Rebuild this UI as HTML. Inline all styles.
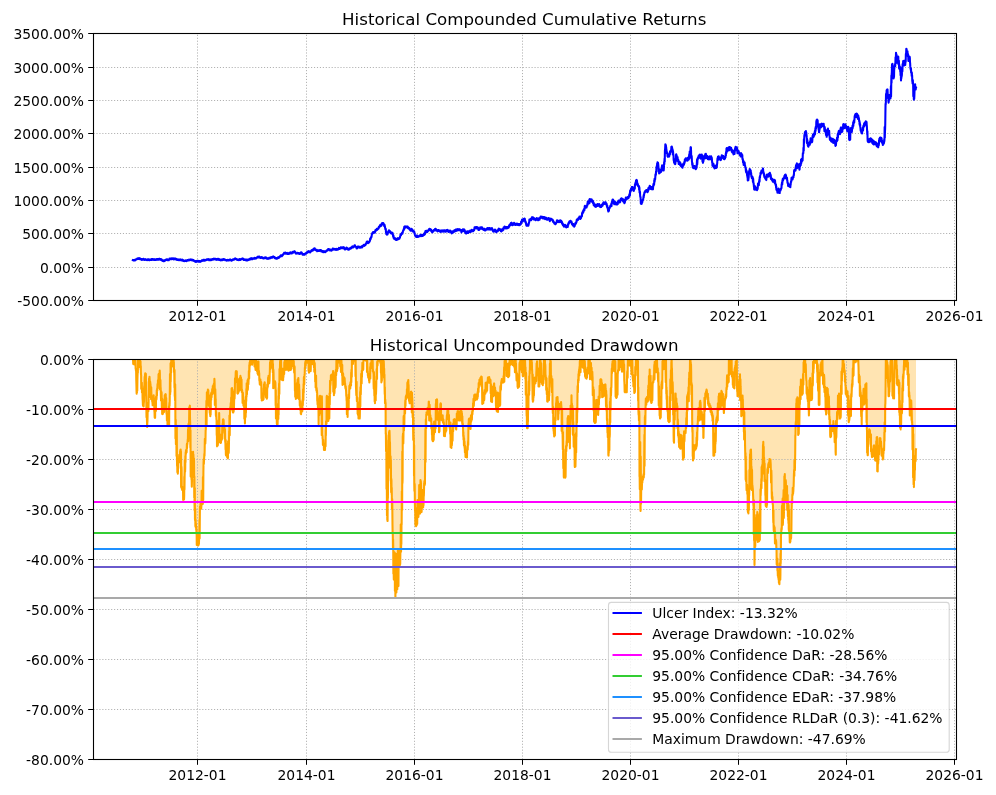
<!DOCTYPE html>
<html lang="en"><head><meta charset="utf-8"><title>Historical Drawdown</title>
<style>html,body{margin:0;padding:0;background:#fff}svg{display:block;font-variant-ligatures:none;font-feature-settings:'liga' 0,'clig' 0}</style>
</head><body>
<svg width="996" height="795" viewBox="0 0 996 795" font-family="'DejaVu Sans', 'Liberation Sans', sans-serif" font-size="13.89" fill="#000">
<rect width="996" height="795" fill="#fff"/>
<defs><clipPath id="c1"><rect x="93.5" y="33.5" width="863.0" height="267.0"/></clipPath><clipPath id="c2"><rect x="93.5" y="359.5" width="863.0" height="400.0"/></clipPath></defs>
<g stroke="#b0b0b0" stroke-width="1" stroke-dasharray="1.11 1.83" fill="none">
<path d="M197.5 300.5V33.5"/>
<path d="M306.5 300.5V33.5"/>
<path d="M414.5 300.5V33.5"/>
<path d="M522.5 300.5V33.5"/>
<path d="M630.5 300.5V33.5"/>
<path d="M738.5 300.5V33.5"/>
<path d="M846.5 300.5V33.5"/>
<path d="M954.5 300.5V33.5"/>
<path d="M93.5 300.5H956.5"/>
<path d="M93.5 267.5H956.5"/>
<path d="M93.5 233.5H956.5"/>
<path d="M93.5 200.5H956.5"/>
<path d="M93.5 167.5H956.5"/>
<path d="M93.5 133.5H956.5"/>
<path d="M93.5 100.5H956.5"/>
<path d="M93.5 67.5H956.5"/>
<path d="M93.5 33.5H956.5"/>
</g>
<path clip-path="url(#c1)" d="M132.8 260.1 L132.95 260.2 L133.09 260.09 L133.24 260.36 L133.39 259.99 L133.54 260 L133.68 260.28 L133.83 260.36 L133.98 260.06 L134.12 260.23 L134.27 260.21 L134.42 260.13 L134.57 260.2 L134.71 259.89 L134.86 259.86 L135.01 260.56 L135.16 259.92 L135.3 260.32 L135.45 259.97 L135.6 259.81 L135.74 259.59 L135.89 259.26 L136.04 259.75 L136.19 259.4 L136.33 259.21 L136.48 259.3 L136.63 259.03 L136.78 258.83 L136.92 258.76 L137.07 258.93 L137.22 259.05 L137.36 258.51 L137.51 258.4 L137.66 258.56 L137.81 258.76 L137.95 258.69 L138.1 258.5 L138.25 258.42 L138.39 258.97 L138.54 258.75 L138.69 258.3 L138.84 258.78 L138.98 258.18 L139.13 258.93 L139.28 258.47 L139.43 258.32 L139.57 258.35 L139.72 258.78 L139.87 258.91 L140.01 258.94 L140.16 259.25 L140.31 258.62 L140.46 259.15 L140.6 259.18 L140.75 258.87 L140.9 259.26 L141.05 259.49 L141.19 259.39 L141.34 259.37 L141.49 259.05 L141.63 259.16 L141.78 259.9 L141.93 259.26 L142.08 259.75 L142.22 259 L142.37 259.15 L142.52 259.81 L142.67 259.56 L142.81 259.37 L142.96 259.46 L143.11 259.43 L143.25 259.08 L143.4 258.95 L143.55 259.15 L143.7 258.85 L143.84 259.59 L143.99 259.42 L144.14 259.67 L144.29 259.67 L144.43 259.84 L144.58 259.45 L144.73 259.73 L144.87 259.6 L145.02 259.21 L145.17 259.48 L145.32 259.87 L145.46 259.74 L145.61 259.23 L145.76 259.74 L145.91 259.39 L146.05 259.8 L146.2 259.7 L146.35 259.88 L146.49 259.9 L146.64 259.69 L146.79 259.66 L146.94 259.73 L147.08 260.23 L147.23 260.16 L147.38 260.02 L147.53 259.44 L147.67 259.39 L147.82 259.75 L147.97 259.31 L148.12 259.24 L148.26 259.92 L148.41 259.38 L148.56 259.78 L148.71 259.72 L148.85 259.7 L149 260.07 L149.15 259.54 L149.29 260.25 L149.44 259.53 L149.59 260.19 L149.74 259.5 L149.88 259.78 L150.03 259.8 L150.18 259.47 L150.33 259.56 L150.47 260.03 L150.62 259.83 L150.77 259.82 L150.92 259.91 L151.06 259.72 L151.21 259.22 L151.36 259.42 L151.51 259.7 L151.65 259.79 L151.8 259.15 L151.95 259.71 L152.09 259.11 L152.24 259.32 L152.39 259.69 L152.54 259.08 L152.68 259.26 L152.83 259.71 L152.98 259.17 L153.13 259.63 L153.27 259.87 L153.42 259.61 L153.57 259.59 L153.72 259.39 L153.86 259.38 L154.01 259.62 L154.16 259.18 L154.31 259.85 L154.45 259.23 L154.6 259.21 L154.75 259.7 L154.89 259.85 L155.04 259.7 L155.19 259.95 L155.34 259.44 L155.48 259.93 L155.63 259.65 L155.78 259.6 L155.93 259.79 L156.07 259.38 L156.22 259.12 L156.37 259.55 L156.52 259.63 L156.66 259.72 L156.81 259.49 L156.96 259.85 L157.11 259.05 L157.25 259.18 L157.4 259.7 L157.55 259.11 L157.69 259.04 L157.84 259.61 L157.99 259.54 L158.14 259.47 L158.28 259.65 L158.43 259.22 L158.58 259.45 L158.73 259.31 L158.87 258.91 L159.02 258.8 L159.17 259.39 L159.32 259.56 L159.46 258.91 L159.61 259.09 L159.76 259.31 L159.91 258.94 L160.05 259.16 L160.2 259.3 L160.35 259.2 L160.49 259.76 L160.64 259.67 L160.79 259.29 L160.94 259.33 L161.08 259.21 L161.23 259.97 L161.38 259.37 L161.53 260.09 L161.67 260.26 L161.82 259.68 L161.97 259.8 L162.11 260.09 L162.26 260.61 L162.41 260.68 L162.56 260.13 L162.7 260.85 L162.85 260.76 L163 260.39 L163.15 261.1 L163.29 261.19 L163.44 260.52 L163.59 260.46 L163.73 261.04 L163.88 261.14 L164.03 260.33 L164.18 260.27 L164.32 261.03 L164.47 260.89 L164.62 260.39 L164.77 260.19 L164.91 260.07 L165.06 260.66 L165.21 259.98 L165.35 260.39 L165.5 259.85 L165.65 260.33 L165.8 259.74 L165.94 260.05 L166.09 259.59 L166.24 259.79 L166.39 259.96 L166.53 259.83 L166.68 259.34 L166.83 259.52 L166.97 259.97 L167.12 259.77 L167.27 259.62 L167.42 260.11 L167.56 259.54 L167.71 260.19 L167.86 259.71 L168.01 260.13 L168.15 260.09 L168.3 259.7 L168.45 259.61 L168.59 259.97 L168.74 260.26 L168.89 259.6 L169.03 259.45 L169.18 259.8 L169.33 259.54 L169.47 258.67 L169.62 259.25 L169.77 259.3 L169.91 259.23 L170.06 258.45 L170.21 258.55 L170.35 258.82 L170.5 258.76 L170.65 258.5 L170.79 258.91 L170.94 258.87 L171.09 258.57 L171.23 259.18 L171.38 258.62 L171.53 258.45 L171.67 258.81 L171.82 258.95 L171.97 259.21 L172.11 258.44 L172.26 258.86 L172.41 258.6 L172.55 258.46 L172.7 258.7 L172.85 258.62 L173 258.41 L173.15 258.57 L173.3 258.6 L173.45 259.12 L173.6 259.32 L173.75 258.6 L173.9 259.3 L174.05 258.5 L174.2 258.61 L174.35 258.79 L174.5 258.92 L174.65 258.47 L174.8 258.62 L174.95 258.78 L175.1 259.32 L175.25 259.21 L175.4 259.13 L175.55 258.51 L175.7 259.05 L175.85 258.63 L176 258.97 L176.15 259.57 L176.3 259.26 L176.45 259.23 L176.6 259.08 L176.75 259.69 L176.9 259.9 L177.05 259.68 L177.2 259.46 L177.35 259.27 L177.5 259.78 L177.65 259.95 L177.8 259.79 L177.95 259.45 L178.1 259.65 L178.25 259.8 L178.4 259.9 L178.55 260.05 L178.69 259.5 L178.84 259.51 L178.99 260.17 L179.13 260.23 L179.28 259.52 L179.42 259.43 L179.57 259.51 L179.72 259.59 L179.86 259.95 L180.01 259.66 L180.16 259.47 L180.3 259.95 L180.45 260.15 L180.6 260.21 L180.74 260.13 L180.89 259.9 L181.03 260.14 L181.18 259.78 L181.33 260.28 L181.47 260.24 L181.62 260.27 L181.77 260.49 L181.91 260.13 L182.06 259.77 L182.2 259.74 L182.35 259.97 L182.5 259.64 L182.64 259.9 L182.79 260 L182.94 260.55 L183.08 260.57 L183.23 260.23 L183.38 260.98 L183.52 260.46 L183.67 260.91 L183.81 261.03 L183.96 261.1 L184.11 260.68 L184.25 261.19 L184.4 260.9 L184.55 260.66 L184.69 260.68 L184.84 260.97 L184.99 260.85 L185.13 260.73 L185.28 260.58 L185.42 260.48 L185.57 260.39 L185.72 260.48 L185.86 260.77 L186.01 261.08 L186.16 261.13 L186.3 260.8 L186.45 261.08 L186.6 260.45 L186.74 260.97 L186.89 260.52 L187.03 260.83 L187.18 260.63 L187.33 260.1 L187.47 260.57 L187.62 259.94 L187.77 260.44 L187.91 260.52 L188.06 260.22 L188.2 260.44 L188.35 260.34 L188.5 260.51 L188.64 260.54 L188.79 259.77 L188.94 259.65 L189.08 259.46 L189.23 259.43 L189.38 259.71 L189.52 259.79 L189.67 260.13 L189.81 259.73 L189.96 260.19 L190.11 260.22 L190.25 260.01 L190.4 259.9 L190.55 259.79 L190.7 259.62 L190.84 260.02 L190.99 259.38 L191.14 259.53 L191.29 259.93 L191.44 259.99 L191.58 259.68 L191.73 260.23 L191.88 260.29 L192.03 259.69 L192.18 260.27 L192.32 259.75 L192.47 260.45 L192.62 259.9 L192.77 260.1 L192.92 259.86 L193.07 260.02 L193.21 260.39 L193.36 260.44 L193.51 260.06 L193.66 260.4 L193.81 260.58 L193.95 260.78 L194.1 260.57 L194.25 260.78 L194.4 260.78 L194.55 260.87 L194.69 261.27 L194.84 261.3 L194.99 261.61 L195.14 261.17 L195.29 261.55 L195.43 261.74 L195.58 261.62 L195.73 261.06 L195.88 261.61 L196.03 261.86 L196.18 261.1 L196.32 261.45 L196.47 261.06 L196.62 261.03 L196.77 261.66 L196.92 261.22 L197.06 260.91 L197.21 261.54 L197.36 261.29 L197.51 261.56 L197.66 261.58 L197.8 261.39 L197.95 260.87 L198.1 261.3 L198.25 261.62 L198.39 261.71 L198.54 260.99 L198.69 261.05 L198.84 261.72 L198.98 261.53 L199.13 261.33 L199.28 261.18 L199.43 261.71 L199.57 261.11 L199.72 261.64 L199.87 261.56 L200.02 261.79 L200.16 261.57 L200.31 261.33 L200.46 261.52 L200.61 261.65 L200.75 260.94 L200.9 261.16 L201.05 260.93 L201.19 261.34 L201.34 261.14 L201.49 261.07 L201.64 261.05 L201.78 260.4 L201.93 261.03 L202.08 260.87 L202.23 260.23 L202.37 260.72 L202.52 260.34 L202.67 260.26 L202.82 260.68 L202.96 260.29 L203.11 260.33 L203.26 259.81 L203.41 260.28 L203.55 259.75 L203.7 260.21 L203.85 260.65 L203.99 260.43 L204.14 260.26 L204.29 260.26 L204.44 260.07 L204.58 260.7 L204.73 259.89 L204.88 260.29 L205.03 260.49 L205.17 260.32 L205.32 260.22 L205.47 260.41 L205.62 260.31 L205.76 260.31 L205.91 260.1 L206.06 259.81 L206.21 259.73 L206.35 259.58 L206.5 259.7 L206.65 259.79 L206.8 259.42 L206.95 259.96 L207.1 259.61 L207.24 259.22 L207.39 259.24 L207.54 259.71 L207.69 259.64 L207.84 259.74 L207.99 259.63 L208.14 259.31 L208.29 259.12 L208.43 259.75 L208.58 259.42 L208.73 259.72 L208.88 260 L209.03 259.43 L209.18 260.19 L209.33 259.95 L209.48 260.03 L209.62 259.58 L209.77 259.55 L209.92 259.6 L210.07 259.47 L210.22 259.66 L210.37 260.13 L210.52 259.89 L210.67 259.62 L210.81 260.24 L210.96 260.05 L211.11 260.04 L211.26 259.98 L211.41 260.04 L211.56 259.94 L211.71 259.46 L211.86 259.31 L212 259.24 L212.15 259.11 L212.3 259.06 L212.45 259.31 L212.6 259.3 L212.75 259.4 L212.9 259.62 L213.04 259.53 L213.19 259.15 L213.34 258.81 L213.49 258.81 L213.64 259.23 L213.79 258.75 L213.93 258.9 L214.08 259.39 L214.23 259.21 L214.38 259.32 L214.53 259.27 L214.67 258.76 L214.82 259.09 L214.97 259.04 L215.12 259.2 L215.27 258.72 L215.41 259.19 L215.56 258.96 L215.71 259.59 L215.86 258.96 L216.01 259.15 L216.16 259.54 L216.3 259.71 L216.45 259.24 L216.6 259.15 L216.75 259.13 L216.9 259.85 L217.04 259.71 L217.19 259.78 L217.34 259.24 L217.49 259.57 L217.64 259.14 L217.79 259.31 L217.93 258.91 L218.08 259.32 L218.23 258.82 L218.38 258.89 L218.53 259.81 L218.67 259.45 L218.82 259.12 L218.97 259.86 L219.12 259.76 L219.27 260 L219.41 259.43 L219.56 260.02 L219.71 259.4 L219.86 259.57 L220.01 259.65 L220.16 260.22 L220.3 259.73 L220.45 260.29 L220.6 260.1 L220.75 260.31 L220.89 259.94 L221.04 260.34 L221.19 259.79 L221.34 259.95 L221.48 259.9 L221.63 259.77 L221.78 260.22 L221.93 259.92 L222.07 260.3 L222.22 260.26 L222.37 259.72 L222.51 259.87 L222.66 260.04 L222.81 259.25 L222.96 259.48 L223.1 259.7 L223.25 259.5 L223.4 259.14 L223.55 259.84 L223.69 259.44 L223.84 259.62 L223.99 259.27 L224.13 259.78 L224.28 259.5 L224.43 259.73 L224.58 259.8 L224.72 259.45 L224.87 260.08 L225.02 260.01 L225.17 260.2 L225.31 259.99 L225.46 259.74 L225.61 259.82 L225.75 259.84 L225.9 260.09 L226.05 260.06 L226.2 260.05 L226.34 260.36 L226.49 260.18 L226.64 260.52 L226.79 260.65 L226.93 260.45 L227.08 259.99 L227.23 260.08 L227.37 260.32 L227.52 260.05 L227.67 259.8 L227.82 259.79 L227.96 260.1 L228.11 260.54 L228.26 260.54 L228.41 260.04 L228.55 260.54 L228.7 260.3 L228.85 260.38 L229 260.36 L229.14 260.46 L229.29 259.96 L229.44 260.25 L229.59 259.65 L229.74 260.11 L229.89 260.11 L230.03 260.09 L230.18 259.85 L230.33 260.07 L230.48 259.7 L230.63 260.03 L230.77 259.65 L230.92 260.31 L231.07 260.15 L231.22 260.31 L231.37 260.75 L231.51 260.33 L231.66 260.61 L231.81 260.65 L231.96 260.35 L232.11 259.97 L232.26 260.37 L232.4 259.8 L232.55 260.1 L232.7 259.53 L232.85 259.34 L233 259.5 L233.14 259.59 L233.29 259.9 L233.44 259.68 L233.59 259.27 L233.74 259.46 L233.89 259.58 L234.03 259.48 L234.18 259.57 L234.33 258.76 L234.48 259.03 L234.63 258.79 L234.77 259.2 L234.92 259.13 L235.07 258.9 L235.22 259.07 L235.37 258.61 L235.51 258.46 L235.66 258.86 L235.81 258.85 L235.96 258.77 L236.11 258.86 L236.26 259.02 L236.4 259.46 L236.55 259.39 L236.7 259.3 L236.85 259.08 L237 259.28 L237.15 259.94 L237.3 259.76 L237.45 259.59 L237.6 260.05 L237.74 259.68 L237.89 259.68 L238.04 259.85 L238.19 259.59 L238.34 260.03 L238.49 259.78 L238.64 259.65 L238.79 260.21 L238.94 259.96 L239.09 259.73 L239.24 259.55 L239.39 259.14 L239.53 259.27 L239.68 259.46 L239.83 259.23 L239.98 259.39 L240.13 259.51 L240.28 260.06 L240.43 259.36 L240.58 259.62 L240.73 259.32 L240.88 259.1 L241.03 259.01 L241.18 259.46 L241.32 259.46 L241.47 258.88 L241.62 259.21 L241.77 258.8 L241.92 258.89 L242.07 258.73 L242.22 258.73 L242.37 258.53 L242.52 258.56 L242.67 258.74 L242.82 258.62 L242.97 258.64 L243.11 259.09 L243.26 259.24 L243.41 259.85 L243.56 259.42 L243.71 259.77 L243.86 259.39 L244.01 259.66 L244.16 259.9 L244.31 259.22 L244.46 259.5 L244.61 259.65 L244.76 259.65 L244.9 259.88 L245.05 259.85 L245.2 260.05 L245.35 259.91 L245.5 260 L245.65 259.54 L245.8 259.7 L245.95 259.46 L246.1 260.22 L246.24 260.37 L246.39 260.39 L246.54 260 L246.69 259.96 L246.83 260.27 L246.98 260.13 L247.13 260.37 L247.28 259.62 L247.42 259.98 L247.57 259.97 L247.72 260.31 L247.87 260.21 L248.01 259.89 L248.16 259.74 L248.31 259.77 L248.46 259.99 L248.6 259.9 L248.75 259.83 L248.9 259.31 L249.05 259.08 L249.19 258.98 L249.34 259.44 L249.49 259.46 L249.64 258.92 L249.78 259.1 L249.93 259.64 L250.08 258.95 L250.23 259.36 L250.37 259.26 L250.52 259.26 L250.67 258.44 L250.82 258.25 L250.96 258.51 L251.11 258.83 L251.26 258.56 L251.41 258.89 L251.55 258.36 L251.7 258.83 L251.85 258.93 L252 258.44 L252.14 259.24 L252.29 259.11 L252.44 259.21 L252.59 258.74 L252.73 258.66 L252.88 258.65 L253.03 258.31 L253.18 258.78 L253.32 258.65 L253.47 258.36 L253.62 258.26 L253.77 258.23 L253.91 258.77 L254.06 258.41 L254.21 257.92 L254.36 257.93 L254.5 258.22 L254.65 257.82 L254.8 258.1 L254.95 258.71 L255.1 258.7 L255.25 258.09 L255.4 258.22 L255.54 258.15 L255.69 258.4 L255.84 258.43 L255.99 258.49 L256.14 258.07 L256.29 258.23 L256.44 258.18 L256.59 258.19 L256.73 257.81 L256.88 257.89 L257.03 257.71 L257.18 257.25 L257.33 257.1 L257.48 256.71 L257.63 256.95 L257.78 256.8 L257.92 257.04 L258.07 256.97 L258.22 256.68 L258.37 257.41 L258.52 257.22 L258.67 257.33 L258.82 257.22 L258.97 256.7 L259.11 257.12 L259.26 256.53 L259.41 257.06 L259.56 257.41 L259.71 257.26 L259.86 257.34 L260.01 257.59 L260.16 257.17 L260.3 257.24 L260.45 257.65 L260.6 257.91 L260.75 257.5 L260.9 257.7 L261.05 257.8 L261.2 257.04 L261.34 257.11 L261.49 257.65 L261.64 257.15 L261.79 257.56 L261.94 257.77 L262.09 257.59 L262.23 257.47 L262.38 257.37 L262.53 257.95 L262.68 257.46 L262.83 257.67 L262.97 257.93 L263.12 258.28 L263.27 258.46 L263.42 258.17 L263.57 257.93 L263.71 258.13 L263.86 258.2 L264.01 258.2 L264.16 258.36 L264.31 257.99 L264.46 258.19 L264.6 258.22 L264.75 257.84 L264.9 258.02 L265.05 257.35 L265.2 257.57 L265.34 257.95 L265.49 257.68 L265.64 257.82 L265.79 257.95 L265.94 257.87 L266.09 257.39 L266.23 258.13 L266.38 258.45 L266.53 258.22 L266.68 258.17 L266.83 258.6 L266.97 258.16 L267.12 258.52 L267.27 258.52 L267.42 258.23 L267.57 258.57 L267.71 258.3 L267.86 258.51 L268.01 258.83 L268.16 258.46 L268.31 258.4 L268.46 258.76 L268.6 258.02 L268.75 258.35 L268.9 258.3 L269.05 257.95 L269.19 258.2 L269.34 257.95 L269.49 258.44 L269.64 258.44 L269.78 257.8 L269.93 257.82 L270.08 257.63 L270.22 257.7 L270.37 258.26 L270.52 258.09 L270.66 257.4 L270.81 257.26 L270.96 257.82 L271.11 257.65 L271.25 257.81 L271.4 257.32 L271.55 257.15 L271.69 257.33 L271.84 257.39 L271.99 257.77 L272.14 257.29 L272.28 257.66 L272.43 257.19 L272.58 257.14 L272.72 257.43 L272.87 256.52 L273.02 256.54 L273.16 256.82 L273.31 256.42 L273.46 256.75 L273.61 257.1 L273.75 256.84 L273.9 256.9 L274.05 256.8 L274.19 257.36 L274.34 257 L274.49 257.52 L274.63 258.1 L274.78 257.65 L274.92 257.43 L275.07 257.63 L275.22 258.08 L275.36 257.69 L275.51 258.08 L275.66 258.33 L275.8 258.04 L275.95 258.37 L276.1 258.4 L276.24 258.76 L276.39 258 L276.54 258.29 L276.68 258.72 L276.83 258.56 L276.98 258.46 L277.12 258.1 L277.27 258.02 L277.41 258.48 L277.56 258.37 L277.71 257.61 L277.85 257.58 L278 257.7 L278.15 257.28 L278.3 257.34 L278.44 257.65 L278.59 257.94 L278.74 257.87 L278.89 257.76 L279.04 257.73 L279.19 256.78 L279.33 257.26 L279.48 257 L279.63 256.57 L279.78 256.74 L279.93 256.69 L280.07 256.13 L280.22 256.47 L280.37 256.56 L280.52 255.73 L280.67 255.83 L280.81 255.33 L280.96 255.81 L281.11 256.2 L281.26 255.48 L281.41 255.46 L281.56 255.93 L281.7 255.68 L281.85 256.16 L282 255.5 L282.15 255.67 L282.3 255.42 L282.45 255.58 L282.6 255.4 L282.74 254.61 L282.89 254.66 L283.04 254.78 L283.19 254.12 L283.34 254.19 L283.49 254.34 L283.64 254.14 L283.79 253.95 L283.94 253.77 L284.09 252.91 L284.23 253.17 L284.38 252.82 L284.53 252.98 L284.68 253.02 L284.83 252.71 L284.98 253.48 L285.13 252.62 L285.28 252.52 L285.43 253.12 L285.57 253.54 L285.72 252.88 L285.87 252.79 L286.02 253.78 L286.17 253.23 L286.32 253.06 L286.47 253.38 L286.62 253.21 L286.77 253.69 L286.91 253.56 L287.06 253.25 L287.21 253.57 L287.36 253.93 L287.51 253.67 L287.66 253.34 L287.81 253.23 L287.96 252.89 L288.11 253.1 L288.26 253.52 L288.4 253.2 L288.55 253.23 L288.7 254.03 L288.85 253.53 L289 253.6 L289.15 253.61 L289.3 253.46 L289.45 253.34 L289.6 253.08 L289.74 253.14 L289.89 253.72 L290.04 252.49 L290.19 252.89 L290.34 252.24 L290.49 252.5 L290.64 253.08 L290.79 252.54 L290.93 252.5 L291.08 253.09 L291.23 252.75 L291.38 253.38 L291.53 253.33 L291.68 252.81 L291.83 253.44 L291.98 252.79 L292.12 252.34 L292.27 252.64 L292.42 252.18 L292.57 252.49 L292.72 252.62 L292.87 251.74 L293.02 252.56 L293.17 252.74 L293.31 251.94 L293.46 251.82 L293.61 252.28 L293.76 251.81 L293.91 252.35 L294.06 251.77 L294.21 251.39 L294.36 252.22 L294.5 251.8 L294.65 251.28 L294.8 251.65 L294.95 251.99 L295.1 252.2 L295.25 252.49 L295.4 252.21 L295.55 252.85 L295.7 253.44 L295.84 253.3 L295.99 253.72 L296.14 253.61 L296.29 253.56 L296.44 253.28 L296.59 253.46 L296.74 253.46 L296.89 253.46 L297.04 253.35 L297.19 253.19 L297.33 252.81 L297.48 253.03 L297.63 253.39 L297.78 253.47 L297.93 253 L298.08 253.39 L298.23 252.98 L298.38 253.47 L298.53 253.31 L298.67 253.25 L298.82 253.64 L298.97 253.8 L299.12 253.4 L299.27 253.97 L299.42 253.62 L299.57 254.05 L299.72 253.37 L299.87 253.5 L300.01 253.14 L300.16 253.62 L300.31 253.1 L300.46 253.69 L300.61 253.12 L300.76 252.76 L300.91 252.45 L301.06 252.82 L301.21 253.02 L301.36 252.48 L301.5 252.39 L301.65 252.92 L301.8 253.41 L301.95 253 L302.1 253.4 L302.25 253.34 L302.4 253.88 L302.55 254.67 L302.7 254.07 L302.84 254.44 L302.99 254.63 L303.14 254.26 L303.29 254.05 L303.44 254.08 L303.59 254.55 L303.74 254.38 L303.89 254.56 L304.04 254.15 L304.19 254.46 L304.33 254.77 L304.48 254.31 L304.63 254.67 L304.78 254.01 L304.93 254.23 L305.08 253.68 L305.23 253.48 L305.38 253.74 L305.53 253.26 L305.67 253.64 L305.82 253.13 L305.97 253.19 L306.12 253.64 L306.27 253.51 L306.42 253.46 L306.57 252.49 L306.72 252.88 L306.87 252.33 L307.01 252.73 L307.16 252.75 L307.31 251.86 L307.46 252.66 L307.61 251.75 L307.76 252.54 L307.91 251.51 L308.06 251.39 L308.21 251.44 L308.36 251.24 L308.5 251.18 L308.65 251.65 L308.8 251.39 L308.95 251.58 L309.1 251.6 L309.25 251.97 L309.39 252.02 L309.54 251.48 L309.69 252.25 L309.83 251.72 L309.98 252.01 L310.12 252.45 L310.27 251.9 L310.42 252.16 L310.56 251.38 L310.71 251.71 L310.86 251.46 L311 250.96 L311.15 251.25 L311.3 250.87 L311.44 250.4 L311.59 251.09 L311.73 250.23 L311.88 250.54 L312.03 250.03 L312.17 250.59 L312.32 250.44 L312.47 250.67 L312.61 250.56 L312.76 250.58 L312.9 249.73 L313.05 249.22 L313.2 249.93 L313.34 249.78 L313.49 248.95 L313.64 249.18 L313.78 249.05 L313.93 248.51 L314.08 248.9 L314.22 249.11 L314.37 248.44 L314.51 248.94 L314.66 248.22 L314.81 249.15 L314.95 248.79 L315.1 249.1 L315.25 250.05 L315.4 249.46 L315.54 249.95 L315.69 250.15 L315.84 249.76 L315.99 250.33 L316.14 250.26 L316.29 249.89 L316.43 249.85 L316.58 250.06 L316.73 250 L316.88 249.84 L317.03 250.3 L317.17 251.26 L317.32 250.81 L317.47 250.47 L317.62 251.11 L317.77 250.88 L317.91 250.77 L318.06 250.9 L318.21 250.64 L318.36 250.26 L318.51 250.96 L318.66 250.4 L318.8 250.41 L318.95 250.77 L319.1 250.5 L319.25 250.82 L319.39 250.97 L319.54 250.88 L319.69 250.29 L319.84 249.97 L319.98 250.46 L320.13 249.99 L320.28 250.74 L320.42 250.58 L320.57 250.23 L320.72 250.17 L320.86 250.7 L321.01 250.4 L321.16 251.2 L321.31 250.38 L321.45 250.77 L321.6 251.5 L321.75 250.85 L321.89 251.32 L322.04 251.71 L322.19 251.71 L322.34 251.56 L322.48 251.63 L322.63 250.99 L322.78 251.65 L322.92 251.67 L323.07 252.29 L323.22 251.49 L323.36 252.17 L323.51 251.6 L323.66 251.93 L323.81 251.81 L323.95 251.02 L324.1 251.3 L324.25 251.42 L324.4 251.97 L324.55 252.05 L324.7 251.92 L324.84 251.66 L324.99 252.22 L325.14 252.05 L325.29 252.01 L325.44 251.77 L325.59 251.95 L325.74 251.72 L325.89 250.95 L326.03 251.04 L326.18 251.37 L326.33 250.96 L326.48 250.46 L326.63 250.98 L326.78 250.3 L326.93 250.6 L327.08 250.74 L327.22 250.67 L327.37 250.22 L327.52 250.2 L327.67 250.43 L327.82 250.13 L327.97 249.98 L328.12 249.05 L328.27 249.17 L328.41 249.02 L328.56 249.13 L328.71 249.38 L328.86 249.07 L329.01 249.35 L329.16 249.76 L329.31 249.56 L329.46 249.56 L329.6 249.38 L329.75 249.46 L329.9 250.5 L330.05 250.53 L330.2 249.9 L330.35 250.41 L330.5 249.87 L330.65 249.71 L330.8 250.43 L330.94 250.52 L331.09 249.9 L331.24 250.04 L331.39 250.47 L331.54 250.6 L331.69 250.07 L331.84 250.29 L331.99 250.05 L332.14 249.31 L332.29 249.22 L332.43 249.55 L332.58 249.69 L332.73 248.59 L332.88 248.78 L333.03 249.02 L333.18 249.62 L333.33 248.77 L333.48 249.16 L333.63 248.73 L333.77 249.02 L333.92 249.4 L334.07 249.13 L334.22 249.28 L334.37 249.02 L334.52 249.56 L334.67 249.62 L334.82 249.37 L334.97 249.5 L335.11 248.91 L335.26 249.56 L335.41 249.13 L335.56 249.11 L335.71 249.31 L335.86 249.7 L336.01 249.8 L336.16 249.08 L336.31 249.56 L336.46 249.66 L336.6 249.41 L336.75 248.86 L336.9 249.7 L337.05 249.62 L337.2 249.1 L337.35 249.3 L337.49 249.79 L337.64 249.58 L337.79 249.76 L337.94 249.09 L338.08 248.76 L338.23 249.36 L338.38 248.94 L338.53 248.68 L338.67 248.81 L338.82 248.7 L338.97 247.92 L339.12 248.06 L339.26 248.77 L339.41 248.11 L339.56 249.03 L339.71 249.04 L339.85 248.43 L340 248.3 L340.15 248.13 L340.3 247.83 L340.45 248.38 L340.6 247.93 L340.75 247.18 L340.9 247.92 L341.05 247.22 L341.2 247.2 L341.35 248.3 L341.5 248.01 L341.65 247.85 L341.8 248.26 L341.95 247.68 L342.1 247.51 L342.25 247.83 L342.4 248.27 L342.55 247.29 L342.7 247.6 L342.85 247.91 L343 247.8 L343.15 247.8 L343.29 247.83 L343.44 247.2 L343.59 247.59 L343.74 248.15 L343.88 247.17 L344.03 247.79 L344.18 248.63 L344.33 248.13 L344.47 249.16 L344.62 248.57 L344.77 249.43 L344.92 249.34 L345.06 249.31 L345.21 249.41 L345.36 249.38 L345.51 248.72 L345.65 249.14 L345.8 248.87 L345.95 248.01 L346.09 248.44 L346.24 248.63 L346.39 248.51 L346.54 247.61 L346.68 247.63 L346.83 247.68 L346.98 247.83 L347.13 248.02 L347.27 248.38 L347.42 249.11 L347.57 248.54 L347.72 249.38 L347.86 249.09 L348.01 249.21 L348.16 249 L348.31 249.67 L348.45 249.11 L348.6 249.5 L348.75 249.04 L348.9 249.59 L349.04 249.31 L349.19 249.39 L349.34 248.39 L349.49 248.43 L349.63 248.65 L349.78 248.76 L349.93 248.47 L350.08 248.63 L350.23 248.53 L350.37 248.11 L350.52 248.17 L350.67 248.47 L350.82 248.63 L350.96 248.55 L351.11 247.99 L351.26 247.98 L351.41 248 L351.55 246.97 L351.7 247.62 L351.85 247.33 L352 247.06 L352.15 247.05 L352.29 246.48 L352.44 246.35 L352.59 247.19 L352.74 247.09 L352.88 247.29 L353.03 246.72 L353.18 247.1 L353.33 246.83 L353.48 247.35 L353.62 247.09 L353.77 246.19 L353.92 246.56 L354.07 246.76 L354.21 246.4 L354.36 246.25 L354.51 245.42 L354.66 245.89 L354.8 246.09 L354.95 245.27 L355.1 245.8 L355.25 245.99 L355.39 246.71 L355.54 246.81 L355.69 246.83 L355.84 246.85 L355.98 246.77 L356.13 246.76 L356.28 246.93 L356.42 247.4 L356.57 248.25 L356.72 247.84 L356.86 247.61 L357.01 248.48 L357.16 248.07 L357.31 247.84 L357.45 247.94 L357.6 246.84 L357.75 247.46 L357.89 246.48 L358.04 247.26 L358.19 246.49 L358.34 246.71 L358.48 246.98 L358.63 246.76 L358.78 246.95 L358.92 247.42 L359.07 247.24 L359.22 246.8 L359.36 246.9 L359.51 247.67 L359.66 246.78 L359.81 247.49 L359.95 247.39 L360.1 247.3 L360.25 247.69 L360.4 247.46 L360.54 247.2 L360.69 247.17 L360.84 246.84 L360.99 247.42 L361.14 247.43 L361.29 246.65 L361.43 247.38 L361.58 247.33 L361.73 246.63 L361.88 247.43 L362.03 247.41 L362.17 245.92 L362.32 245.99 L362.47 246.18 L362.62 246.79 L362.77 245.94 L362.91 245.96 L363.06 245.69 L363.21 245.31 L363.36 245.44 L363.51 245.18 L363.66 244.93 L363.8 245.58 L363.95 244.97 L364.1 245.3 L364.24 245.42 L364.39 245.81 L364.53 245.72 L364.68 244.87 L364.82 245.41 L364.97 245.17 L365.11 244.67 L365.26 244.4 L365.4 244.11 L365.54 244.96 L365.69 244.55 L365.83 244.18 L365.98 243.64 L366.12 243.29 L366.27 243.65 L366.41 242.57 L366.56 243.03 L366.7 241.8 L366.85 241.8 L367 242.36 L367.15 242.35 L367.3 241.42 L367.45 242.39 L367.6 242.3 L367.75 242.94 L367.9 242.59 L368.05 243.16 L368.2 242.03 L368.35 243.02 L368.5 242.26 L368.65 242.62 L368.8 242.66 L368.95 241.82 L369.1 241.48 L369.25 242.04 L369.4 241.85 L369.55 241.08 L369.7 241 L369.84 241.1 L369.99 240.55 L370.13 238.78 L370.27 238.62 L370.41 238.21 L370.56 239.46 L370.7 238.51 L370.84 237.88 L370.99 238.03 L371.13 237.35 L371.27 236.58 L371.41 237.33 L371.56 236.19 L371.7 236.2 L371.85 234.39 L372 234.31 L372.15 233.29 L372.3 233.2 L372.45 232.91 L372.6 232.93 L372.75 233.54 L372.9 233.31 L373.05 232.06 L373.2 232.77 L373.35 232.14 L373.5 232.01 L373.65 232.31 L373.8 232.42 L373.95 232.34 L374.1 232.14 L374.25 232.09 L374.4 232.21 L374.55 232.75 L374.7 232.2 L374.85 232.67 L375 231.49 L375.15 231.98 L375.3 230.35 L375.45 230.94 L375.6 230.87 L375.75 229.7 L375.9 229.86 L376.05 229.94 L376.2 230.44 L376.35 229.63 L376.5 229.72 L376.65 229.32 L376.8 228.7 L376.95 229.41 L377.1 229.56 L377.25 229.87 L377.4 229.15 L377.55 229.32 L377.7 229.2 L377.85 228.93 L377.99 228.55 L378.14 228.52 L378.29 228.14 L378.44 228.76 L378.58 228.28 L378.73 228.22 L378.88 226.72 L379.02 227.58 L379.17 226.77 L379.32 226.31 L379.46 227.07 L379.61 226.6 L379.76 226.34 L379.91 226.13 L380.05 225.16 L380.2 224.9 L380.35 225.86 L380.5 225.71 L380.65 224.8 L380.8 225.83 L380.95 225.14 L381.1 225.92 L381.25 225.7 L381.4 225.59 L381.55 225.56 L381.7 224.62 L381.85 223.76 L382 223.74 L382.15 222.94 L382.3 223.9 L382.45 224.12 L382.59 224.08 L382.74 224.07 L382.89 223.29 L383.04 224.02 L383.18 222.93 L383.33 223.99 L383.48 224.1 L383.62 223.59 L383.77 224.9 L383.92 224.21 L384.06 225.21 L384.21 226.12 L384.36 224.97 L384.51 225.41 L384.65 225.06 L384.8 226.2 L384.94 226.46 L385.09 227.75 L385.23 228.32 L385.37 229.28 L385.51 229.39 L385.66 228.72 L385.8 229.11 L385.94 232.02 L386.09 232.81 L386.23 231.71 L386.37 234.26 L386.51 234.23 L386.66 234.51 L386.8 234.7 L386.94 234.24 L387.09 233.75 L387.23 234.18 L387.37 234.54 L387.51 232.87 L387.66 233.96 L387.8 233.1 L387.94 232.54 L388.09 231.95 L388.23 232.5 L388.37 231.2 L388.51 231.2 L388.66 232.21 L388.8 230.7 L388.94 230.28 L389.09 230.89 L389.23 231.61 L389.37 230.69 L389.51 231.41 L389.66 232.2 L389.8 232.37 L389.94 231.1 L390.09 231.23 L390.23 231.91 L390.37 231.81 L390.51 232.57 L390.66 232.85 L390.8 233.2 L390.95 233.27 L391.1 233.29 L391.25 233.52 L391.4 233.55 L391.55 232.6 L391.7 233.2 L391.85 233.67 L392 233 L392.15 233.7 L392.3 232.7 L392.44 232.75 L392.59 233.3 L392.73 234.19 L392.87 234.17 L393.01 235.7 L393.16 236.45 L393.3 235.75 L393.44 235.5 L393.59 237.91 L393.73 237.6 L393.87 237.29 L394.01 238.68 L394.16 238.06 L394.3 238.7 L394.44 238.84 L394.59 238.19 L394.73 238.27 L394.87 238.81 L395.01 239.15 L395.16 239.2 L395.3 238.69 L395.44 238.45 L395.59 239.58 L395.73 238.87 L395.87 238.81 L396.01 239.97 L396.16 239.29 L396.3 239.7 L396.45 239.12 L396.6 238.95 L396.74 239.99 L396.89 238.98 L397.04 239.02 L397.19 239.33 L397.33 238.75 L397.48 239.54 L397.63 239.56 L397.78 238.5 L397.92 238.12 L398.07 238.79 L398.22 238.96 L398.37 238.22 L398.51 238.57 L398.66 238.78 L398.81 238.68 L398.96 238.16 L399.1 238.18 L399.25 238.83 L399.4 238.7 L399.54 238 L399.69 237.85 L399.83 237.22 L399.97 237.55 L400.11 236.34 L400.26 235.64 L400.4 234.82 L400.54 235.87 L400.69 234.93 L400.83 235.06 L400.97 233.96 L401.11 235.13 L401.26 233.82 L401.4 234.2 L401.54 233.62 L401.69 233.83 L401.83 233.22 L401.97 232.92 L402.11 232.74 L402.26 232.88 L402.4 233.75 L402.54 232.26 L402.69 232.78 L402.83 231.76 L402.97 230.95 L403.11 231.05 L403.26 230.2 L403.4 230.2 L403.55 230.15 L403.7 229.04 L403.85 229.04 L404 229.78 L404.15 227.56 L404.3 226.7 L404.45 228.8 L404.6 226.62 L404.75 227.67 L404.9 227.27 L405.05 226.75 L405.2 226.84 L405.35 226.41 L405.5 226.57 L405.65 227.43 L405.8 227.03 L405.95 227.32 L406.1 227.25 L406.25 227.03 L406.4 227.19 L406.55 226.49 L406.7 227.25 L406.85 226.88 L407 227.27 L407.15 226.54 L407.3 227.16 L407.45 227.84 L407.6 226.77 L407.75 226.7 L407.9 227.7 L408.05 227.67 L408.2 227.43 L408.34 227.79 L408.49 228.56 L408.64 228.61 L408.79 228.75 L408.94 228.21 L409.09 228.6 L409.23 227.91 L409.38 228.94 L409.53 228.22 L409.68 229.46 L409.83 229.85 L409.97 229.93 L410.12 229.52 L410.27 229.42 L410.42 229.41 L410.57 230.76 L410.71 229.53 L410.86 230.36 L411.01 229.57 L411.16 229.24 L411.31 230.29 L411.46 229.94 L411.6 228.85 L411.75 229.45 L411.9 229.2 L412.04 229.51 L412.19 230.18 L412.33 230.05 L412.47 230.19 L412.61 231.24 L412.76 230.35 L412.9 230.38 L413.04 231.56 L413.19 231.44 L413.33 231.26 L413.47 231.34 L413.61 231.22 L413.76 231.09 L413.9 231.2 L414.04 231.68 L414.19 231.46 L414.33 232.75 L414.47 233.4 L414.61 233.73 L414.76 233.37 L414.9 234.7 L415.04 235.22 L415.19 235.82 L415.33 235.96 L415.48 235.69 L415.62 236.06 L415.77 236.35 L415.91 235.75 L416.06 235.58 L416.2 236.2 L416.34 237.02 L416.49 236.56 L416.63 236.12 L416.78 236.19 L416.92 235.85 L417.07 236.64 L417.21 235.89 L417.36 236.87 L417.5 236.2 L417.65 235.88 L417.79 235.98 L417.94 235.85 L418.09 236.91 L418.24 236.39 L418.38 236.46 L418.53 236.25 L418.68 236.56 L418.82 236.22 L418.97 236.48 L419.12 236.22 L419.26 236.01 L419.41 236.39 L419.56 236.02 L419.71 236.27 L419.85 235.81 L420 236.25 L420.15 235.08 L420.29 235.3 L420.44 235.26 L420.59 235.96 L420.74 235.31 L420.88 236.01 L421.03 234.89 L421.18 235.67 L421.32 235.53 L421.47 235.02 L421.62 234.79 L421.76 235.61 L421.91 236.1 L422.06 235.63 L422.21 235.53 L422.35 235.55 L422.5 235.7 L422.64 235.18 L422.79 235.48 L422.93 235.84 L423.07 234.78 L423.21 235.08 L423.36 234.94 L423.5 234.44 L423.64 234.82 L423.79 234.82 L423.93 233.8 L424.07 234.78 L424.21 234.73 L424.36 234.84 L424.5 234.7 L424.65 232.78 L424.8 232.75 L424.95 234.03 L425.1 232.69 L425.25 231.82 L425.4 231.17 L425.55 232.26 L425.7 231.6 L425.85 231.63 L426 231.2 L426.15 230.69 L426.3 231.17 L426.45 230.75 L426.6 231.83 L426.75 230.88 L426.9 231.17 L427.05 231.61 L427.2 232.06 L427.35 230.94 L427.5 231.33 L427.65 230.81 L427.8 230.78 L427.95 231.22 L428.1 231.12 L428.25 230.47 L428.4 230.08 L428.55 229.94 L428.7 230.59 L428.85 229.25 L429 230 L429.15 229.83 L429.3 229.5 L429.45 228.75 L429.6 229.71 L429.75 229.28 L429.9 229.89 L430.05 229.94 L430.2 229.24 L430.35 229.49 L430.5 229.78 L430.65 229.26 L430.8 230.54 L430.95 230.24 L431.1 229.75 L431.25 230.87 L431.4 231 L431.55 231.6 L431.7 230.62 L431.85 231.75 L432 232.19 L432.15 232.06 L432.3 231.53 L432.45 232.33 L432.6 231.7 L432.75 231.2 L432.9 231.06 L433.04 230.86 L433.19 231.58 L433.34 230.64 L433.49 231 L433.64 230.56 L433.79 229.99 L433.93 230.02 L434.08 230.66 L434.23 230.3 L434.38 230.35 L434.53 229.88 L434.67 229.97 L434.82 229.99 L434.97 228.98 L435.12 229.36 L435.27 229.18 L435.41 228.79 L435.56 228.74 L435.71 228.91 L435.86 230.35 L436.01 229.64 L436.16 230.2 L436.3 230.57 L436.45 229.89 L436.6 230.2 L436.75 230.04 L436.9 230.78 L437.05 229.91 L437.2 230.95 L437.35 231.08 L437.5 230.22 L437.65 231.38 L437.8 230.48 L437.95 230.31 L438.1 230.18 L438.25 230.41 L438.4 230.22 L438.55 229.97 L438.7 229.94 L438.85 231.01 L439 230.25 L439.15 231.07 L439.3 230.65 L439.45 231.06 L439.6 231.2 L439.75 231.45 L439.89 231.58 L440.04 231.29 L440.19 231.7 L440.34 231.79 L440.48 230.5 L440.63 231.8 L440.78 231.09 L440.93 231.78 L441.07 231.64 L441.22 231.76 L441.37 230.86 L441.51 230.9 L441.66 231.25 L441.81 231.12 L441.96 230.38 L442.1 231.2 L442.25 231.21 L442.4 230.9 L442.54 231.53 L442.69 231.56 L442.84 231.03 L442.99 231.31 L443.13 231.62 L443.28 230.75 L443.43 230.44 L443.57 231.59 L443.72 230.79 L443.87 230.98 L444.02 231.56 L444.16 231.48 L444.31 230.21 L444.46 230.26 L444.61 231.51 L444.75 231.27 L444.9 230.8 L445.05 231.11 L445.19 231.52 L445.34 230.92 L445.49 231.73 L445.63 230.56 L445.78 231.05 L445.92 231.66 L446.07 230.29 L446.22 230.56 L446.36 230.37 L446.51 230.7 L446.66 231.14 L446.8 231.11 L446.95 230.15 L447.1 231.24 L447.24 230.1 L447.39 229.88 L447.53 230.22 L447.68 230.58 L447.83 230.46 L447.97 231.39 L448.12 231.52 L448.27 230.76 L448.41 230.52 L448.56 231.76 L448.7 231.58 L448.85 230.86 L449 232.06 L449.14 231.22 L449.29 231.84 L449.44 231.36 L449.58 230.77 L449.73 230.91 L449.88 230.91 L450.02 230.46 L450.17 230.73 L450.31 230.56 L450.46 231.8 L450.61 230.8 L450.75 231.21 L450.9 231.8 L451.05 232.41 L451.2 232.1 L451.35 231.85 L451.49 232.94 L451.64 233.31 L451.79 232.65 L451.94 233.24 L452.09 232.48 L452.24 232.55 L452.39 232.33 L452.53 232.66 L452.68 231.41 L452.83 231.77 L452.98 231.87 L453.13 231.63 L453.28 232.12 L453.42 232.4 L453.57 231.08 L453.72 231.39 L453.87 231.99 L454.02 231.16 L454.17 231.15 L454.32 230.29 L454.46 231.19 L454.61 231.2 L454.76 230.33 L454.91 231 L455.06 231.22 L455.21 230.6 L455.36 230.41 L455.5 230.88 L455.65 231.17 L455.8 230.49 L455.95 230.78 L456.1 229.31 L456.25 229.91 L456.4 229.75 L456.54 229.54 L456.69 229.72 L456.84 230.17 L456.99 230.6 L457.14 230.03 L457.29 230.23 L457.44 229.19 L457.58 230.35 L457.73 229.34 L457.88 229.74 L458.03 230.03 L458.18 229.53 L458.33 230.19 L458.48 229.39 L458.62 230.28 L458.77 230.14 L458.92 230.09 L459.07 230.11 L459.22 229.25 L459.37 230.29 L459.51 229.93 L459.66 229.56 L459.81 229.31 L459.96 229.47 L460.11 230.38 L460.26 230.52 L460.41 230.56 L460.55 230.59 L460.7 230.48 L460.85 229.96 L461 230.4 L461.15 230.03 L461.29 230.9 L461.44 232.39 L461.59 231.34 L461.74 231.29 L461.88 231.14 L462.03 231.05 L462.18 231.33 L462.32 230.32 L462.47 231.32 L462.62 231.32 L462.76 231.17 L462.91 229.4 L463.06 229.5 L463.21 230.62 L463.35 230.14 L463.5 230.29 L463.65 230.56 L463.79 230.62 L463.94 229.23 L464.09 230.37 L464.24 230.45 L464.38 231.21 L464.53 230.03 L464.68 230.14 L464.82 230.5 L464.97 231.9 L465.12 232.15 L465.26 231.88 L465.41 232.01 L465.56 233.21 L465.71 232.16 L465.85 232.8 L466 233.4 L466.15 233.57 L466.29 232.56 L466.44 232.12 L466.59 232.63 L466.74 231.55 L466.88 232.01 L467.03 231.62 L467.18 231.3 L467.32 232.52 L467.47 232.04 L467.62 232.66 L467.76 232.74 L467.91 233.02 L468.06 233 L468.21 232.63 L468.35 232.82 L468.5 232.14 L468.65 231.2 L468.79 231.81 L468.94 231.56 L469.09 231.52 L469.24 231.87 L469.38 231.93 L469.53 231.26 L469.68 231.87 L469.82 231.42 L469.97 231.78 L470.12 230.53 L470.26 231.37 L470.41 232.01 L470.56 232.05 L470.71 231.65 L470.85 231.74 L471 230.8 L471.15 230.52 L471.3 230.54 L471.45 230.49 L471.59 230.6 L471.74 229.78 L471.89 230.61 L472.04 231.22 L472.19 230.68 L472.34 230.74 L472.49 230.78 L472.63 230.45 L472.78 230.49 L472.93 230.79 L473.08 230.42 L473.23 231.29 L473.38 230.08 L473.52 230.6 L473.67 230.03 L473.82 229.93 L473.97 229.61 L474.12 230.18 L474.27 229.51 L474.42 228.43 L474.56 227.32 L474.71 228.34 L474.86 228.48 L475.01 227.88 L475.16 227.62 L475.31 227.13 L475.46 228.26 L475.6 227.53 L475.75 227.65 L475.9 227.56 L476.05 227.67 L476.2 227.23 L476.35 227.07 L476.5 227.02 L476.64 228.37 L476.79 227.08 L476.94 227.03 L477.09 227.92 L477.24 228.02 L477.39 228.13 L477.54 228.12 L477.68 228.35 L477.83 228.55 L477.98 227.61 L478.13 227.94 L478.28 228.54 L478.43 229.84 L478.58 229.31 L478.72 229.16 L478.87 229.58 L479.02 230 L479.17 229.53 L479.32 229.69 L479.47 229.27 L479.61 228.98 L479.76 228.76 L479.91 228.07 L480.06 228.84 L480.21 227.28 L480.36 227.37 L480.51 227.63 L480.65 227.6 L480.8 228.03 L480.95 227.71 L481.1 228.8 L481.25 227.91 L481.4 228.37 L481.54 227.96 L481.69 227.26 L481.84 227.42 L481.99 227.33 L482.14 228.93 L482.29 228.83 L482.43 229.31 L482.58 229.28 L482.73 229.34 L482.88 229.02 L483.03 228.54 L483.17 228.47 L483.32 229.24 L483.47 229.48 L483.62 228.77 L483.77 229.87 L483.91 229.14 L484.06 228.85 L484.21 228.77 L484.36 229.76 L484.51 228.91 L484.66 229.88 L484.8 230.31 L484.95 230.09 L485.1 229.8 L485.25 229.95 L485.39 229.97 L485.54 229.93 L485.69 230.32 L485.83 229.55 L485.98 229.9 L486.12 229.04 L486.27 229.35 L486.42 228.96 L486.56 228.87 L486.71 229.46 L486.86 229.01 L487 228.77 L487.15 228.89 L487.3 228.12 L487.44 229.28 L487.59 228.36 L487.73 229.44 L487.88 228.89 L488.03 228.33 L488.17 228.21 L488.32 228.09 L488.47 229.47 L488.61 228.55 L488.76 229.39 L488.9 228.7 L489.05 229 L489.2 228.15 L489.34 228.17 L489.49 228.54 L489.64 228.16 L489.78 228.32 L489.93 229.41 L490.08 228.78 L490.22 229.6 L490.37 228.48 L490.51 229.14 L490.66 229.48 L490.81 228.2 L490.95 228.34 L491.1 228.8 L491.25 229.53 L491.4 229.3 L491.55 228.97 L491.7 228.79 L491.84 228.38 L491.99 228.13 L492.14 229.17 L492.29 229.5 L492.44 229.02 L492.59 230.38 L492.74 229.96 L492.89 230.99 L493.04 231.39 L493.19 231.05 L493.33 231.26 L493.48 231.36 L493.63 231.74 L493.78 231.19 L493.93 230.86 L494.08 231.42 L494.23 230.88 L494.38 230.81 L494.53 229.99 L494.67 230.84 L494.82 230.23 L494.97 229.46 L495.12 229.66 L495.27 230.29 L495.42 231.12 L495.57 231.21 L495.72 231.47 L495.87 230.69 L496.01 230.77 L496.16 232 L496.31 232.15 L496.46 231.44 L496.61 230.84 L496.76 230.78 L496.91 230.9 L497.06 230.54 L497.21 230.48 L497.36 230.62 L497.5 231.38 L497.65 231.33 L497.8 231.3 L497.95 230.05 L498.1 230.3 L498.25 230.3 L498.4 229.2 L498.54 229.83 L498.69 228.66 L498.84 229.55 L498.99 229.72 L499.14 229.53 L499.28 229.41 L499.43 229.46 L499.58 229.16 L499.73 228.88 L499.88 229.94 L500.02 229.49 L500.17 229.26 L500.32 229.75 L500.47 230.23 L500.61 230.36 L500.76 231.11 L500.91 231.19 L501.06 231.36 L501.21 231.24 L501.35 231.42 L501.5 230.53 L501.65 230.84 L501.8 230.5 L501.95 229.29 L502.09 229.92 L502.24 230.01 L502.39 229.15 L502.54 229.91 L502.69 230.58 L502.83 230.32 L502.98 229.43 L503.13 228.45 L503.28 230 L503.43 229.3 L503.57 229.26 L503.72 227.32 L503.87 227.19 L504.02 227.13 L504.16 227.04 L504.31 227.48 L504.46 227.17 L504.61 226.51 L504.76 227.18 L504.9 227.63 L505.05 227.39 L505.2 227.6 L505.35 227.13 L505.5 228.37 L505.65 228.3 L505.8 227.21 L505.95 227.01 L506.1 228.09 L506.25 227 L506.4 228.27 L506.55 227.07 L506.7 228.35 L506.85 226.97 L507 227.96 L507.15 227.45 L507.3 227.13 L507.45 227.71 L507.6 227.78 L507.75 228.12 L507.9 227.23 L508.05 227 L508.2 227.6 L508.35 227.17 L508.49 227.69 L508.64 227.54 L508.79 226.18 L508.93 225.88 L509.08 225.48 L509.22 226.77 L509.37 226.02 L509.52 224.89 L509.66 225.15 L509.81 225.28 L509.96 224.82 L510.1 225.39 L510.25 224.05 L510.4 223.92 L510.54 225.04 L510.69 224.64 L510.83 223.08 L510.98 223.79 L511.13 223 L511.27 222.83 L511.42 224.11 L511.57 222.77 L511.71 223.38 L511.86 223.19 L512 223.62 L512.15 223.5 L512.3 225.18 L512.44 225.27 L512.59 224.62 L512.74 224.32 L512.88 224.94 L513.03 224.7 L513.18 223.55 L513.32 224.77 L513.47 223.83 L513.61 224.16 L513.76 223.5 L513.91 223.84 L514.05 222.79 L514.2 224 L514.35 223.98 L514.49 224.81 L514.64 223.75 L514.79 223.53 L514.93 223.58 L515.08 223.72 L515.22 224.01 L515.37 224.72 L515.52 224.76 L515.66 225 L515.81 224.67 L515.96 224.63 L516.1 224.24 L516.25 224.18 L516.4 224.61 L516.54 224.13 L516.69 223.76 L516.83 223.52 L516.98 223.5 L517.13 223.82 L517.27 224.68 L517.42 224.81 L517.57 223.84 L517.71 224.94 L517.86 224.33 L518 224.48 L518.15 224.3 L518.3 224.71 L518.44 224.89 L518.59 224.15 L518.74 224.34 L518.88 224.78 L519.03 224.76 L519.18 224.05 L519.32 225.33 L519.47 224.33 L519.61 224.89 L519.76 224.05 L519.91 224.87 L520.05 224.47 L520.2 224.6 L520.35 223.99 L520.5 224.47 L520.65 224.05 L520.8 223.81 L520.95 223.98 L521.1 221.51 L521.25 221.86 L521.4 222.65 L521.55 221.99 L521.7 222.49 L521.85 222.3 L522 219.69 L522.15 219.54 L522.3 219.57 L522.45 220.62 L522.6 220.67 L522.75 220.99 L522.9 221.27 L523.05 220.65 L523.2 220.08 L523.35 219.56 L523.5 219.14 L523.65 220.03 L523.8 219.94 L523.95 219.6 L524.1 220.03 L524.25 219.06 L524.4 218.55 L524.55 219.85 L524.7 219.2 L524.84 218.97 L524.99 220.34 L525.13 221.57 L525.28 220.8 L525.42 221.79 L525.57 222.53 L525.71 222.76 L525.86 221.99 L526 223.74 L526.14 224.22 L526.29 225.15 L526.43 225.38 L526.58 225.64 L526.72 224.99 L526.87 224.58 L527.01 225.08 L527.16 225.63 L527.3 224.6 L527.45 224.68 L527.6 224.86 L527.75 225.38 L527.89 225.05 L528.04 225.34 L528.19 224.93 L528.34 225.8 L528.49 225.3 L528.64 223.21 L528.78 224.11 L528.93 222.76 L529.08 222.62 L529.23 221.72 L529.38 219.51 L529.53 220.79 L529.67 219.9 L529.82 220.6 L529.97 219.95 L530.12 219.44 L530.27 220.33 L530.42 219.8 L530.56 219.96 L530.71 218.91 L530.86 219.04 L531.01 219.24 L531.16 220.25 L531.31 219.02 L531.45 219.17 L531.6 218.9 L531.75 219.04 L531.9 217.4 L532.05 218.31 L532.2 218.1 L532.34 217.23 L532.49 217.62 L532.64 218.52 L532.79 218.35 L532.93 218.47 L533.08 218 L533.23 217.39 L533.38 217.89 L533.53 219.3 L533.67 219.4 L533.82 218.04 L533.97 218.46 L534.12 218.15 L534.27 219.39 L534.41 219.01 L534.56 218.99 L534.71 219.01 L534.86 219.49 L535 219.34 L535.15 218.72 L535.3 219.4 L535.45 220.12 L535.6 220.25 L535.75 220.17 L535.9 219.62 L536.05 219.71 L536.2 219.04 L536.35 218.85 L536.5 219.38 L536.65 218.95 L536.8 217.93 L536.95 219.49 L537.1 218.72 L537.25 219.54 L537.4 219.42 L537.55 218.72 L537.7 219.83 L537.85 219.22 L538 219.13 L538.15 220.28 L538.3 220.1 L538.45 218.63 L538.6 219.01 L538.75 218.41 L538.9 219.55 L539.05 218.55 L539.2 218.87 L539.35 219.36 L539.5 219.7 L539.65 219.11 L539.8 218.37 L539.95 218.01 L540.1 217.51 L540.25 218.43 L540.4 217.4 L540.55 217.91 L540.7 216.42 L540.84 217.9 L540.99 217.8 L541.14 217.49 L541.29 216.82 L541.44 217.62 L541.59 216.89 L541.73 217.44 L541.88 217.12 L542.03 216.66 L542.18 217.86 L542.33 217.26 L542.47 217.14 L542.62 217.92 L542.77 217.32 L542.92 218.24 L543.07 216.99 L543.21 218.54 L543.36 217.27 L543.51 217.48 L543.66 217.16 L543.81 217.13 L543.96 218.57 L544.1 217.42 L544.25 217.16 L544.4 218 L544.55 217.75 L544.69 218.63 L544.84 217.42 L544.99 219.05 L545.14 219.16 L545.28 217.82 L545.43 218.82 L545.58 217.59 L545.72 218.83 L545.87 218.05 L546.02 218.41 L546.16 217.73 L546.31 218.45 L546.46 218.85 L546.61 219.38 L546.75 218.53 L546.9 219.59 L547.05 218.6 L547.19 218.89 L547.34 219.82 L547.49 219.74 L547.64 219.2 L547.78 218.4 L547.93 219.5 L548.08 218.61 L548.22 219.05 L548.37 217.93 L548.52 218.94 L548.66 219.46 L548.81 219.19 L548.96 219.21 L549.11 218.85 L549.25 219.02 L549.4 218.6 L549.55 219.05 L549.69 220.76 L549.84 221.16 L549.99 220.43 L550.14 220.67 L550.28 220.18 L550.43 220.02 L550.58 218.94 L550.72 218.68 L550.87 218.57 L551.02 219.56 L551.16 218.77 L551.31 219.07 L551.46 219.42 L551.61 219.53 L551.75 219.26 L551.9 219.27 L552.05 219.3 L552.19 219.29 L552.34 219.57 L552.49 219.87 L552.64 219.75 L552.78 220.75 L552.93 221.49 L553.08 221.27 L553.22 220.83 L553.37 222.01 L553.52 222.07 L553.66 221.76 L553.81 222.16 L553.96 222.63 L554.11 222.56 L554.25 223.44 L554.4 223 L554.55 223.27 L554.7 223.35 L554.84 223.1 L554.99 222.81 L555.14 224.22 L555.29 224.22 L555.43 224.24 L555.58 223.97 L555.73 223.02 L555.88 223.68 L556.02 223.05 L556.17 223.25 L556.32 222.42 L556.47 222.06 L556.61 222.29 L556.76 221.62 L556.91 220.47 L557.06 220.3 L557.2 220.43 L557.35 220.71 L557.5 221.2 L557.65 221.75 L557.8 220.85 L557.94 222.04 L558.09 220.89 L558.24 220.91 L558.39 221.78 L558.54 221.69 L558.69 221.52 L558.83 221.06 L558.98 222.23 L559.13 220.82 L559.28 221.05 L559.43 221.91 L559.57 220.63 L559.72 221.93 L559.87 221.93 L560.02 221.08 L560.17 221.63 L560.31 220.45 L560.46 220.49 L560.61 220.38 L560.76 221.67 L560.91 221.51 L561.06 221.91 L561.2 220.87 L561.35 221.79 L561.5 221.6 L561.64 222.32 L561.79 221.55 L561.93 223.31 L562.08 222.2 L562.22 222.73 L562.37 223.26 L562.51 224.23 L562.66 223.72 L562.8 223.61 L562.94 225.19 L563.09 225.11 L563.23 224.57 L563.38 224.41 L563.52 225.92 L563.67 225.62 L563.81 226.54 L563.96 226.47 L564.1 226.6 L564.25 225.53 L564.39 226.17 L564.54 226.39 L564.69 226.14 L564.83 226.02 L564.98 225.17 L565.13 224.88 L565.27 226.08 L565.42 224.95 L565.57 226.44 L565.71 226.64 L565.86 226.89 L566.01 226.69 L566.15 226.83 L566.3 227.39 L566.45 227.28 L566.59 226.17 L566.74 226.61 L566.89 226.98 L567.03 225.79 L567.18 226.23 L567.33 226.76 L567.47 225.97 L567.62 225.82 L567.77 226.86 L567.91 224.59 L568.06 225.26 L568.21 223.77 L568.35 224.76 L568.5 223.6 L568.65 223.13 L568.8 222.51 L568.95 223.29 L569.1 222.36 L569.25 221.81 L569.4 221.77 L569.55 221.19 L569.7 221.41 L569.85 221.73 L570 221.83 L570.15 221.74 L570.3 221.28 L570.45 220.75 L570.6 220.96 L570.75 222.24 L570.9 221.36 L571.05 221.9 L571.2 221.87 L571.35 222.12 L571.5 221.6 L571.65 222.39 L571.8 223.29 L571.94 224.09 L572.09 223.98 L572.24 224.51 L572.39 223.83 L572.53 224.66 L572.68 225.4 L572.83 224.86 L572.98 223.92 L573.12 224.42 L573.27 223.97 L573.42 224.07 L573.57 224.6 L573.71 225.54 L573.86 225.06 L574.01 225.23 L574.16 226.75 L574.3 226.08 L574.45 225.23 L574.6 226 L574.75 225.94 L574.9 224.19 L575.05 224.9 L575.2 223.72 L575.35 223.78 L575.5 222.84 L575.65 223.95 L575.8 222.47 L575.95 223.47 L576.1 222.64 L576.25 222.66 L576.4 222.45 L576.55 221.08 L576.7 219.87 L576.85 220.69 L577 220.62 L577.15 219.18 L577.3 219.29 L577.45 220.38 L577.6 219.6 L577.75 219.77 L577.9 219.47 L578.05 219.97 L578.2 218.72 L578.35 218.62 L578.5 218.33 L578.65 217.93 L578.8 218.37 L578.95 218.71 L579.1 218.26 L579.25 217.2 L579.4 216.66 L579.55 218 L579.7 217.91 L579.85 217.78 L580 216.75 L580.15 217.86 L580.3 218.95 L580.45 218.65 L580.6 218 L580.75 218.23 L580.9 218.31 L581.04 217.23 L581.19 216.99 L581.34 216.88 L581.49 216.67 L581.64 215.5 L581.79 216.38 L581.93 216.27 L582.08 212.92 L582.23 213.9 L582.38 213.83 L582.53 213.53 L582.67 211.81 L582.82 212.17 L582.97 212.19 L583.12 210.79 L583.27 212.4 L583.41 210.22 L583.56 211.19 L583.71 210.39 L583.86 209.38 L584.01 209.1 L584.16 210.1 L584.3 210.33 L584.45 209.83 L584.6 208.5 L584.75 206.23 L584.9 205.83 L585.05 206.61 L585.2 207.32 L585.35 207.74 L585.5 205.96 L585.65 206.89 L585.8 207.74 L585.95 206.67 L586.1 206.7 L586.25 206.78 L586.4 207.57 L586.55 207.53 L586.7 206.27 L586.85 205.77 L587 206.08 L587.15 204.98 L587.3 205.73 L587.45 203.3 L587.6 203.5 L587.75 201.62 L587.9 201.96 L588.05 202.29 L588.2 202.11 L588.35 202.47 L588.5 201.31 L588.65 203.75 L588.8 202.28 L588.95 203.02 L589.1 203.21 L589.25 200.13 L589.4 199.45 L589.55 202.85 L589.7 199.1 L589.85 200.69 L590 200.5 L590.15 199.84 L590.3 201.14 L590.45 201.16 L590.6 200.12 L590.75 201.17 L590.9 199.18 L591.05 199.53 L591.2 200.17 L591.35 199.93 L591.5 199.91 L591.65 199.57 L591.8 201.76 L591.95 200.48 L592.1 201.57 L592.25 201.24 L592.4 200.85 L592.55 201.29 L592.7 201.5 L592.84 200.78 L592.99 203.06 L593.13 203.21 L593.27 202.07 L593.41 203.39 L593.56 203.93 L593.7 205.1 L593.84 203.12 L593.99 205.41 L594.13 204.51 L594.27 204.45 L594.41 205.66 L594.56 205.79 L594.7 206.1 L594.85 206.5 L595 205.4 L595.14 204.73 L595.29 204.66 L595.44 206.18 L595.59 205.97 L595.74 206.01 L595.89 206.86 L596.03 205.35 L596.18 205 L596.33 205.1 L596.48 205.97 L596.63 206.12 L596.77 205.08 L596.92 205.57 L597.07 204.6 L597.22 205.35 L597.37 204.06 L597.51 205.23 L597.66 205.92 L597.81 205.68 L597.96 204.33 L598.11 204.52 L598.26 205.67 L598.4 204.18 L598.55 205.38 L598.7 204.5 L598.84 204.99 L598.99 205.18 L599.13 204 L599.27 205.92 L599.41 205.96 L599.56 206.46 L599.7 206.08 L599.84 205.35 L599.99 205.99 L600.13 205.6 L600.27 206.33 L600.41 207.08 L600.56 206.75 L600.7 206.5 L600.85 205.69 L601 206.41 L601.15 206.69 L601.3 207.02 L601.45 205.48 L601.6 204.82 L601.75 204.8 L601.9 205.46 L602.05 205.24 L602.2 205.87 L602.35 205.78 L602.5 205.15 L602.65 205.65 L602.8 203.46 L602.95 203.39 L603.1 203.1 L603.25 203.66 L603.4 203.73 L603.55 202.26 L603.7 203.79 L603.85 204.01 L604 203.2 L604.15 203.48 L604.3 202.68 L604.45 203.96 L604.6 203.87 L604.75 202.59 L604.9 203.33 L605.05 203.44 L605.2 202.33 L605.35 202.93 L605.5 202.55 L605.65 202.24 L605.8 202.48 L605.95 204.26 L606.1 204.18 L606.25 203.88 L606.4 203.5 L606.55 205.08 L606.7 203.92 L606.85 205.31 L607 206.78 L607.15 206.01 L607.3 205.66 L607.45 207.82 L607.6 207.48 L607.75 207.93 L607.9 209.13 L608.05 210.93 L608.2 210.77 L608.35 211.49 L608.5 211.37 L608.65 210.82 L608.8 210.9 L608.95 210.53 L609.1 208.13 L609.24 208.6 L609.39 208.6 L609.54 207.93 L609.69 207.3 L609.84 207.99 L609.99 206.83 L610.13 206.94 L610.28 205.8 L610.43 206.27 L610.58 206.3 L610.73 205.32 L610.87 205.19 L611.02 205.62 L611.17 205.07 L611.32 203.73 L611.47 206.15 L611.61 204.67 L611.76 202.92 L611.91 201.96 L612.06 201.55 L612.21 201.34 L612.36 202.22 L612.5 199.83 L612.65 199.45 L612.8 199.5 L612.95 200.55 L613.1 199.87 L613.25 201.62 L613.4 200.29 L613.55 202.72 L613.7 203.38 L613.85 201.63 L614 201.78 L614.15 203.93 L614.3 204.29 L614.45 202.45 L614.6 202.7 L614.75 202.16 L614.9 201.6 L615.05 203.07 L615.2 203.43 L615.35 203.17 L615.5 202.28 L615.65 203.94 L615.8 202.9 L615.95 204.4 L616.09 203.56 L616.24 204.29 L616.39 204.03 L616.54 204.46 L616.68 204.28 L616.83 202.69 L616.98 203.23 L617.12 203.83 L617.27 204.56 L617.42 203.78 L617.56 204.19 L617.71 204.24 L617.86 202.62 L618.01 202.2 L618.15 201.5 L618.3 202.14 L618.45 202.53 L618.59 200.66 L618.74 201.57 L618.89 200.68 L619.04 202.36 L619.18 200.85 L619.33 200.78 L619.48 202.2 L619.62 202.41 L619.77 201.97 L619.92 202.28 L620.06 201.17 L620.21 201.99 L620.36 199.85 L620.51 199.8 L620.65 199.32 L620.8 198.9 L620.95 199.63 L621.09 198.47 L621.24 199.31 L621.39 198.81 L621.53 198.25 L621.68 199.8 L621.82 198.62 L621.97 199.22 L622.12 199.46 L622.26 200.29 L622.41 199.92 L622.56 199.85 L622.7 200.27 L622.85 199.11 L623 201.27 L623.14 199.56 L623.29 201.17 L623.44 199.62 L623.58 201.95 L623.73 200.73 L623.88 201.05 L624.02 202.06 L624.17 202.55 L624.31 202.91 L624.46 203.17 L624.61 201.69 L624.75 202.93 L624.9 202.1 L625.05 200.83 L625.2 200.79 L625.34 199.25 L625.49 199.54 L625.64 200.08 L625.79 197.65 L625.94 198.55 L626.09 199.29 L626.23 198.48 L626.38 198.05 L626.53 199.12 L626.68 199.19 L626.83 197.57 L626.97 198.54 L627.12 197.83 L627.27 198.07 L627.42 198.51 L627.57 198.16 L627.71 197.07 L627.86 197.25 L628.01 198.32 L628.16 198.1 L628.31 197.22 L628.46 198.1 L628.6 196.63 L628.75 196.68 L628.9 196.5 L629.05 197.02 L629.2 195.01 L629.35 194.92 L629.5 194.63 L629.65 194.21 L629.8 193.05 L629.95 195.38 L630.1 190.9 L630.25 192.34 L630.4 191.14 L630.55 191.79 L630.7 189.45 L630.85 190.54 L631 188.76 L631.15 190.37 L631.3 190.24 L631.45 189.67 L631.6 189.1 L631.75 186.98 L631.9 187.4 L632.04 187.93 L632.19 187.57 L632.33 188.55 L632.47 187.1 L632.61 187.1 L632.76 187.88 L632.9 187.33 L633.04 188.08 L633.19 188.29 L633.33 188.8 L633.47 190.62 L633.61 189.28 L633.76 190.97 L633.9 190.4 L634.05 188.92 L634.2 189.13 L634.35 187.86 L634.5 188.69 L634.65 188.93 L634.8 188.47 L634.95 184.21 L635.1 184.7 L635.25 185.27 L635.4 183.67 L635.55 182.6 L635.7 183 L635.85 182.53 L636 180.63 L636.15 180.23 L636.3 181.66 L636.45 180.99 L636.6 179.91 L636.75 181.38 L636.9 180.4 L637.05 181.66 L637.2 184.45 L637.35 184.82 L637.5 185.02 L637.65 183.57 L637.8 185.14 L637.95 184.49 L638.1 186.26 L638.25 186.35 L638.4 185.69 L638.55 185.91 L638.7 185.85 L638.85 186.18 L639 186.4 L639.14 189.85 L639.29 187.08 L639.43 188.07 L639.57 192.48 L639.71 192.7 L639.86 191.35 L640 192.19 L640.14 195.5 L640.29 196.86 L640.43 197.06 L640.57 197.02 L640.71 200.54 L640.86 203.65 L641 203.1 L641.15 203.79 L641.3 202.08 L641.45 202.64 L641.6 203.89 L641.75 202.57 L641.9 202.02 L642.05 200.81 L642.2 202.7 L642.35 201.46 L642.5 200 L642.65 200.04 L642.8 200.45 L642.95 199.62 L643.1 198.95 L643.25 199.13 L643.4 197.5 L643.54 195.81 L643.69 197.43 L643.83 194.55 L643.98 195.66 L644.12 194.08 L644.27 193.74 L644.41 192.39 L644.56 193.18 L644.7 192.32 L644.84 192.51 L644.99 192.46 L645.13 191 L645.28 191.07 L645.42 190.89 L645.57 191.16 L645.71 190.8 L645.86 191.44 L646 190.4 L646.14 190.49 L646.29 189.94 L646.43 189.98 L646.57 191.33 L646.71 190.73 L646.86 191.47 L647 190.31 L647.14 191.35 L647.29 191.21 L647.43 192.15 L647.57 190.54 L647.71 190.79 L647.86 191.26 L648 191.4 L648.14 190.82 L648.29 188.34 L648.43 190.25 L648.57 187.83 L648.71 188.54 L648.86 187.34 L649 187.24 L649.14 187.09 L649.29 188.67 L649.43 188.03 L649.57 188.04 L649.71 185.77 L649.86 186.89 L650 186 L650.15 186.98 L650.3 187.06 L650.45 188.3 L650.6 188.39 L650.75 188.97 L650.9 187.62 L651.05 188.01 L651.2 187.8 L651.35 187 L651.5 189.11 L651.65 188.71 L651.8 188.62 L651.95 188.09 L652.1 187.97 L652.25 187.91 L652.4 188.9 L652.54 189.32 L652.69 189.35 L652.83 189.05 L652.98 189.19 L653.12 185.69 L653.27 186.75 L653.41 184.24 L653.56 183.8 L653.7 183.66 L653.84 185.2 L653.99 184.11 L654.13 184.52 L654.28 180.4 L654.42 182.23 L654.57 178.9 L654.71 181.07 L654.86 179.18 L655 179.5 L655.14 179.48 L655.29 177.3 L655.43 174.62 L655.58 175.79 L655.72 173.74 L655.87 175.03 L656.01 171.57 L656.16 172.28 L656.3 171.18 L656.44 167.01 L656.59 167.91 L656.73 166.74 L656.88 165.59 L657.02 165.73 L657.17 163.38 L657.31 162.96 L657.46 162.27 L657.6 162.8 L657.75 162.76 L657.9 165.15 L658.05 162.77 L658.2 164.06 L658.35 165.67 L658.5 167.36 L658.65 171.48 L658.8 171.51 L658.95 169.53 L659.1 173.4 L659.25 169.94 L659.4 173.28 L659.55 169.73 L659.7 171.31 L659.85 169.65 L660 172.6 L660.15 172.57 L660.3 172.38 L660.45 171.49 L660.6 172.33 L660.75 171.74 L660.9 172.08 L661.05 170.94 L661.2 170.12 L661.35 169.99 L661.5 170.99 L661.65 167.96 L661.8 167.26 L661.95 166.06 L662.1 165.4 L662.25 166.95 L662.39 166.25 L662.54 168.14 L662.68 166.39 L662.83 165.58 L662.97 165.54 L663.12 167.02 L663.26 167.83 L663.41 170.39 L663.55 169.08 L663.7 170.4 L663.85 168.87 L664 165.49 L664.15 162.1 L664.3 164.3 L664.45 161.15 L664.6 158.21 L664.75 161.69 L664.9 150.94 L665.05 149.74 L665.2 147.62 L665.35 144.42 L665.5 144.3 L665.64 144.78 L665.79 147.16 L665.93 145.5 L666.07 147.16 L666.21 147.55 L666.36 150.15 L666.5 149.79 L666.64 152.18 L666.79 151.56 L666.93 153.48 L667.07 152.87 L667.21 153.8 L667.36 153.26 L667.5 156.3 L667.64 153.93 L667.79 156.54 L667.93 156.84 L668.07 154.96 L668.21 156.76 L668.36 155.28 L668.5 156.4 L668.64 154.69 L668.79 154.5 L668.93 155.65 L669.07 156.41 L669.21 156.47 L669.36 154.26 L669.5 155.3 L669.64 155.08 L669.79 152.62 L669.93 154.55 L670.07 151.24 L670.21 151.31 L670.36 152.16 L670.5 152.45 L670.64 151.13 L670.79 150.53 L670.93 151.01 L671.07 150.34 L671.21 150.26 L671.36 146.74 L671.5 147.3 L671.64 148.3 L671.79 146.43 L671.93 147.29 L672.08 148.79 L672.22 148.03 L672.37 149.53 L672.51 149.74 L672.66 149.78 L672.8 154.79 L672.94 150.91 L673.09 152.14 L673.23 154.86 L673.38 154.64 L673.52 155.83 L673.67 159.94 L673.81 160.88 L673.96 160.35 L674.1 162.8 L674.25 161.9 L674.4 162.49 L674.55 161.51 L674.7 163.56 L674.85 162.96 L675 161.22 L675.15 164.16 L675.3 163.92 L675.45 162.32 L675.6 160.96 L675.75 158.24 L675.9 160.32 L676.05 154.79 L676.2 154.3 L676.35 156.54 L676.5 156.83 L676.65 155.29 L676.8 160.64 L676.95 159.23 L677.1 157.97 L677.25 157.04 L677.4 159.29 L677.55 157.05 L677.7 158.54 L677.85 159.9 L678 160.37 L678.15 161.67 L678.3 159.89 L678.45 161.44 L678.6 162.88 L678.75 164.05 L678.9 163.44 L679.05 162.58 L679.2 163.4 L679.35 163.01 L679.5 161.91 L679.65 161.86 L679.8 164.22 L679.95 162.56 L680.1 165.16 L680.25 163.69 L680.4 162.94 L680.55 165.26 L680.7 163.88 L680.85 165.64 L681 166.05 L681.15 165.54 L681.3 166.28 L681.45 164.9 L681.6 166.69 L681.75 166.34 L681.9 166.92 L682.05 166.85 L682.2 167.41 L682.35 166.23 L682.5 167.64 L682.65 164.55 L682.8 166.4 L682.95 164.37 L683.1 166.06 L683.24 165.14 L683.39 163.54 L683.54 164.07 L683.69 164.75 L683.83 164.87 L683.98 164.62 L684.13 163.5 L684.28 162.2 L684.43 161.66 L684.57 162.98 L684.72 161.62 L684.87 159.2 L685.02 160.74 L685.17 160.63 L685.31 159.91 L685.46 160.8 L685.61 160.29 L685.76 158.35 L685.9 158.55 L686.05 160.12 L686.2 160.4 L686.34 159.12 L686.49 158.86 L686.63 159.75 L686.77 158.94 L686.91 158.43 L687.06 159.49 L687.2 159.32 L687.34 158.34 L687.49 160.65 L687.63 158.55 L687.77 158.71 L687.91 157.72 L688.06 157.86 L688.2 158.4 L688.35 157.79 L688.5 157.94 L688.65 159.72 L688.8 158.62 L688.95 155.93 L689.1 159.05 L689.25 154.28 L689.4 154.35 L689.55 155.93 L689.7 151.54 L689.85 153.27 L690 152.47 L690.15 152.39 L690.3 153.26 L690.45 150.39 L690.6 147.3 L690.75 151.36 L690.9 147.31 L691.05 150.67 L691.2 157.23 L691.35 158.23 L691.5 157.89 L691.65 155.92 L691.8 158.43 L691.95 161.6 L692.1 162.2 L692.25 164.96 L692.4 162.91 L692.55 163.52 L692.7 166.4 L692.85 167.38 L692.99 165.48 L693.14 167.28 L693.28 167.97 L693.43 167.92 L693.57 165.84 L693.72 168.26 L693.86 168.15 L694.01 166.58 L694.15 166.13 L694.3 168.23 L694.45 167.65 L694.59 166.31 L694.74 166.53 L694.88 166.29 L695.03 167.02 L695.17 168.36 L695.32 166.48 L695.46 166.73 L695.61 167.66 L695.75 169.17 L695.9 167.4 L696.05 166.76 L696.19 168.6 L696.34 167.35 L696.49 165.41 L696.63 167.78 L696.78 164.67 L696.93 161.13 L697.07 159.5 L697.22 164.32 L697.37 162.22 L697.51 158.42 L697.66 159.95 L697.81 158.91 L697.95 157.65 L698.1 158.08 L698.25 158.18 L698.39 157.99 L698.54 155.96 L698.69 157.39 L698.83 157.26 L698.98 155.9 L699.13 157.62 L699.27 155.1 L699.42 157.26 L699.57 155.09 L699.71 155.05 L699.86 154.6 L700.01 154.98 L700.15 154.86 L700.3 156.3 L700.44 155.57 L700.59 158.22 L700.73 158.6 L700.88 157.67 L701.02 156.28 L701.17 155.92 L701.31 155.67 L701.46 155.31 L701.6 155.38 L701.74 154.62 L701.89 155.92 L702.03 155.17 L702.18 157.99 L702.32 158.09 L702.47 161.39 L702.61 158.43 L702.76 161.93 L702.9 162.8 L703.05 162.46 L703.19 158.6 L703.34 160.83 L703.49 161.15 L703.64 157.97 L703.78 158.17 L703.93 157.92 L704.08 157.37 L704.23 155.84 L704.37 156.54 L704.52 157.29 L704.67 157.22 L704.82 158.5 L704.96 158.37 L705.11 155.96 L705.26 154.09 L705.41 155.55 L705.55 156.09 L705.7 154.7 L705.85 153.87 L705.99 155.85 L706.14 155.26 L706.29 156.96 L706.43 157.94 L706.58 155.44 L706.73 156.92 L706.88 156.47 L707.02 155.68 L707.17 156.38 L707.32 157.53 L707.46 158.42 L707.61 156.17 L707.76 159.08 L707.9 157.96 L708.05 159.1 L708.2 158.44 L708.34 156.8 L708.49 157.8 L708.64 159.05 L708.78 158.48 L708.93 159.39 L709.08 159.04 L709.23 157.26 L709.37 159.24 L709.52 158.4 L709.67 158.13 L709.81 156.35 L709.96 158.86 L710.11 158.35 L710.25 159.08 L710.4 158.4 L710.55 158.42 L710.7 156.9 L710.84 158.82 L710.99 157.88 L711.14 156.17 L711.29 158.02 L711.44 158.91 L711.59 159.76 L711.73 157.6 L711.88 158.86 L712.03 161 L712.18 162.67 L712.33 162.21 L712.47 165.73 L712.62 163.23 L712.77 165.95 L712.92 164.88 L713.07 166 L713.21 164.4 L713.36 163.71 L713.51 164.09 L713.66 167.24 L713.81 165.12 L713.96 167.45 L714.1 166.84 L714.25 166.76 L714.4 167 L714.55 168.51 L714.7 166.23 L714.84 167.11 L714.99 167.66 L715.14 166.72 L715.29 166.53 L715.44 167.88 L715.59 167.67 L715.73 165.51 L715.88 165.48 L716.03 165.39 L716.18 166.2 L716.33 167.96 L716.47 167.48 L716.62 165.51 L716.77 167.51 L716.92 165.23 L717.07 164.18 L717.21 163.25 L717.36 160.46 L717.51 158.3 L717.66 160.49 L717.81 158.46 L717.96 156.79 L718.1 156.5 L718.25 157.43 L718.4 157.3 L718.54 157.99 L718.69 156.31 L718.83 159.12 L718.97 158.76 L719.11 159.35 L719.26 159.45 L719.4 158.2 L719.54 157.69 L719.69 158.55 L719.83 158.98 L719.97 158.66 L720.11 158.08 L720.26 158.57 L720.4 159.4 L720.55 158.26 L720.7 157.42 L720.85 160.09 L721 159.44 L721.15 158.02 L721.3 157.14 L721.45 158.06 L721.6 158.15 L721.75 155.36 L721.9 156.94 L722.05 156.32 L722.2 157.51 L722.35 155.95 L722.5 157.58 L722.65 156.39 L722.8 155.9 L722.95 157.75 L723.09 156.93 L723.24 156.05 L723.38 157.25 L723.53 158.24 L723.67 158.73 L723.82 158.86 L723.96 157.68 L724.11 158.49 L724.25 157.56 L724.4 158.4 L724.55 159.2 L724.7 157.71 L724.85 156.94 L725 158.6 L725.14 157.83 L725.29 156.34 L725.44 156.84 L725.59 157.27 L725.74 153.89 L725.89 155.71 L726.04 152.07 L726.19 153.08 L726.33 153.22 L726.48 148.5 L726.63 149.67 L726.78 148.08 L726.93 151.85 L727.08 151.05 L727.23 150.07 L727.38 151.35 L727.52 150.8 L727.67 148.51 L727.82 149.08 L727.97 149.57 L728.12 149.5 L728.27 149.92 L728.42 147.47 L728.57 148.41 L728.71 148.39 L728.86 147.91 L729.01 150.33 L729.16 147.01 L729.31 149.22 L729.46 147.02 L729.61 148.74 L729.76 147.03 L729.9 149.78 L730.05 148.36 L730.2 147.5 L730.35 149.48 L730.5 148.3 L730.65 149.43 L730.8 149.23 L730.95 147.96 L731.1 147.78 L731.25 148.45 L731.4 149.88 L731.55 149.3 L731.7 151.34 L731.85 151.84 L732 151.3 L732.15 152.29 L732.3 150.06 L732.45 151.11 L732.6 150.35 L732.75 150.8 L732.9 152.88 L733.05 150.42 L733.2 153.66 L733.35 151.81 L733.5 154.37 L733.65 153.56 L733.8 152.95 L733.95 151.2 L734.1 152.7 L734.25 151.49 L734.39 152.65 L734.54 153.91 L734.69 152.04 L734.84 150.32 L734.98 150.22 L735.13 148.07 L735.28 150.29 L735.43 149.07 L735.57 146.89 L735.72 147.56 L735.87 147.1 L736.02 149.32 L736.16 147.17 L736.31 150.14 L736.46 147.28 L736.61 147.45 L736.75 147.24 L736.9 148.3 L737.04 149.46 L737.19 148.54 L737.33 151.45 L737.48 153.31 L737.62 152.7 L737.77 152.6 L737.91 150.71 L738.06 151.34 L738.2 150.71 L738.34 152.2 L738.49 151.8 L738.63 151.11 L738.78 153.11 L738.92 151.96 L739.07 153.39 L739.21 153.78 L739.36 153.55 L739.5 153.3 L739.65 154.01 L739.8 153.89 L739.94 155.16 L740.09 154.19 L740.24 155.73 L740.39 155.48 L740.53 156.36 L740.68 153.6 L740.83 155.3 L740.98 153.1 L741.12 155.77 L741.27 153.71 L741.42 153.92 L741.57 155.44 L741.71 154.09 L741.86 156.37 L742.01 155.97 L742.16 157.02 L742.3 154.96 L742.45 159.04 L742.6 159.4 L742.75 158.83 L742.9 159.68 L743.05 162.33 L743.2 161.52 L743.35 160.65 L743.5 161.5 L743.65 164.99 L743.8 163.11 L743.95 164.39 L744.1 165.08 L744.25 162.81 L744.4 162.24 L744.55 164.04 L744.7 162.69 L744.85 165.62 L745 165.26 L745.15 165.75 L745.3 167.34 L745.45 167.36 L745.6 167.4 L745.74 168.62 L745.89 171.1 L746.03 169.13 L746.18 172.45 L746.32 172.37 L746.47 172.15 L746.61 172.58 L746.76 171 L746.9 172.25 L747.04 175.14 L747.19 173.36 L747.33 176.36 L747.48 177.43 L747.62 177.21 L747.77 180.36 L747.91 179.37 L748.06 179.81 L748.2 179.5 L748.35 180.17 L748.5 177.85 L748.65 177.93 L748.8 174.93 L748.95 173.98 L749.1 171.04 L749.25 173.19 L749.4 170.65 L749.55 170.61 L749.7 168.96 L749.85 171.06 L750 169.4 L750.14 169.79 L750.29 169.83 L750.43 170.45 L750.58 170.58 L750.72 170.68 L750.87 173.14 L751.01 174.45 L751.16 173.04 L751.3 176.15 L751.44 176.86 L751.59 176.42 L751.73 176.27 L751.88 178.29 L752.02 178.2 L752.17 177.54 L752.31 176.52 L752.46 177.27 L752.6 177.5 L752.74 177.48 L752.89 181.36 L753.03 182.06 L753.17 178.82 L753.31 181.57 L753.46 182.49 L753.6 184.24 L753.74 183.8 L753.89 186.56 L754.03 186.69 L754.17 189.31 L754.31 189.55 L754.46 189.42 L754.6 188.5 L754.75 189.12 L754.89 187.68 L755.04 186.26 L755.19 186.43 L755.33 188.19 L755.48 188.8 L755.62 188.17 L755.77 189.64 L755.92 189.24 L756.06 189.01 L756.21 188.07 L756.36 189.19 L756.5 189.79 L756.65 188.97 L756.8 188.64 L756.94 189.7 L757.09 190.27 L757.24 188.73 L757.38 187.8 L757.53 189.38 L757.68 188.54 L757.82 186.93 L757.97 183.44 L758.11 185.88 L758.26 183.37 L758.41 185.3 L758.55 185.19 L758.7 184.5 L758.84 185.26 L758.99 182.8 L759.13 181.09 L759.27 182.16 L759.41 179.41 L759.56 181.51 L759.7 177.12 L759.84 177.83 L759.99 177.64 L760.13 175.65 L760.27 175.32 L760.41 174.39 L760.56 172.84 L760.7 174.4 L760.85 172.59 L761 172.13 L761.15 173.2 L761.3 171.76 L761.45 170.64 L761.6 171.68 L761.75 172.25 L761.9 172.51 L762.05 171.68 L762.2 170.29 L762.35 170.68 L762.5 170 L762.65 169.9 L762.8 169.63 L762.95 168.42 L763.1 169.4 L763.25 172.52 L763.4 173.16 L763.55 172.14 L763.7 173.16 L763.85 174.8 L764 173.63 L764.15 174.94 L764.3 176.96 L764.45 177.02 L764.6 177.14 L764.75 176.5 L764.9 176.96 L765.05 178.22 L765.2 176.75 L765.35 177.09 L765.5 178.92 L765.65 177.97 L765.8 178.62 L765.95 178.1 L766.1 179.5 L766.25 180.07 L766.4 179.01 L766.55 177.11 L766.7 174.76 L766.85 175.2 L767 174.89 L767.15 175.33 L767.3 174.76 L767.45 175.33 L767.6 176.22 L767.75 174.97 L767.9 175.6 L768.05 174.36 L768.2 176.68 L768.35 176.11 L768.5 174.17 L768.65 173.9 L768.8 176.4 L768.95 174.89 L769.1 174.05 L769.25 175.2 L769.4 175.81 L769.55 175.07 L769.7 173.4 L769.85 172.82 L770 174.17 L770.15 173.51 L770.3 175.53 L770.45 174.86 L770.6 175.99 L770.75 175.11 L770.9 179.06 L771.05 177 L771.2 178.5 L771.35 178.95 L771.5 178.6 L771.65 178.68 L771.8 179.77 L771.95 179.25 L772.1 178.65 L772.25 179.62 L772.4 180.69 L772.55 179.07 L772.7 181.5 L772.85 179.76 L773 181.83 L773.14 180.02 L773.29 180.41 L773.44 180.3 L773.59 180.34 L773.73 180.06 L773.88 181.93 L774.03 181.39 L774.18 180 L774.32 181.46 L774.47 179.81 L774.62 179.89 L774.77 183.1 L774.91 181.51 L775.06 180.76 L775.21 182.84 L775.36 184.07 L775.5 183.9 L775.65 184.36 L775.8 185.5 L775.95 184.55 L776.1 187.6 L776.25 186.2 L776.4 189.81 L776.55 189.2 L776.7 190.42 L776.85 189.33 L777 190.45 L777.15 191.01 L777.3 189.86 L777.45 192.69 L777.6 191.65 L777.75 191.9 L777.9 190.69 L778.05 191.79 L778.2 189.15 L778.35 189.83 L778.5 188.57 L778.65 189.44 L778.8 189.13 L778.95 190.36 L779.1 192.97 L779.25 192.91 L779.4 193 L779.55 191.71 L779.7 193.07 L779.85 190.7 L780 190.38 L780.15 190.86 L780.3 189.81 L780.45 189.28 L780.6 190.42 L780.75 188.78 L780.9 189.59 L781.05 188.46 L781.2 188.46 L781.35 188.26 L781.5 187.46 L781.65 184.23 L781.8 185.06 L781.95 182.53 L782.1 184.44 L782.25 184.44 L782.4 180.5 L782.55 181.96 L782.7 179.14 L782.85 180.29 L783 178.5 L783.15 180.24 L783.3 178.42 L783.45 179.12 L783.6 178.77 L783.75 178.18 L783.9 178.47 L784.05 177.56 L784.2 178.33 L784.35 176.03 L784.5 178.07 L784.65 175.8 L784.8 176.5 L784.95 174.91 L785.1 174.86 L785.25 174.91 L785.4 176.23 L785.55 174.59 L785.7 176.89 L785.85 177.61 L786 175.39 L786.15 178.39 L786.3 177.97 L786.45 178.76 L786.6 178.54 L786.75 179.07 L786.9 177.5 L787.05 178.39 L787.2 180.6 L787.35 180.53 L787.5 182.82 L787.65 183.09 L787.8 183.5 L787.95 183.02 L788.1 185.88 L788.25 184.99 L788.4 184.08 L788.55 184.63 L788.7 184.9 L788.85 185.66 L789 186.04 L789.15 184.7 L789.3 185.34 L789.45 186.66 L789.6 185.85 L789.75 186.48 L789.9 185.15 L790.05 186.93 L790.2 186.9 L790.35 187.09 L790.5 183.89 L790.65 184.99 L790.8 182.6 L790.95 181.66 L791.1 182.06 L791.25 181.67 L791.4 179.55 L791.55 177.81 L791.7 177.7 L791.85 179.47 L792 177.61 L792.15 177.51 L792.3 179.43 L792.45 179.29 L792.6 179.45 L792.75 177.98 L792.9 177.5 L793.05 177.57 L793.2 176.52 L793.34 177.36 L793.49 177.23 L793.64 175.07 L793.79 175.49 L793.94 174.45 L794.09 170.82 L794.23 170.08 L794.38 171.09 L794.53 171.24 L794.68 170.26 L794.83 169.58 L794.97 169.62 L795.12 169.64 L795.27 169.54 L795.42 169.32 L795.57 170.43 L795.71 167.2 L795.86 166.81 L796.01 165.32 L796.16 167.63 L796.31 164.87 L796.46 166.54 L796.6 166.56 L796.75 163.72 L796.9 163.4 L797.05 166.71 L797.2 168.13 L797.35 167.47 L797.5 166.26 L797.65 165.95 L797.8 167.29 L797.95 166.79 L798.1 167.07 L798.25 166.42 L798.4 164.74 L798.55 164.39 L798.7 166.45 L798.85 164.69 L799 164.9 L799.15 168.17 L799.3 168.4 L799.44 169.68 L799.59 169.2 L799.73 165.92 L799.87 164.12 L800.01 166.72 L800.16 163.63 L800.3 164.83 L800.44 164.18 L800.59 164.57 L800.73 165.34 L800.87 164.03 L801.01 159.73 L801.16 163.72 L801.3 159.4 L801.44 162.41 L801.59 159.35 L801.73 160.06 L801.87 160.47 L802.01 160.69 L802.16 160.86 L802.3 158.46 L802.44 159.25 L802.59 160.53 L802.73 156.15 L802.87 153.16 L803.01 153.1 L803.16 153.03 L803.3 153.3 L803.45 147.76 L803.59 147.94 L803.74 150.71 L803.88 139.27 L804.03 143.26 L804.17 141.78 L804.32 136.28 L804.46 134.79 L804.61 135.82 L804.75 134.55 L804.9 132.2 L805.04 133.34 L805.19 131.79 L805.33 132.37 L805.47 131.48 L805.61 132.51 L805.76 132.5 L805.9 131.12 L806.04 134.96 L806.19 132.2 L806.33 133.8 L806.47 134.7 L806.61 135.86 L806.76 137.45 L806.9 138.2 L807.05 143.11 L807.21 142.77 L807.36 140.09 L807.52 143.68 L807.67 144.14 L807.83 145.57 L807.98 144.96 L808.14 146.42 L808.29 144.42 L808.45 146.69 L808.6 145.3 L808.74 145.02 L808.89 145.21 L809.03 145.16 L809.17 143.55 L809.31 142.75 L809.46 144.48 L809.6 144.45 L809.74 142.08 L809.89 144.74 L810.03 141.81 L810.17 143.82 L810.31 140.88 L810.46 141.35 L810.6 138.2 L810.76 138.35 L810.91 141.2 L811.07 141.04 L811.22 141.57 L811.38 141.42 L811.53 141.15 L811.69 142.14 L811.84 139.72 L812 142.3 L812.15 141.78 L812.3 140.75 L812.45 138.38 L812.6 136.04 L812.75 135.52 L812.9 137.04 L813.05 134.34 L813.2 137.13 L813.35 136.39 L813.5 137.08 L813.65 136.48 L813.8 133.87 L813.95 133.79 L814.1 133.47 L814.25 135.69 L814.4 134.72 L814.55 134.81 L814.7 132.67 L814.85 131.03 L815 134.2 L815.15 130.32 L815.29 131.54 L815.44 128.1 L815.58 131.06 L815.73 127.17 L815.87 126.53 L816.02 128.28 L816.16 127.14 L816.31 121.56 L816.45 121.2 L816.6 120.1 L816.75 120.14 L816.9 120.64 L817.05 119.56 L817.2 120.27 L817.35 121.96 L817.5 123.71 L817.65 120.37 L817.8 124.16 L817.95 123.8 L818.1 124.15 L818.25 126.82 L818.4 127.57 L818.55 128.64 L818.7 129.96 L818.85 128.16 L819 132.2 L819.14 132.2 L819.29 131.25 L819.43 129.67 L819.57 130.05 L819.71 126.37 L819.86 124.34 L820 126.65 L820.14 126.19 L820.29 124.78 L820.43 124.23 L820.57 125.85 L820.71 126.93 L820.86 127.41 L821 125.2 L821.15 127.31 L821.3 124.16 L821.45 126.45 L821.6 124.68 L821.75 124.07 L821.9 123.63 L822.05 124.11 L822.2 125.4 L822.35 126.24 L822.5 126.27 L822.65 125.48 L822.8 124.79 L822.95 126.31 L823.1 125.61 L823.25 124.33 L823.4 125.2 L823.55 126.47 L823.7 123.85 L823.85 126.99 L824 125.9 L824.15 127.33 L824.3 129.18 L824.45 131.29 L824.6 129.79 L824.75 127.12 L824.9 129.62 L825.05 130.89 L825.2 129.42 L825.35 129.33 L825.5 129.88 L825.65 131.35 L825.8 133.29 L825.95 133.98 L826.1 135.2 L826.24 134.96 L826.39 135.35 L826.53 134.2 L826.67 136.82 L826.81 135.24 L826.96 133.4 L827.1 132.01 L827.24 135.27 L827.39 130.88 L827.53 132.4 L827.67 129.47 L827.81 131.14 L827.96 128.49 L828.1 130.2 L828.25 132.05 L828.4 131.83 L828.55 132.7 L828.7 130.68 L828.85 131.42 L829 130.99 L829.15 130.78 L829.3 133.49 L829.45 135.98 L829.6 136.42 L829.75 138.21 L829.9 139.57 L830.05 138.73 L830.2 137.69 L830.35 140.27 L830.5 139.52 L830.65 137.89 L830.8 138.05 L830.95 140.59 L831.1 141.2 L831.24 139.83 L831.39 139.5 L831.53 141.81 L831.67 141.65 L831.81 141.22 L831.96 139.66 L832.1 139.26 L832.24 140.35 L832.39 138.87 L832.53 138.72 L832.67 138.82 L832.81 140.27 L832.96 138.98 L833.1 139.2 L833.25 142.84 L833.4 141.08 L833.55 141.69 L833.7 140.72 L833.85 140.46 L834 140.84 L834.15 139.73 L834.3 140.54 L834.45 141.92 L834.6 142.14 L834.75 140.38 L834.9 140.55 L835.05 142.76 L835.2 143.92 L835.35 145.35 L835.5 145.9 L835.65 145.07 L835.8 144.4 L835.95 145.16 L836.1 142.82 L836.25 141.6 L836.4 140.64 L836.55 141.14 L836.7 139.91 L836.85 141.18 L837 137.8 L837.15 140.43 L837.3 140.46 L837.45 140.2 L837.6 136.99 L837.75 134.09 L837.9 137.77 L838.05 133.36 L838.2 133.66 L838.35 133.76 L838.5 133.89 L838.65 131.24 L838.8 131.41 L838.95 130.78 L839.1 132.2 L839.25 131.22 L839.39 132.44 L839.54 133.6 L839.69 131.11 L839.83 134.19 L839.98 134.2 L840.12 132.25 L840.27 130.35 L840.42 130.6 L840.56 128.52 L840.71 129.68 L840.86 127.57 L841 129.05 L841.15 127.64 L841.3 129.5 L841.44 132.23 L841.59 129.47 L841.74 131.28 L841.88 131.68 L842.03 129.65 L842.18 131.74 L842.32 131.7 L842.47 129.5 L842.61 129.7 L842.76 128.04 L842.91 128.09 L843.05 127.2 L843.2 124.5 L843.35 128.42 L843.5 123.99 L843.65 124.63 L843.8 127.02 L843.95 124.17 L844.1 124.88 L844.25 125.24 L844.4 128.18 L844.55 127.83 L844.7 127.37 L844.85 124.62 L845 126.23 L845.15 125.49 L845.3 127.43 L845.45 124.36 L845.6 127.7 L845.75 126.55 L845.9 127.07 L846.05 125.79 L846.2 128.2 L846.35 128.24 L846.5 127.06 L846.64 126.81 L846.79 128.49 L846.94 130.02 L847.09 128.73 L847.23 131.12 L847.38 128.39 L847.53 131.21 L847.68 128.52 L847.82 129.99 L847.97 129.83 L848.12 126.72 L848.27 130.3 L848.41 131.6 L848.56 129.9 L848.71 127.44 L848.86 131.19 L849 133.3 L849.15 139.44 L849.3 138.8 L849.45 140.09 L849.6 139.93 L849.75 139.88 L849.9 136.69 L850.05 137.78 L850.2 139.76 L850.35 133.19 L850.5 131.86 L850.65 130.52 L850.8 129.62 L850.95 128.05 L851.1 129.52 L851.25 131.22 L851.4 132.17 L851.55 131.92 L851.7 130.18 L851.85 131.93 L852 129.65 L852.15 128.34 L852.3 128.8 L852.45 125.86 L852.59 128.4 L852.74 125.25 L852.89 127 L853.04 126.11 L853.18 122.18 L853.33 125.88 L853.48 122.37 L853.62 122.54 L853.77 120.81 L853.92 122.45 L854.06 120.31 L854.21 122.57 L854.36 120.34 L854.51 119.05 L854.65 116.59 L854.8 115.7 L854.94 115.88 L855.09 115.05 L855.23 114.6 L855.38 115.35 L855.52 114.12 L855.67 115.34 L855.81 114.12 L855.96 116.62 L856.1 114.3 L856.24 116.87 L856.39 116.08 L856.53 113.56 L856.68 116.06 L856.82 116.6 L856.97 113.85 L857.11 116.62 L857.26 114.3 L857.4 115.1 L857.54 117.61 L857.69 118.22 L857.83 116.95 L857.97 118.85 L858.11 116.69 L858.26 115.6 L858.4 116.5 L858.54 119.2 L858.69 118.23 L858.83 117.91 L858.97 118.83 L859.11 121.13 L859.26 120.41 L859.4 121.7 L859.54 124.1 L859.69 121.98 L859.83 125.46 L859.97 125.73 L860.11 124.07 L860.26 126.64 L860.4 127.52 L860.54 128.9 L860.69 130.55 L860.83 129.94 L860.97 130.1 L861.11 131.3 L861.26 131.6 L861.4 132.8 L861.54 132.66 L861.69 133.07 L861.83 131.95 L861.97 133.19 L862.11 133.54 L862.26 130.38 L862.4 131.18 L862.54 131.19 L862.69 129.5 L862.83 127.47 L862.97 128.95 L863.11 130.23 L863.26 127.01 L863.4 125.8 L863.55 126.97 L863.7 125.59 L863.85 124.87 L864 125.18 L864.15 123.28 L864.3 126.49 L864.45 124.78 L864.6 125.59 L864.75 124.02 L864.9 122.93 L865.05 122.31 L865.2 122.87 L865.35 123.45 L865.5 124.33 L865.65 124.42 L865.8 121.19 L865.95 123.73 L866.1 123.86 L866.25 122.65 L866.4 121.7 L866.55 121.98 L866.69 124.58 L866.84 125.78 L866.98 128.26 L867.13 131.13 L867.27 134.37 L867.42 131.24 L867.56 138.6 L867.71 141.24 L867.85 139.73 L868 141.9 L868.15 140.64 L868.29 141.44 L868.44 141.54 L868.58 141.72 L868.73 142.26 L868.88 141.94 L869.02 142.16 L869.17 141.99 L869.31 139.09 L869.46 141.97 L869.6 139.06 L869.75 141.35 L869.9 139.68 L870.04 139.93 L870.19 140.63 L870.33 141.18 L870.48 138.33 L870.62 141.34 L870.77 140 L870.92 140.46 L871.06 138.45 L871.21 139.43 L871.35 138.98 L871.5 139.8 L871.65 140.93 L871.8 139.46 L871.95 141.46 L872.1 139.42 L872.25 142.61 L872.4 143.14 L872.55 143.33 L872.7 143.48 L872.85 143.43 L873 143.81 L873.15 141.08 L873.3 140.7 L873.45 141.29 L873.6 141.81 L873.75 144.41 L873.9 143.15 L874.05 144.24 L874.2 143.66 L874.35 141.84 L874.5 142.9 L874.65 141.84 L874.8 143.77 L874.95 142.84 L875.1 144.09 L875.25 142.48 L875.4 144.25 L875.55 144.49 L875.7 143.57 L875.85 142.31 L876 142.63 L876.15 144.46 L876.3 145 L876.45 143.9 L876.6 143.5 L876.75 146.15 L876.9 145.96 L877.05 146.08 L877.2 145.73 L877.35 146.5 L877.5 145.9 L877.64 144.23 L877.79 144.44 L877.93 144.79 L878.07 145.26 L878.21 147.31 L878.36 145.38 L878.5 143.05 L878.64 145.01 L878.79 145.46 L878.93 143.68 L879.07 140.25 L879.21 140.86 L879.36 138.67 L879.5 138.8 L879.65 141.24 L879.8 138.04 L879.95 137.83 L880.1 137.49 L880.25 139.65 L880.4 139.61 L880.55 140.87 L880.7 138.22 L880.85 141.11 L881 139.16 L881.15 137.79 L881.3 140.58 L881.45 139.73 L881.6 138.35 L881.75 141.33 L881.9 142.55 L882.05 140.56 L882.2 142.86 L882.35 142.49 L882.5 143.3 L882.64 142.44 L882.79 144.99 L882.93 144.14 L883.07 143.8 L883.21 142.4 L883.36 141.77 L883.5 143.83 L883.64 143.12 L883.79 143.63 L883.93 142.79 L884.07 142.57 L884.21 139.4 L884.36 141.25 L884.5 138.8 L884.65 127.1 L884.8 137.89 L884.95 132.04 L885.1 129.27 L885.25 124.28 L885.4 113.25 L885.55 103.88 L885.7 104.6 L885.86 102.07 L886.01 94.81 L886.17 93.62 L886.32 97.7 L886.48 94.89 L886.63 90.32 L886.79 92.9 L886.94 90.41 L887.1 89.5 L887.25 92.47 L887.4 91.41 L887.55 89.6 L887.7 93.51 L887.85 94.91 L888 98.26 L888.15 95.92 L888.3 97.17 L888.45 101.65 L888.6 102.6 L888.74 101.6 L888.89 99.87 L889.03 99.95 L889.17 97.51 L889.31 96.03 L889.46 98.2 L889.6 97.84 L889.74 94.79 L889.89 97.12 L890.03 96.76 L890.17 94.96 L890.31 94.74 L890.46 98.44 L890.6 96.6 L890.76 91.31 L890.91 85.97 L891.07 96.53 L891.22 86.26 L891.38 75.55 L891.53 82.93 L891.69 73.98 L891.84 72.16 L892 64.4 L892.15 65.42 L892.29 64.13 L892.44 63.91 L892.58 68.85 L892.73 68.27 L892.87 67.82 L893.02 74.2 L893.16 74.5 L893.31 71.38 L893.45 72.63 L893.6 78.5 L893.74 74.44 L893.89 77.43 L894.03 76.17 L894.17 69.6 L894.31 68.95 L894.46 66.41 L894.6 66.4 L894.76 65.17 L894.91 65.46 L895.07 63.94 L895.22 66.18 L895.38 63.48 L895.53 57.34 L895.69 63.53 L895.84 60.68 L896 52.7 L896.14 54.21 L896.29 57.07 L896.43 54.36 L896.58 55.21 L896.72 58.3 L896.87 60.99 L897.01 57.33 L897.16 58.01 L897.3 60.38 L897.44 62.83 L897.59 61.18 L897.73 60.83 L897.88 58.95 L898.02 60.65 L898.17 56.53 L898.31 56.85 L898.46 64.17 L898.6 60.4 L898.75 61.95 L898.9 60.74 L899.05 68.12 L899.2 66.87 L899.35 64.96 L899.5 69.14 L899.65 66.65 L899.8 68.62 L899.95 66.89 L900.1 67.04 L900.25 71.75 L900.4 67.31 L900.55 75.12 L900.7 73.55 L900.85 75.26 L901 80.5 L901.14 73.38 L901.29 78.59 L901.43 73.53 L901.58 77.02 L901.72 75.6 L901.87 75.15 L902.01 70.36 L902.16 68.97 L902.3 71.64 L902.44 70.04 L902.59 64.23 L902.73 63.74 L902.88 64.59 L903.02 64.27 L903.17 61.13 L903.31 63.43 L903.46 64.51 L903.6 62.4 L903.75 62.53 L903.9 60.74 L904.05 62.55 L904.2 65.47 L904.35 61.75 L904.5 64.4 L904.65 62.25 L904.8 61.34 L904.95 60.62 L905.1 62.05 L905.25 64.97 L905.4 61.45 L905.55 61 L905.7 61.93 L905.85 54.44 L906 53.36 L906.15 53.49 L906.3 48.9 L906.45 51.91 L906.6 48.94 L906.75 51.7 L906.9 51.32 L907.05 54.5 L907.2 51.85 L907.35 54.83 L907.5 51.23 L907.65 54.45 L907.8 53.87 L907.95 56.8 L908.1 54.2 L908.25 57.41 L908.4 60.95 L908.55 56.51 L908.7 58.4 L908.84 56.45 L908.99 57.59 L909.13 59.84 L909.27 56.73 L909.41 56.52 L909.56 59.72 L909.7 56.89 L909.84 58.16 L909.99 62.03 L910.13 63.03 L910.27 66.13 L910.41 67.24 L910.56 69.03 L910.7 68.4 L910.84 70.23 L910.99 68.52 L911.13 72.63 L911.27 71.19 L911.41 72.6 L911.56 72.92 L911.7 76.06 L911.84 72.67 L911.99 76.12 L912.13 75.53 L912.27 81.15 L912.41 79.86 L912.56 83.42 L912.7 80.5 L912.85 80.25 L913 84.16 L913.15 83.84 L913.3 96.17 L913.45 95.54 L913.6 92.73 L913.75 97.95 L913.9 99.6 L914.06 94.44 L914.21 99.03 L914.37 95.59 L914.53 90.79 L914.69 86.32 L914.84 86.45 L915 86.5 L915.14 84.4 L915.29 88.89 L915.43 88.61 L915.57 89.24 L915.71 89.51 L915.86 87.56 L916 87.5" fill="none" stroke="#0000ff" stroke-width="2.08" stroke-linejoin="round" stroke-linecap="square"/>
<g stroke="#000" stroke-width="1" fill="none">
<path d="M197.5 300.5v5.3"/>
<path d="M306.5 300.5v5.3"/>
<path d="M414.5 300.5v5.3"/>
<path d="M522.5 300.5v5.3"/>
<path d="M630.5 300.5v5.3"/>
<path d="M738.5 300.5v5.3"/>
<path d="M846.5 300.5v5.3"/>
<path d="M954.5 300.5v5.3"/>
<path d="M93.5 300.5h-5.3"/>
<path d="M93.5 267.5h-5.3"/>
<path d="M93.5 233.5h-5.3"/>
<path d="M93.5 200.5h-5.3"/>
<path d="M93.5 167.5h-5.3"/>
<path d="M93.5 133.5h-5.3"/>
<path d="M93.5 100.5h-5.3"/>
<path d="M93.5 67.5h-5.3"/>
<path d="M93.5 33.5h-5.3"/>
</g>
<g text-anchor="middle">
<text x="197.5" y="320.7">2012-01</text>
<text x="306.5" y="320.7">2014-01</text>
<text x="414.5" y="320.7">2016-01</text>
<text x="522.5" y="320.7">2018-01</text>
<text x="630.5" y="320.7">2020-01</text>
<text x="738.5" y="320.7">2022-01</text>
<text x="846.5" y="320.7">2024-01</text>
<text x="954.5" y="320.7">2026-01</text>
</g>
<g text-anchor="end">
<text x="84" y="305.65">-500.00%</text>
<text x="84" y="272.65">0.00%</text>
<text x="84" y="238.65">500.00%</text>
<text x="84" y="205.65">1000.00%</text>
<text x="84" y="172.65">1500.00%</text>
<text x="84" y="138.65">2000.00%</text>
<text x="84" y="105.65">2500.00%</text>
<text x="84" y="72.65">3000.00%</text>
<text x="84" y="38.65">3500.00%</text>
</g>
<rect x="93.5" y="33.5" width="863" height="267" fill="none" stroke="#000" stroke-width="1.1"/>
<text x="524.2" y="25.3" font-size="16.67" text-anchor="middle">Historical Compounded Cumulative Returns</text>
<path clip-path="url(#c2)" d="M132.95 359.5 L133.09 360.86 L133.23 364.05 L133.37 363.35 L133.51 363.96 L133.65 364.05 L133.79 363.68 L133.93 361.06 L134.07 360.37 L134.22 359.55 L134.36 359.83 L134.5 361.4 L134.64 362.35 L134.78 363.73 L134.92 359.69 L135.06 365.06 L135.21 359.56 L135.36 360.67 L135.51 363.95 L135.66 368.86 L135.81 368.22 L135.97 370.85 L136.12 370.34 L136.27 380.15 L136.4 384.52 L136.54 391.49 L136.67 393.73 L136.82 385.55 L136.97 392.54 L137.12 378.17 L137.27 390.65 L137.42 379.88 L137.58 374.11 L137.72 370.2 L137.86 372.62 L138.01 359.88 L138.15 362.09 L138.29 359.72 L138.44 360.14 L138.58 361.04 L138.73 359.89 L138.88 364.91 L139.03 362.36 L139.19 364.27 L139.34 362.59 L139.49 361.81 L139.64 365.86 L139.79 367.14 L139.94 359.52 L140.09 365.06 L140.23 364.91 L140.38 364.08 L140.52 361.17 L140.67 369.7 L140.81 366.08 L140.95 374.05 L141.1 375.12 L141.24 388.66 L141.38 388.7 L141.53 383.66 L141.67 382.85 L141.82 382.7 L141.96 392.48 L142.1 388.2 L142.26 390.16 L142.42 391.05 L142.59 399.16 L142.75 401.03 L142.91 405.3 L143.06 402.34 L143.21 406.33 L143.36 391.42 L143.51 388.64 L143.66 406.37 L143.81 402.47 L143.96 402.21 L144.11 388.2 L144.26 385.93 L144.4 387.4 L144.55 380.62 L144.69 376.72 L144.83 387.14 L144.98 376.81 L145.12 374.11 L145.27 373.24 L145.42 373.9 L145.57 390.01 L145.72 384.67 L145.88 373.91 L146.03 393.88 L146.18 396.67 L146.33 403.29 L146.49 417.15 L146.65 412.14 L146.81 417.58 L146.97 420.98 L147.13 426.93 L147.28 423.11 L147.43 421.57 L147.59 415.92 L147.74 406.01 L147.89 410.4 L148.04 404.12 L148.19 402.77 L148.34 411.34 L148.49 406.15 L148.63 401.99 L148.78 381.81 L148.92 397.74 L149.07 378.5 L149.21 397.16 L149.36 380.49 L149.5 376.79 L149.65 379.65 L149.79 383.8 L149.94 381.26 L150.08 386.14 L150.22 381.7 L150.37 384.11 L150.51 384.21 L150.65 388.2 L150.8 386.73 L150.94 389.37 L151.09 399.33 L151.23 387.32 L151.37 393.64 L151.52 395.81 L151.66 398.26 L151.8 397.15 L151.95 399.43 L152.09 398.33 L152.23 401.67 L152.38 401.06 L152.52 403.31 L152.67 405.3 L152.81 405.17 L152.95 396.52 L153.1 401.56 L153.24 399.43 L153.38 402.98 L153.53 400.42 L153.67 395.24 L153.82 405.31 L153.96 402.49 L154.1 403.44 L154.25 400.78 L154.39 411.12 L154.53 412.02 L154.68 417.37 L154.83 410.92 L154.98 418.03 L155.13 417.28 L155.28 401.83 L155.43 398.36 L155.58 399.39 L155.73 411.36 L155.89 410.66 L156.04 396.8 L156.19 398.26 L156.33 396.26 L156.47 399.55 L156.62 396.89 L156.76 390.17 L156.91 395.92 L157.05 391.32 L157.19 388.2 L157.34 390.62 L157.49 384.72 L157.65 383.69 L157.8 388.48 L157.95 380.23 L158.1 380.25 L158.25 380.05 L158.4 381.06 L158.55 374.34 L158.7 383.17 L158.85 373.71 L158.99 382.79 L159.13 380.44 L159.28 374.29 L159.42 378.05 L159.56 372.93 L159.71 370.59 L159.85 373.21 L160 389.39 L160.14 386.59 L160.28 385.62 L160.43 380.01 L160.57 387.05 L160.71 388.2 L160.86 395.92 L161 400.58 L161.15 391.27 L161.29 398.71 L161.43 392 L161.58 392.76 L161.72 400.27 L161.87 410.05 L162.02 398.47 L162.17 414.05 L162.32 399.07 L162.47 399.55 L162.63 413.76 L162.78 414.04 L162.93 412.21 L163.08 408.69 L163.23 412.85 L163.38 411.48 L163.53 408.05 L163.68 410.52 L163.83 406.93 L163.98 404.29 L164.13 412.04 L164.29 408.56 L164.44 404.13 L164.59 403.95 L164.74 395.24 L164.88 397.77 L165.03 399.96 L165.17 394.95 L165.31 394.37 L165.46 397.68 L165.6 405.78 L165.74 394.24 L165.89 406.39 L166.03 401.94 L166.18 397.99 L166.32 407.26 L166.46 412.8 L166.61 414.24 L166.75 411.34 L166.9 420.41 L167.05 417.36 L167.2 415.77 L167.35 414.01 L167.51 424.67 L167.66 423.52 L167.81 424.52 L167.96 425.75 L168.11 424.92 L168.26 425.42 L168.4 418.02 L168.55 418.54 L168.69 419.24 L168.83 420.01 L168.98 406.29 L169.12 426.04 L169.27 405.3 L169.41 402.75 L169.55 405.88 L169.7 401.44 L169.84 389.49 L169.98 374.13 L170.13 394.51 L170.27 385.18 L170.42 392.06 L170.56 363.37 L170.7 381.62 L170.85 372.8 L170.99 362.62 L171.13 372.86 L171.28 359.83 L171.42 361.12 L171.57 362.98 L171.71 359.52 L171.85 360.19 L172 359.67 L172.14 359.51 L172.28 359.5 L172.43 359.94 L172.57 359.57 L172.71 360.73 L172.86 359.66 L173 366.09 L173.15 361.73 L173.29 359.83 L173.43 366.97 L173.58 359.67 L173.72 362.28 L173.86 362.28 L174.01 371.99 L174.15 370.24 L174.3 375.12 L174.44 387.58 L174.58 370.05 L174.73 396.21 L174.87 395.22 L175.01 400.32 L175.16 384.27 L175.3 395.24 L175.45 438.51 L175.6 431.32 L175.74 419.89 L175.89 444.13 L176.04 429.58 L176.19 443.22 L176.31 425.42 L176.51 456.1 L176.65 445.58 L176.8 427.07 L176.94 458.53 L177.08 465.9 L177.22 459.14 L177.37 472.3 L177.51 469.07 L177.65 458.69 L177.8 473.8 L177.95 471.41 L178.09 463.35 L178.24 468.33 L178.39 460.34 L178.54 459.41 L178.69 461.76 L178.84 461.32 L178.99 462.39 L179.13 456.28 L179.28 454.9 L179.43 456.68 L179.58 456.75 L179.73 456.1 L179.87 455.44 L180 456.52 L180.14 451.24 L180.28 451.01 L180.42 449.85 L180.56 456.83 L180.69 449.66 L180.83 462.35 L180.97 451.51 L181.11 486.48 L181.25 487.39 L181.38 466.9 L181.52 469.11 L181.66 488.29 L181.81 486.87 L181.96 489.79 L182.11 486.88 L182.26 489.74 L182.41 489.16 L182.56 487.07 L182.71 487.87 L182.86 490.57 L183.01 487.62 L183.15 500.01 L183.3 497.03 L183.45 499.47 L183.6 491.93 L183.75 499.56 L183.9 495.46 L184.05 499.48 L184.19 495.81 L184.34 476.68 L184.48 489.47 L184.63 476.02 L184.78 471.46 L184.92 459.95 L185.07 471.99 L185.22 468.17 L185.36 456.1 L185.52 462.27 L185.68 452.29 L185.85 454.24 L186.01 450.09 L186.17 451.27 L186.31 452.29 L186.45 451.98 L186.6 452.42 L186.74 448.83 L186.88 443.96 L187.03 448.12 L187.17 444.9 L187.31 444.47 L187.45 443.22 L187.6 441.52 L187.74 439.39 L187.88 439.81 L188.02 429.43 L188.16 441.3 L188.3 428.36 L188.44 425.75 L188.58 423.9 L188.72 424.42 L188.86 423.01 L189 424.84 L189.14 418.98 L189.29 407.28 L189.43 422.43 L189.57 417.56 L189.71 406.36 L189.87 405.68 L190.03 419.36 L190.19 423.38 L190.35 447.46 L190.51 430.34 L190.67 476.59 L190.84 456.67 L191 477.02 L191.16 451.76 L191.32 466.42 L191.48 479.6 L191.64 477.5 L191.8 486.68 L191.96 480.95 L192.12 467.1 L192.28 460.33 L192.44 455.82 L192.61 456.1 L192.77 455.6 L192.93 455.5 L193.09 451.73 L193.25 465.42 L193.41 454.49 L193.55 459.84 L193.69 466.82 L193.83 477.59 L193.97 458.54 L194.11 473.84 L194.26 497.79 L194.4 476.62 L194.54 504.39 L194.68 510.79 L194.81 488.1 L194.95 518.87 L195.09 520.48 L195.23 508.6 L195.37 526.15 L195.5 523.7 L195.64 519.75 L195.78 527.78 L195.93 523.72 L196.07 527.74 L196.21 529.89 L196.35 526.67 L196.49 533.88 L196.63 530.14 L196.77 544.92 L196.91 540.42 L197.05 533.03 L197.19 541.74 L197.33 534.47 L197.47 540.72 L197.62 542.18 L197.76 544.63 L197.9 540.26 L198.05 545.54 L198.2 544.35 L198.34 539.84 L198.49 542.31 L198.63 544.97 L198.78 543.43 L198.93 543.9 L199.07 539.07 L199.22 534.92 L199.37 534.97 L199.5 520.09 L199.64 538.46 L199.78 523.3 L199.92 506.7 L200.06 507.72 L200.19 508.3 L200.33 507.61 L200.48 503.83 L200.62 508.09 L200.77 508.18 L200.92 504.18 L201.06 504.44 L201.21 508.64 L201.36 505.67 L201.5 504.41 L201.65 490.68 L201.8 503.01 L201.94 504.39 L202.08 493.02 L202.22 498.52 L202.36 503.88 L202.51 489.95 L202.65 494.2 L202.79 503.99 L202.93 477.14 L203.07 480.24 L203.23 500.06 L203.39 472.22 L203.55 462.44 L203.71 459.36 L203.87 464.14 L204.03 459.74 L204.2 457.5 L204.36 453.67 L204.52 456.07 L204.68 449.66 L204.84 438.83 L205 442.55 L205.16 443.82 L205.32 443.53 L205.48 440 L205.64 430.02 L205.8 430.03 L205.97 409.48 L206.13 413.78 L206.29 408.12 L206.43 400.8 L206.58 426.03 L206.73 408.11 L206.87 392.21 L207.02 394.39 L207.17 400.55 L207.31 398.2 L207.46 403.58 L207.6 401.91 L207.75 391.79 L207.9 389.61 L208.04 392.42 L208.18 398.99 L208.32 390.36 L208.46 395.88 L208.6 398.37 L208.74 399.54 L208.88 406.07 L209.02 403.29 L209.17 399.71 L209.31 399.75 L209.45 406.82 L209.6 407.8 L209.74 413.08 L209.88 408.95 L210.03 414.34 L210.17 411.65 L210.31 416.17 L210.46 395.38 L210.6 414.93 L210.75 409.23 L210.9 394.04 L211.04 397.48 L211.19 399.98 L211.34 392.59 L211.48 397.43 L211.63 397.19 L211.78 393.47 L211.92 393.63 L212.07 392.36 L212.21 389.12 L212.36 390.88 L212.51 393.92 L212.65 391.62 L212.8 386.07 L212.95 390.97 L213.09 391.27 L213.24 392.65 L213.38 387.29 L213.53 385.58 L213.68 384.25 L213.82 384.86 L213.97 384.4 L214.12 383.26 L214.26 386.47 L214.41 378.69 L214.56 381.78 L214.7 386.95 L214.85 404.87 L214.99 401.13 L215.14 398.46 L215.28 389.39 L215.43 394.6 L215.57 400.33 L215.71 398.95 L215.86 414.81 L216 416.02 L216.14 412.02 L216.29 416.17 L216.43 419.39 L216.57 419.72 L216.71 435.21 L216.85 424.22 L216.99 446.34 L217.13 430.81 L217.27 441.65 L217.41 444.53 L217.56 445.14 L217.7 445.52 L217.85 445 L217.99 442.48 L218.14 437.98 L218.29 431.03 L218.43 421.03 L218.58 430.65 L218.73 435.91 L218.87 426.32 L219.02 433.47 L219.16 412.95 L219.33 422.21 L219.49 438.61 L219.65 433.42 L219.81 442.26 L219.97 441.92 L220.12 440.43 L220.26 438.6 L220.41 441.32 L220.56 441.75 L220.7 443.06 L220.85 438.25 L220.99 442.66 L221.14 439.74 L221.29 436.4 L221.43 434.73 L221.58 438.7 L221.73 436.79 L221.87 439.76 L222.02 437.67 L222.16 432.04 L222.31 427.34 L222.46 428.23 L222.6 423.51 L222.75 426.23 L222.9 419.58 L223.04 422.91 L223.19 419.39 L223.34 424.37 L223.48 420.16 L223.63 419.99 L223.77 426.6 L223.92 426.05 L224.07 426.52 L224.21 427.63 L224.36 433.1 L224.51 427.49 L224.65 438.65 L224.8 432.26 L224.95 429.26 L225.1 439.24 L225.25 442.21 L225.4 442.23 L225.55 449.48 L225.7 440.15 L225.86 454.37 L226.01 455.44 L226.16 450.18 L226.31 445.68 L226.46 445.69 L226.61 444.11 L226.76 454.34 L226.91 451.98 L227.06 454.57 L227.21 457.21 L227.36 457.51 L227.51 452.73 L227.66 448.72 L227.81 455.17 L227.96 458.38 L228.11 441.33 L228.26 446.69 L228.41 441.17 L228.56 443.76 L228.71 452.91 L228.86 448.72 L229.01 440.63 L229.16 430.9 L229.31 435.48 L229.45 415.49 L229.59 434.1 L229.73 435.27 L229.87 424.53 L230.01 411.6 L230.15 408.93 L230.29 407.03 L230.43 408.12 L230.58 407.19 L230.73 403.14 L230.87 408.14 L231.02 409.3 L231.16 397.62 L231.31 398.84 L231.46 402.42 L231.6 388.52 L231.75 409.05 L231.9 391.65 L232.04 388 L232.19 400.24 L232.33 399.5 L232.48 389.85 L232.63 410.92 L232.77 409.22 L232.92 412.4 L233.07 409.34 L233.21 410.52 L233.36 412.41 L233.51 405.77 L233.65 411.34 L233.8 407.72 L233.95 409.06 L234.1 400.98 L234.25 398.95 L234.4 391.62 L234.55 398.68 L234.7 394.44 L234.85 392.43 L235 378.53 L235.15 378.2 L235.3 380.73 L235.45 379.32 L235.59 377.03 L235.74 371.9 L235.89 372.54 L236.04 371.05 L236.19 376.02 L236.34 371.39 L236.49 377.33 L236.64 382.34 L236.78 371.2 L236.93 376.52 L237.08 381.28 L237.23 378.21 L237.38 393.28 L237.53 378.67 L237.68 393.63 L237.83 392.67 L237.98 390.88 L238.13 393.17 L238.28 390.56 L238.43 392.51 L238.58 389.83 L238.73 388.89 L238.88 389.87 L239.03 390.86 L239.19 388.22 L239.34 381.53 L239.49 378.97 L239.64 388.89 L239.79 384.23 L239.94 377.71 L240.09 378.34 L240.24 381.94 L240.38 375.9 L240.53 377.75 L240.68 378.42 L240.82 379.02 L240.97 377.54 L241.11 390.26 L241.26 389.42 L241.41 388.81 L241.55 379.59 L241.7 392.02 L241.85 391.12 L241.99 389.61 L242.14 391.1 L242.29 391.75 L242.43 393.11 L242.58 402.86 L242.72 395.02 L242.87 392.89 L243.02 396.45 L243.16 401.44 L243.31 401.68 L243.46 405.77 L243.6 405.54 L243.75 401.34 L243.9 403.51 L244.04 400.61 L244.19 405.04 L244.33 418.75 L244.48 409.88 L244.63 414.66 L244.77 415.38 L244.92 423.41 L245.07 418.19 L245.21 415.1 L245.36 405 L245.5 408.4 L245.65 417.05 L245.8 396.89 L245.94 412.69 L246.09 396.15 L246.24 401.14 L246.38 388.73 L246.53 396.85 L246.68 383.2 L246.82 389.47 L246.97 394.35 L247.11 384.71 L247.26 386.46 L247.41 388.25 L247.55 380.35 L247.7 389.98 L247.85 389.32 L247.99 386.26 L248.14 379.14 L248.29 378.75 L248.43 384.16 L248.58 380.15 L248.72 379.44 L248.87 371.11 L249.02 372.96 L249.16 378.45 L249.31 364.93 L249.46 371.97 L249.6 362.87 L249.75 362.24 L249.9 366.07 L250.05 360.97 L250.2 361.77 L250.35 360.2 L250.5 359.58 L250.65 360.42 L250.8 362.56 L250.96 361.45 L251.11 362.21 L251.26 360.64 L251.41 364.29 L251.56 362.82 L251.71 360.62 L251.86 363.71 L252.01 362.96 L252.16 364.66 L252.31 360.58 L252.46 363 L252.6 361.05 L252.75 361.31 L252.89 361.72 L253.04 362.21 L253.19 360.26 L253.33 360.81 L253.48 361.37 L253.63 361.12 L253.77 360.31 L253.92 360.89 L254.07 362.18 L254.23 361.04 L254.38 359.92 L254.53 366.38 L254.68 360.15 L254.83 363.93 L254.98 365.45 L255.13 359.53 L255.28 366.95 L255.43 368.17 L255.58 369.88 L255.73 362.89 L255.89 359.59 L256.04 364.85 L256.19 369.49 L256.34 362.73 L256.49 366.92 L256.64 367.03 L256.79 363.42 L256.94 361.45 L257.09 371.49 L257.24 369.43 L257.39 370.33 L257.55 373.48 L257.7 369.33 L257.85 367.08 L258 374.66 L258.15 365.17 L258.3 361.43 L258.45 361.52 L258.6 374.32 L258.75 374.67 L258.9 370.75 L259.05 373.51 L259.21 373.24 L259.36 380.55 L259.51 378.05 L259.66 382.21 L259.81 384.43 L259.96 380.25 L260.11 383.31 L260.26 380.75 L260.41 379.43 L260.56 385.05 L260.71 382.27 L260.87 385 L261.02 383.97 L261.17 382 L261.32 385.99 L261.46 398.36 L261.61 387.94 L261.76 400.48 L261.91 397.29 L262.06 399.22 L262.21 394.6 L262.36 396.16 L262.51 395.54 L262.66 400.1 L262.81 396.7 L262.96 393.98 L263.11 400.07 L263.26 393.61 L263.41 394.56 L263.55 399.24 L263.7 393.99 L263.85 391.81 L264 384.33 L264.15 389.2 L264.3 386.51 L264.45 386 L264.59 382.27 L264.74 382.43 L264.89 388.29 L265.04 387.19 L265.19 389.63 L265.33 394.12 L265.48 389.04 L265.63 388.3 L265.77 393.41 L265.92 396.91 L266.06 397.33 L266.21 392.52 L266.36 393.3 L266.5 389.29 L266.65 397.66 L266.8 398.73 L266.94 397.47 L267.09 397.65 L267.24 384.66 L267.38 385.21 L267.53 387.95 L267.67 385.52 L267.82 386.87 L267.97 383.79 L268.11 377.65 L268.26 382.36 L268.41 381.91 L268.55 375.67 L268.7 376.01 L268.84 375.93 L268.99 375.64 L269.14 377.12 L269.28 383.28 L269.43 381.84 L269.58 380.56 L269.72 373.4 L269.87 371.1 L270.02 362.29 L270.16 369.87 L270.31 362.59 L270.45 363.32 L270.6 359.6 L270.75 359.51 L270.89 359.5 L271.04 360.15 L271.19 359.79 L271.33 364.07 L271.48 360.31 L271.63 367.61 L271.77 365.84 L271.92 362.09 L272.06 359.79 L272.21 366.29 L272.36 360.24 L272.5 362.1 L272.65 359.66 L272.8 372.51 L272.94 363.72 L273.09 371.1 L273.24 388.29 L273.39 369.89 L273.54 372.81 L273.69 381.37 L273.84 383.13 L273.99 387.77 L274.14 386.48 L274.3 382.43 L274.45 387.6 L274.6 384.71 L274.75 382.47 L274.9 384.46 L275.05 381.36 L275.2 385.83 L275.35 382.41 L275.5 387.19 L275.65 405.47 L275.8 390.03 L275.95 418.45 L276.1 409.87 L276.25 408.9 L276.4 416.88 L276.55 411.61 L276.7 417.79 L276.85 424.1 L277 423.11 L277.15 425.38 L277.3 421.6 L277.45 423.7 L277.6 424.22 L277.74 417.46 L277.89 418.03 L278.03 403.89 L278.18 416.03 L278.33 418.98 L278.47 395.95 L278.62 415.02 L278.77 387.97 L278.91 398.9 L279.06 383.66 L279.21 387.19 L279.35 393.97 L279.49 369.05 L279.63 369.19 L279.77 371.69 L279.91 369.86 L280.05 361.78 L280.19 366.21 L280.33 360.31 L280.47 359.52 L280.62 364.47 L280.76 372.92 L280.9 367.08 L281.04 359.99 L281.18 365.67 L281.33 375.52 L281.47 379.66 L281.61 379.14 L281.76 368.37 L281.91 379.29 L282.06 376.76 L282.21 378.63 L282.36 379.92 L282.52 377.79 L282.67 375.51 L282.82 374.92 L282.97 379.18 L283.12 380.31 L283.27 372.06 L283.42 377.22 L283.57 373.85 L283.72 368.56 L283.87 372.77 L284.02 371.1 L284.17 374.13 L284.32 362.04 L284.46 367.01 L284.61 368.35 L284.76 370.29 L284.9 359.54 L285.05 363.54 L285.19 359.5 L285.34 360.05 L285.49 360.25 L285.63 365.7 L285.78 369.68 L285.93 363.76 L286.07 365.18 L286.22 361.95 L286.37 362.1 L286.51 361.14 L286.66 369.5 L286.8 369.59 L286.95 363.15 L287.1 360.38 L287.24 367.07 L287.39 363.2 L287.55 367.82 L287.7 367.19 L287.85 366.29 L288 362.87 L288.15 367.71 L288.3 366.38 L288.45 362.94 L288.6 370.68 L288.75 367.67 L288.9 369.05 L289.05 366.31 L289.21 359.83 L289.36 364.54 L289.51 369.93 L289.66 369.49 L289.8 359.69 L289.95 360.02 L290.1 359.51 L290.24 363.45 L290.39 366.38 L290.54 361.34 L290.68 361.04 L290.83 369.87 L290.97 363.36 L291.12 369.17 L291.27 366.27 L291.41 368.42 L291.56 361.55 L291.71 363.93 L291.85 364.86 L292 362.79 L292.15 359.5 L292.29 361.95 L292.44 365.99 L292.58 365.32 L292.73 364.28 L292.88 364.66 L293.02 359.56 L293.17 360.11 L293.32 363.16 L293.46 363.32 L293.61 365.13 L293.76 360.95 L293.9 369.42 L294.05 369.81 L294.19 372.69 L294.34 366.03 L294.49 372.71 L294.63 366.87 L294.78 378.34 L294.93 390.72 L295.07 385.68 L295.22 396.68 L295.36 388.46 L295.51 397.22 L295.66 387.2 L295.8 399.06 L295.95 391.13 L296.1 398.46 L296.25 394.74 L296.4 392.92 L296.55 396.59 L296.7 384 L296.85 398.09 L297 383.13 L297.15 395.28 L297.3 389.49 L297.45 382.11 L297.61 379.56 L297.76 382.04 L297.91 382.43 L298.06 379.72 L298.21 379.74 L298.36 378.04 L298.51 383.97 L298.66 388.11 L298.8 399.07 L298.95 395.55 L299.1 384.55 L299.24 389.56 L299.39 390.52 L299.54 398.04 L299.68 400.43 L299.83 405.69 L299.97 404.18 L300.12 403.29 L300.28 401.33 L300.44 410.6 L300.6 404.23 L300.76 413.73 L300.93 412.95 L301.07 414.1 L301.22 411.21 L301.36 412.11 L301.51 410.28 L301.66 412.07 L301.8 409.15 L301.95 408.61 L302.1 405.11 L302.24 403.17 L302.39 410.89 L302.54 401.68 L302.68 399.8 L302.83 405.15 L302.97 398.94 L303.12 389.23 L303.27 394.49 L303.41 400.1 L303.56 384.03 L303.71 392.72 L303.85 378.2 L304 376.79 L304.14 379.14 L304.29 384.44 L304.44 377.91 L304.58 374.22 L304.73 374.24 L304.88 367.55 L305.02 369.34 L305.17 362.86 L305.32 363.35 L305.46 361.66 L305.61 366.17 L305.75 363.05 L305.9 359.58 L306.05 359.67 L306.19 360.07 L306.34 360.15 L306.49 359.95 L306.63 362.29 L306.78 361.33 L306.93 362.66 L307.07 361.08 L307.22 361.2 L307.36 360.31 L307.51 360.24 L307.66 360.26 L307.8 359.76 L307.95 360.01 L308.1 362.61 L308.24 361.8 L308.39 360.18 L308.53 370.99 L308.68 363.98 L308.83 367.9 L308.97 372.71 L309.12 361.65 L309.28 359.94 L309.43 369.02 L309.58 370.66 L309.73 369.46 L309.88 359.66 L310.03 364.58 L310.18 368 L310.33 371.15 L310.48 362.71 L310.63 371.07 L310.78 369.26 L310.94 359.5 L311.09 359.87 L311.24 359.69 L311.39 363.05 L311.54 363.89 L311.69 363.66 L311.84 363.51 L311.99 363.99 L312.14 359.97 L312.29 363.1 L312.44 360.23 L312.6 359.86 L312.75 364.17 L312.9 363.71 L313.05 362.61 L313.2 359.65 L313.35 360.66 L313.5 360.12 L313.65 360.4 L313.8 360.31 L313.96 367.41 L314.12 361.1 L314.29 371.65 L314.45 366.56 L314.61 367.88 L314.75 363.11 L314.9 368.62 L315.05 369.66 L315.19 381.76 L315.34 375.15 L315.49 375.26 L315.63 387.61 L315.78 383.37 L315.92 387.62 L316.07 375.61 L316.22 387.19 L316.36 390.36 L316.51 388.06 L316.66 388.09 L316.8 392.25 L316.95 390.16 L317.1 392.69 L317.24 400.88 L317.39 399.05 L317.53 404.21 L317.68 404.82 L317.83 403.29 L317.99 409.33 L318.15 405.73 L318.31 409.77 L318.47 406.58 L318.63 424.22 L318.78 409.4 L318.92 413.6 L319.07 406.69 L319.22 415.34 L319.36 397.81 L319.51 397.35 L319.66 395.98 L319.8 399.63 L319.95 405.62 L320.1 395.87 L320.24 396.85 L320.39 397.8 L320.54 397.28 L320.69 397.2 L320.84 397.15 L320.98 396.96 L321.13 405.17 L321.28 413.72 L321.43 397.35 L321.58 421.93 L321.73 435.22 L321.88 396.26 L322.02 409.94 L322.17 435.48 L322.32 435.34 L322.47 436.11 L322.62 439.02 L322.77 439.05 L322.92 445.04 L323.07 442.02 L323.22 439.88 L323.37 442.56 L323.52 442.98 L323.67 443.83 L323.82 444.64 L323.97 450.07 L324.12 447.78 L324.27 449.16 L324.41 448.2 L324.56 444.49 L324.7 448.02 L324.85 448.69 L325 450 L325.14 444.96 L325.29 444.37 L325.44 444.16 L325.58 446.22 L325.73 429.7 L325.88 435.48 L326.04 421.41 L326.2 423.88 L326.36 422.24 L326.52 423.8 L326.68 396.85 L326.83 395.9 L326.97 400.04 L327.12 396.99 L327.27 410.76 L327.41 408.83 L327.56 406.03 L327.7 396.79 L327.85 405.92 L328 415.57 L328.14 420.12 L328.29 421 L328.44 419.93 L328.58 415.34 L328.73 406.61 L328.88 407.8 L329.02 411.87 L329.17 411.36 L329.31 418.47 L329.46 405.42 L329.61 393.19 L329.75 404.8 L329.9 395.24 L330.04 380.88 L330.19 393.69 L330.33 385.5 L330.47 385.31 L330.61 383.72 L330.76 380.64 L330.9 375.32 L331.04 380.77 L331.19 379.14 L331.34 378.6 L331.48 374.77 L331.63 375.84 L331.78 374.43 L331.93 375.25 L332.08 379.12 L332.23 376.53 L332.38 374.82 L332.52 374.49 L332.67 374.42 L332.82 377.19 L332.97 375.48 L333.12 371.1 L333.28 391.83 L333.44 377.16 L333.6 372.33 L333.76 377.64 L333.92 395.24 L334.07 386.84 L334.22 387.31 L334.36 393.45 L334.51 391.99 L334.66 386.4 L334.8 386.85 L334.95 388.49 L335.09 386.54 L335.24 379.39 L335.39 385.5 L335.53 387.19 L335.68 384.6 L335.83 369.92 L335.97 370.41 L336.12 375.54 L336.26 373.02 L336.41 360.63 L336.56 363.26 L336.7 370.47 L336.85 362.41 L337 367.95 L337.14 371.1 L337.29 362.4 L337.44 362.37 L337.58 368.81 L337.73 359.59 L337.87 359.93 L338.02 362.63 L338.17 361.34 L338.31 362.64 L338.46 361.22 L338.61 360.74 L338.75 360.31 L338.9 362.17 L339.05 359.53 L339.19 359.94 L339.34 360.21 L339.48 359.68 L339.63 359.5 L339.78 360.59 L339.92 360.69 L340.07 361.58 L340.22 366.51 L340.36 360.31 L340.51 365.47 L340.65 363.23 L340.8 364.48 L340.95 372.08 L341.09 363.15 L341.24 359.77 L341.39 359.83 L341.53 362.97 L341.68 365.74 L341.83 367.22 L341.97 371.1 L342.12 375.5 L342.26 364.91 L342.41 380.31 L342.56 384.85 L342.7 384.64 L342.85 372.93 L343 380.7 L343.14 373.79 L343.29 384.08 L343.44 376.83 L343.58 383.97 L343.73 383.51 L343.88 378.59 L344.03 382.69 L344.19 377.17 L344.34 381.91 L344.49 381.77 L344.64 378.22 L344.79 381.3 L344.94 383.46 L345.09 383.38 L345.24 386.82 L345.39 387.55 L345.54 388.52 L345.69 386.19 L345.85 388.15 L346 389.61 L346.14 391.88 L346.29 396.19 L346.43 394.22 L346.58 400.6 L346.73 400.57 L346.87 414.3 L347.02 403.15 L347.17 406.3 L347.31 404.15 L347.46 404.49 L347.61 416.97 L347.75 401.53 L347.9 401.21 L348.05 403.25 L348.2 409.24 L348.35 407.89 L348.5 397.49 L348.65 409.48 L348.79 395.87 L348.94 394.35 L349.09 398.29 L349.24 391.19 L349.39 385.91 L349.54 387.19 L349.69 388.21 L349.84 385.99 L349.99 384.57 L350.14 387.25 L350.28 388.35 L350.43 382.59 L350.58 385.11 L350.73 381.82 L350.88 383.61 L351.03 385.5 L351.18 372.47 L351.33 382.15 L351.48 369.79 L351.63 371.1 L351.78 376.97 L351.92 359.66 L352.07 362.23 L352.22 360.2 L352.36 363.66 L352.51 361.65 L352.65 360.39 L352.8 362.32 L352.95 364.02 L353.09 361.24 L353.24 360.31 L353.39 359.5 L353.54 360.64 L353.69 360.43 L353.84 360.15 L353.99 360.14 L354.14 359.76 L354.3 360.52 L354.45 360.15 L354.6 360.2 L354.75 360.86 L354.9 359.5 L355.05 361.08 L355.2 359.6 L355.35 363.2 L355.5 376.27 L355.65 360.31 L355.81 374.88 L355.98 386.87 L356.14 390.64 L356.3 395.26 L356.46 387.19 L356.61 381.83 L356.75 397.1 L356.9 401.3 L357.04 399.16 L357.19 397.29 L357.34 398.27 L357.48 397.95 L357.63 413.84 L357.78 403.74 L357.92 402 L358.07 414.56 L358.21 415.36 L358.36 405.72 L358.51 418.56 L358.65 412.92 L358.8 415.26 L358.95 413.99 L359.09 412.67 L359.24 416.64 L359.39 418.32 L359.53 414.66 L359.68 418.58 L359.84 416.47 L360 405.89 L360.16 391.89 L360.32 406.45 L360.48 387.19 L360.63 390.23 L360.78 394.44 L360.92 387.08 L361.07 382.38 L361.21 373.72 L361.36 383.81 L361.51 375.93 L361.65 383.37 L361.8 370.67 L361.95 376.88 L362.09 371.1 L362.24 370.32 L362.39 362.68 L362.53 367.9 L362.68 369.91 L362.82 365.26 L362.97 370.15 L363.12 365.19 L363.26 369.36 L363.41 361.11 L363.56 360.16 L363.7 360.31 L363.85 360.19 L364 359.78 L364.15 359.92 L364.31 359.8 L364.46 359.83 L364.61 359.83 L364.76 359.52 L364.91 360.24 L365.06 359.87 L365.21 360.1 L365.36 360.43 L365.51 359.79 L365.66 359.95 L365.81 359.82 L365.97 359.9 L366.12 360.31 L366.26 360.71 L366.41 360.96 L366.56 359.5 L366.7 361.5 L366.85 360.11 L366.99 372.04 L367.14 359.85 L367.29 363.93 L367.43 367.89 L367.58 370.79 L367.73 371.1 L367.87 375.55 L368.02 373.25 L368.17 377.23 L368.31 377.68 L368.46 377.6 L368.6 375.66 L368.75 378.41 L368.9 373.98 L369.04 380.98 L369.19 375.11 L369.34 382.36 L369.48 379.97 L369.63 373.85 L369.78 373.82 L369.92 374.47 L370.07 378.69 L370.21 366.89 L370.36 378.54 L370.51 363.36 L370.65 365.28 L370.8 364.15 L370.95 367.88 L371.09 366.75 L371.24 362.23 L371.38 363.73 L371.53 359.58 L371.68 367.62 L371.82 366.23 L371.97 359.96 L372.12 362.98 L372.26 368.04 L372.41 360.02 L372.56 360.31 L372.71 361.64 L372.86 371.39 L373.01 369.73 L373.16 371.64 L373.31 373.03 L373.46 373.56 L373.61 384.53 L373.76 388.64 L373.91 372.11 L374.06 383.54 L374.22 388.63 L374.37 395.63 L374.52 381.52 L374.67 401.54 L374.82 394.51 L374.97 403.29 L375.12 392.7 L375.26 399.05 L375.41 391.82 L375.56 400.09 L375.7 400.41 L375.85 382.61 L375.99 394.31 L376.14 390.25 L376.29 384.62 L376.43 376.29 L376.58 379.14 L376.73 369.01 L376.87 375.38 L377.02 378.97 L377.16 361.79 L377.31 362.9 L377.46 365.69 L377.6 365.15 L377.75 359.62 L377.9 359.78 L378.04 360.17 L378.19 360.31 L378.34 361.07 L378.49 359.62 L378.64 359.58 L378.79 359.51 L378.94 359.55 L379.09 359.71 L379.25 359.53 L379.4 359.5 L379.55 359.77 L379.7 360.09 L379.85 359.68 L380 360.24 L380.15 359.94 L380.3 362.88 L380.45 360.73 L380.6 360.31 L380.76 360.51 L380.93 372.66 L381.09 372.72 L381.25 375.13 L381.41 382.36 L381.55 363.11 L381.7 367.44 L381.85 381.02 L381.99 365.08 L382.14 363.08 L382.29 359.53 L382.43 359.54 L382.58 359.8 L382.73 361.06 L382.87 362.08 L383.02 360.31 L383.16 360.54 L383.3 363.66 L383.45 365.63 L383.59 360.8 L383.73 361 L383.88 364.36 L384.02 377.86 L384.16 368.49 L384.31 379.14 L384.45 374.45 L384.59 387.74 L384.73 394.32 L384.87 387.25 L385.01 403.17 L385.15 401.61 L385.29 399.7 L385.43 403.29 L385.59 402.73 L385.74 434.07 L385.89 433.13 L386.05 451.16 L386.2 440 L386.35 450.34 L386.5 489.03 L386.65 477.05 L386.8 480 L386.97 515.56 L387.13 500.27 L387.3 520.1 L387.45 519.75 L387.6 521.07 L387.75 480.83 L387.9 498.3 L388.05 483.7 L388.2 480 L388.34 480.43 L388.49 441.47 L388.63 435.33 L388.78 465.1 L388.92 439.03 L389.07 431.96 L389.21 436.13 L389.36 431.3 L389.5 430.7 L389.66 435.41 L389.82 445.06 L389.98 441.98 L390.14 456.01 L390.3 458 L390.44 468.06 L390.58 456.34 L390.72 460.58 L390.86 460.13 L391 475 L391.15 492.16 L391.3 478.82 L391.45 480.41 L391.6 494.35 L391.75 487.74 L391.9 508.83 L392.05 507.88 L392.2 499.1 L392.35 510.54 L392.5 525.06 L392.65 533.91 L392.8 534.21 L392.95 547.77 L393.1 539.4 L393.23 546.95 L393.37 573.79 L393.5 565.1 L393.65 569.52 L393.8 579.6 L393.95 563.22 L394.1 569.85 L394.25 572.7 L394.4 552.3 L394.57 569.97 L394.73 552.9 L394.9 590.9 L395.07 569.54 L395.23 582.43 L395.4 597.7 L395.57 581.92 L395.73 589.27 L395.9 553.9 L396.07 574.25 L396.23 559.55 L396.4 592.5 L396.53 583.76 L396.67 577.49 L396.8 555.5 L396.97 564.28 L397.13 587.19 L397.3 589.3 L397.47 572.03 L397.63 576.27 L397.8 550.7 L397.97 585.91 L398.13 574.61 L398.3 586.1 L398.47 586.01 L398.63 559.92 L398.8 549.8 L398.97 566.08 L399.13 557.95 L399.3 566.8 L399.43 565.27 L399.57 551.13 L399.7 549 L399.87 565.37 L400.03 549.69 L400.2 564.3 L400.34 554.65 L400.48 549.83 L400.62 548.41 L400.76 524.45 L400.9 547.4 L401.05 551.72 L401.2 541.13 L401.35 544.66 L401.5 523.3 L401.67 524.46 L401.83 491.5 L402 491.1 L402.15 510.02 L402.3 451.6 L402.45 483.28 L402.59 479.65 L402.74 436.73 L402.88 435.57 L403.03 433.42 L403.17 434.42 L403.32 443.44 L403.46 435.81 L403.61 416.95 L403.75 415.92 L403.9 430.7 L404.04 425.24 L404.19 427.42 L404.33 423.41 L404.48 413.94 L404.62 409.72 L404.77 409.74 L404.91 412.5 L405.06 413.6 L405.2 403.3 L405.34 400.31 L405.49 406.02 L405.63 399.93 L405.77 397.17 L405.91 396.28 L406.06 399.12 L406.2 395.38 L406.34 396.89 L406.49 396.52 L406.63 398.31 L406.77 397.12 L406.91 389.2 L407.06 392.93 L407.2 396.9 L407.36 382.78 L407.51 391.19 L407.67 387.67 L407.83 381.43 L407.99 385.36 L408.14 385.59 L408.3 380 L408.44 388.64 L408.59 384.71 L408.73 394.58 L408.88 394.08 L409.02 401.01 L409.17 393.99 L409.31 399.37 L409.46 401.34 L409.6 403.3 L409.75 394.98 L409.89 401.23 L410.04 399.09 L410.18 395.06 L410.33 394.93 L410.47 403.12 L410.62 398.25 L410.76 398.65 L410.91 391.78 L411.05 391.63 L411.2 393.6 L411.35 392.32 L411.49 392.85 L411.64 393.64 L411.78 412.49 L411.93 392.47 L412.07 397.16 L412.22 397.67 L412.36 402.47 L412.51 406.3 L412.65 417.35 L412.8 411.3 L412.96 413.73 L413.12 431.66 L413.28 439.86 L413.44 417.65 L413.6 435.5 L413.73 436.61 L413.87 440.45 L414 475.7 L414.13 445.15 L414.27 484.78 L414.4 491.1 L414.56 483.59 L414.72 484.97 L414.88 502.76 L415.04 510.98 L415.2 507.2 L415.35 524.93 L415.49 516.03 L415.64 509.11 L415.78 515.5 L415.93 525.88 L416.07 526.09 L416.22 525.6 L416.36 522.81 L416.51 512.06 L416.65 514.8 L416.8 524.9 L416.94 515.86 L417.08 517.67 L417.22 523.99 L417.36 507.2 L417.5 500 L417.65 512.78 L417.8 508.16 L417.95 510.45 L418.1 500.26 L418.25 506.57 L418.4 516.9 L418.56 514.1 L418.72 511.11 L418.88 512.51 L419.04 499.85 L419.2 485 L419.36 501.84 L419.52 506.19 L419.68 509.78 L419.84 503.48 L420 513.6 L420.16 513.39 L420.32 493.57 L420.48 480.05 L420.64 495.09 L420.8 481 L420.96 483.44 L421.12 489.65 L421.28 511.22 L421.44 500.15 L421.6 512 L421.76 506.39 L421.92 500.56 L422.08 499.63 L422.24 502.7 L422.4 490 L422.56 504.04 L422.72 507.72 L422.88 501.84 L423.04 493.59 L423.2 507.2 L423.36 497.06 L423.52 505.33 L423.68 495.21 L423.84 495.88 L424 491.1 L424.16 483.26 L424.32 483.25 L424.48 481.06 L424.64 482.31 L424.8 483 L424.95 484.67 L425.1 462.99 L425.25 453.37 L425.4 428.96 L425.55 461.88 L425.7 435.5 L425.85 419.29 L425.99 426.24 L426.14 428.55 L426.28 414.45 L426.43 413.68 L426.57 412.18 L426.72 412.84 L426.86 414.43 L427.01 414.37 L427.15 412.2 L427.3 414.6 L427.45 413.64 L427.59 407.89 L427.74 407.85 L427.88 414.45 L428.03 408.86 L428.17 409.61 L428.32 412.73 L428.46 412.2 L428.61 405.78 L428.75 401.78 L428.9 401.7 L429.05 409.75 L429.19 420.46 L429.34 418.29 L429.48 405.56 L429.63 404.81 L429.77 408.79 L429.92 416.41 L430.07 414.97 L430.21 419.79 L430.36 415.25 L430.5 419.39 L430.65 420.88 L430.8 417.89 L430.94 419.41 L431.09 420.78 L431.23 418.61 L431.38 428.36 L431.53 428.39 L431.67 423.58 L431.82 425.57 L431.97 434.74 L432.11 427.43 L432.25 439.89 L432.39 433.56 L432.54 434.76 L432.68 441.1 L432.82 440.85 L432.96 436.15 L433.1 441.2 L433.24 440.31 L433.39 430.63 L433.53 431.51 L433.68 439.94 L433.82 427.36 L433.97 434.41 L434.12 421.42 L434.26 429.49 L434.41 427.74 L434.56 429.63 L434.7 430.55 L434.85 422.61 L435 432.26 L435.14 424.62 L435.29 425.53 L435.43 421.65 L435.57 428.43 L435.72 415.87 L435.86 403.81 L436 406.77 L436.14 399.67 L436.29 400.07 L436.46 400.07 L436.62 406.34 L436.78 405.57 L436.94 399.28 L437.1 400.32 L437.26 412.07 L437.41 419.39 L437.56 411.48 L437.7 415.28 L437.84 415.01 L437.98 419.33 L438.12 414.87 L438.27 420.66 L438.41 419.39 L438.55 419.39 L438.71 425.21 L438.87 422.69 L439.02 432.26 L439.17 432 L439.32 425.24 L439.46 431.61 L439.61 419.55 L439.76 408.92 L439.9 417.7 L440.05 416.85 L440.19 415.43 L440.34 404.07 L440.49 408.34 L440.63 403.29 L440.78 411.6 L440.93 403.81 L441.07 419.71 L441.22 416.7 L441.37 417.96 L441.51 416.35 L441.66 418.8 L441.8 415.23 L441.95 419.02 L442.1 420.38 L442.24 419.39 L442.39 415.72 L442.54 419.8 L442.68 415.33 L442.83 419.29 L442.98 422.6 L443.12 418.96 L443.27 419.58 L443.41 419.69 L443.56 422.71 L443.71 421.97 L443.85 422.61 L443.99 435.99 L444.13 425.95 L444.28 433.16 L444.42 436.05 L444.56 435.5 L444.7 426.9 L444.84 426.44 L444.98 436.29 L445.13 428.49 L445.27 429.45 L445.42 432.75 L445.57 428.63 L445.71 429.9 L445.86 425.86 L446 428.34 L446.15 431.07 L446.3 430.23 L446.44 426.61 L446.59 419.39 L446.74 418.44 L446.89 415.42 L447.04 414.73 L447.19 414.53 L447.34 411.7 L447.49 410.27 L447.64 412.33 L447.79 410.45 L447.93 415.61 L448.08 411.89 L448.23 410.49 L448.38 419.04 L448.53 414.37 L448.68 414.56 L448.83 419.91 L448.97 415 L449.12 425.13 L449.27 422.22 L449.41 427.06 L449.56 424.57 L449.71 424.45 L449.85 429.02 L450 426.68 L450.15 433.99 L450.29 430.65 L450.45 422.63 L450.61 447.19 L450.77 431.7 L450.94 433.36 L451.1 447.56 L451.24 443.25 L451.39 447.86 L451.54 441.06 L451.68 443.36 L451.83 445.39 L451.97 443.52 L452.12 434.47 L452.27 438.94 L452.41 430.53 L452.56 440.74 L452.71 432.26 L452.85 424.16 L453 431.44 L453.15 431.19 L453.29 425.77 L453.44 424.27 L453.58 426.95 L453.73 419.47 L453.88 422.62 L454.02 419.84 L454.17 423.92 L454.32 419.39 L454.46 425.11 L454.61 420.14 L454.75 419.31 L454.9 420.66 L455.05 424.58 L455.19 423.03 L455.34 423.61 L455.49 420.37 L455.63 425.28 L455.78 424.38 L455.93 429.04 L456.07 428.95 L456.22 429.53 L456.36 420.18 L456.51 425.63 L456.66 425.56 L456.8 413.5 L456.95 419.97 L457.1 418.1 L457.24 419.46 L457.39 417.91 L457.54 411.34 L457.68 420.22 L457.83 411.21 L457.97 413.09 L458.12 416.57 L458.27 417.56 L458.41 416.25 L458.56 411.24 L458.71 418.55 L458.85 417.36 L459 420.42 L459.14 419.39 L459.29 415.05 L459.44 414.81 L459.58 418.12 L459.73 417.95 L459.88 419.44 L460.02 420.06 L460.17 417.62 L460.32 420.58 L460.46 420.1 L460.61 412.04 L460.75 409.73 L460.9 410.47 L461.05 415.58 L461.19 412.66 L461.34 416.77 L461.49 415.35 L461.63 411.39 L461.78 415 L461.93 413.22 L462.07 421.22 L462.22 423.34 L462.36 416.17 L462.51 425.07 L462.65 425.09 L462.79 423.55 L462.94 425.74 L463.08 428.89 L463.22 436.2 L463.37 432.03 L463.51 439.67 L463.65 435.48 L463.79 438.3 L463.93 445.24 L464.07 438.34 L464.22 444.7 L464.36 446.67 L464.5 441.57 L464.64 448.14 L464.78 448.36 L464.93 452.37 L465.07 445.82 L465.22 452.67 L465.36 451.93 L465.51 456.96 L465.66 452.91 L465.8 455.14 L465.95 451.93 L466.1 454.64 L466.24 453.59 L466.39 456.41 L466.53 452.39 L466.68 452.29 L466.83 457.47 L466.97 457.52 L467.12 450.21 L467.27 450.03 L467.41 447.45 L467.56 446.51 L467.71 449.81 L467.85 445.54 L468 443.53 L468.14 440.93 L468.28 445.01 L468.42 427.7 L468.56 423.05 L468.7 424.43 L468.84 418.97 L468.98 421.84 L469.12 419.39 L469.27 418.53 L469.41 420.63 L469.55 418.4 L469.7 418.24 L469.84 425.99 L469.98 426.7 L470.13 427.73 L470.27 423.83 L470.41 429.04 L470.56 428.91 L470.71 417.22 L470.85 422.55 L471 415.39 L471.14 418.01 L471.29 421.05 L471.44 419.99 L471.58 415.03 L471.73 415.52 L471.88 419.81 L472.02 414.56 L472.17 411.85 L472.31 411.8 L472.46 414.34 L472.61 408.65 L472.75 410.78 L472.9 410.98 L473.05 403.3 L473.19 405.71 L473.34 402.99 L473.49 398.74 L473.63 400.07 L473.78 405.99 L473.93 403.33 L474.08 399.2 L474.24 395.05 L474.39 400.59 L474.54 394.98 L474.69 394.66 L474.84 396.76 L474.99 395.21 L475.14 400.24 L475.29 400.21 L475.44 394.64 L475.59 399.64 L475.74 394.88 L475.9 396.08 L476.05 398.46 L476.19 398.53 L476.34 396.04 L476.49 398.6 L476.63 394.2 L476.78 397.02 L476.92 399.44 L477.07 399.12 L477.22 395.96 L477.36 394.62 L477.51 398.33 L477.66 392.02 L477.8 396.99 L477.95 391.79 L478.09 388.58 L478.24 389.53 L478.39 392.34 L478.53 391.79 L478.68 382.98 L478.83 388.04 L478.97 383.03 L479.12 383.97 L479.27 383.97 L479.42 379.78 L479.57 379.73 L479.72 382.11 L479.87 383.47 L480.02 384.37 L480.17 380.92 L480.32 378.41 L480.47 377.82 L480.62 378.04 L480.77 380.34 L480.93 377.89 L481.08 378.3 L481.23 376.45 L481.38 378.24 L481.53 386.49 L481.68 376.73 L481.83 379.35 L481.97 382.54 L482.12 390.74 L482.27 404.01 L482.41 400.26 L482.56 401.97 L482.7 397.87 L482.85 398 L483 401.2 L483.14 401.13 L483.29 403.29 L483.44 398.24 L483.58 398.41 L483.73 400.74 L483.88 395.66 L484.02 392.65 L484.17 400.07 L484.31 399 L484.46 394.4 L484.61 390.13 L484.75 392.68 L484.9 393.63 L485.05 392.02 L485.2 393.58 L485.35 393.63 L485.5 389.39 L485.65 382.89 L485.8 392.06 L485.96 389.06 L486.11 382.86 L486.26 386.47 L486.41 389.65 L486.56 391.71 L486.71 385.95 L486.86 383.45 L487.01 382.43 L487.16 390.53 L487.31 382.36 L487.46 383.65 L487.61 380.68 L487.75 381.78 L487.9 377.65 L488.05 379.62 L488.19 379.12 L488.34 377.44 L488.48 380.15 L488.63 382.55 L488.78 382.43 L488.92 380.29 L489.07 379.3 L489.22 376.99 L489.36 379.12 L489.51 380.91 L489.66 382.81 L489.8 379 L489.95 382.72 L490.09 383.11 L490.24 380.15 L490.39 380.11 L490.53 379.95 L490.67 393.33 L490.81 383.69 L490.96 384.75 L491.1 401.56 L491.24 390.11 L491.38 396.99 L491.52 396.98 L491.66 401.68 L491.81 394.02 L491.95 388.44 L492.1 402.09 L492.25 391.88 L492.39 394.63 L492.54 392.84 L492.68 392.51 L492.83 389.34 L492.98 386.43 L493.12 390.51 L493.27 387.19 L493.42 396.13 L493.57 391.09 L493.72 385.12 L493.87 387.86 L494.02 383.9 L494.17 383.44 L494.32 388.29 L494.47 386.65 L494.61 389.22 L494.76 388.77 L494.91 390.24 L495.06 387.79 L495.21 395.02 L495.36 392.02 L495.51 393.55 L495.65 390.88 L495.8 393.08 L495.95 405.77 L496.09 407.49 L496.24 408.73 L496.39 399.27 L496.53 406.97 L496.68 411.01 L496.83 409 L496.97 411.34 L497.12 407.49 L497.26 406.99 L497.41 397.4 L497.56 394.87 L497.7 392.46 L497.85 398.43 L498 412.03 L498.14 403.06 L498.29 393.11 L498.44 399.13 L498.58 393.63 L498.73 406.08 L498.87 396.96 L499.02 396.99 L499.17 405.71 L499.31 403 L499.46 405 L499.61 402.14 L499.75 405.87 L499.9 404.16 L500.04 404.27 L500.19 404.9 L500.34 387.42 L500.48 385.98 L500.63 390.87 L500.78 387.87 L500.92 389.79 L501.07 385.59 L501.22 382.15 L501.36 383.02 L501.51 380.44 L501.65 381 L501.8 379.14 L501.95 380.95 L502.09 379.35 L502.24 382.72 L502.39 381.54 L502.53 381.67 L502.68 379.44 L502.83 380.77 L502.97 379.89 L503.12 380.47 L503.26 380.83 L503.41 382.36 L503.56 376.33 L503.7 375.86 L503.85 378.01 L504 371.96 L504.14 367.19 L504.29 381.7 L504.43 371.95 L504.58 361.12 L504.73 370.69 L504.87 361.48 L505.02 362.24 L505.17 363.25 L505.31 360.2 L505.46 364.61 L505.61 365.42 L505.75 359.95 L505.9 361.36 L506.04 364.58 L506.19 365.08 L506.34 363.43 L506.48 364.25 L506.63 375.93 L506.78 369.14 L506.93 366.9 L507.08 373.95 L507.23 368.65 L507.38 372.5 L507.54 368.1 L507.69 372.94 L507.84 370.52 L507.99 368.64 L508.14 377.12 L508.29 363.46 L508.44 376.11 L508.59 376.81 L508.74 374.19 L508.89 375.54 L509.04 364.66 L509.2 375.89 L509.35 368.62 L509.5 364.68 L509.65 360.58 L509.8 365.61 L509.95 362.15 L510.1 363.93 L510.25 363.99 L510.4 363.69 L510.55 364.51 L510.7 359.74 L510.86 360.03 L511.01 363.05 L511.16 362.48 L511.31 360.29 L511.46 360.31 L511.61 359.62 L511.76 360.57 L511.91 361 L512.06 359.7 L512.21 364.5 L512.36 364.68 L512.52 362.5 L512.67 362.52 L512.82 365.19 L512.97 361.29 L513.12 363.73 L513.27 364.57 L513.42 363.87 L513.57 361.38 L513.72 362.71 L513.87 364.66 L514.02 366.26 L514.18 361.3 L514.33 365.08 L514.48 367.77 L514.63 362.34 L514.78 360.33 L514.93 372.2 L515.08 366.17 L515.23 370.04 L515.38 361 L515.53 364.22 L515.68 359.51 L515.84 369.88 L515.99 363.56 L516.14 373.25 L516.29 371.1 L516.43 376.66 L516.58 380.57 L516.73 377.18 L516.87 373.75 L517.02 373.38 L517.17 373.97 L517.31 376.07 L517.46 379.8 L517.6 386.96 L517.75 383.19 L517.9 388 L518.04 384.54 L518.19 387.09 L518.34 384.51 L518.48 379.78 L518.63 386.67 L518.78 375.26 L518.92 386.84 L519.07 386.33 L519.21 380.92 L519.36 377.41 L519.51 364.66 L519.65 362.73 L519.8 365.88 L519.95 363.21 L520.09 361.51 L520.24 361.57 L520.39 360.02 L520.53 359.96 L520.68 360.81 L520.82 360.9 L520.97 359.54 L521.12 360.31 L521.26 359.63 L521.41 364.76 L521.56 370.25 L521.7 361.11 L521.85 372.15 L521.99 362.86 L522.14 366.18 L522.29 359.5 L522.43 366.74 L522.58 369.51 L522.73 375.93 L522.87 373.01 L523.02 367.16 L523.17 376.12 L523.31 366.74 L523.46 362.74 L523.6 370.44 L523.75 359.94 L523.9 368.67 L524.04 359.61 L524.19 369.3 L524.34 360.31 L524.48 364.65 L524.63 367.72 L524.78 367.56 L524.92 363.44 L525.07 360.84 L525.21 365.33 L525.36 379.06 L525.51 367.31 L525.65 380.14 L525.8 394.76 L525.95 379.14 L526.09 372.9 L526.23 381.74 L526.37 381.57 L526.51 409.86 L526.65 415.95 L526.79 402.53 L526.93 425.87 L527.07 428.24 L527.22 415.14 L527.37 416.47 L527.51 419.14 L527.66 428.18 L527.8 420.77 L527.95 421.67 L528.1 402.06 L528.24 395.46 L528.39 409.78 L528.54 394.15 L528.68 395.24 L528.83 392.76 L528.97 381.06 L529.11 394.84 L529.25 376.22 L529.4 390.71 L529.54 379.38 L529.68 370.81 L529.83 373.84 L529.97 360.31 L530.12 369.66 L530.26 360.68 L530.41 360.26 L530.56 360.49 L530.7 360.67 L530.85 359.76 L530.99 359.92 L531.14 359.83 L531.29 360.58 L531.43 362.35 L531.58 360.31 L531.73 362.35 L531.87 362.39 L532.02 369.42 L532.16 371.38 L532.31 381.11 L532.46 388.6 L532.6 400.03 L532.75 374.57 L532.9 401.74 L533.04 396.59 L533.19 400.88 L533.34 396.88 L533.48 397.46 L533.63 392.39 L533.77 395.9 L533.92 395.19 L534.07 388.25 L534.21 386.97 L534.36 381.16 L534.51 377.88 L534.65 383.82 L534.8 382.36 L534.95 379.69 L535.1 382.31 L535.25 383.05 L535.4 383.4 L535.55 377.21 L535.7 380.65 L535.86 378.22 L536.01 381.27 L536.16 381.2 L536.31 373.39 L536.46 369.94 L536.61 363.38 L536.76 363.02 L536.91 364.92 L537.06 361.3 L537.21 367.07 L537.36 369.07 L537.51 375.2 L537.65 373.18 L537.8 375.16 L537.94 371.32 L538.09 369.24 L538.24 372.45 L538.38 368.67 L538.53 386.53 L538.68 371.58 L538.82 385.58 L538.97 383.91 L539.12 380.74 L539.26 386.52 L539.41 381.35 L539.55 384.59 L539.7 379.75 L539.85 360.13 L539.99 368.01 L540.14 366.13 L540.29 367.49 L540.43 360.31 L540.58 361.65 L540.73 364.6 L540.87 366.09 L541.02 364.17 L541.16 363.2 L541.31 378.04 L541.46 375.64 L541.6 382.26 L541.75 376.67 L541.9 380.47 L542.04 383.97 L542.19 379.49 L542.34 384.22 L542.49 381.68 L542.65 380.02 L542.8 385.13 L542.95 376.88 L543.1 376.06 L543.25 379.54 L543.4 383.25 L543.55 376.91 L543.7 370.1 L543.85 366.09 L544 359.58 L544.15 364.79 L544.31 367.36 L544.46 361.44 L544.6 363.95 L544.75 360.04 L544.9 360.14 L545.04 365.08 L545.19 363.98 L545.33 365.8 L545.48 376.12 L545.63 374.98 L545.77 379.6 L545.92 379.94 L546.07 377.54 L546.21 390.07 L546.36 386.43 L546.51 378.28 L546.65 388.58 L546.8 394.15 L546.94 387.86 L547.09 389.67 L547.24 401.38 L547.38 401.39 L547.53 394.87 L547.68 401.68 L547.82 398.99 L547.97 400.09 L548.12 398.23 L548.27 392.04 L548.42 396.66 L548.57 392.69 L548.72 394.69 L548.86 400.1 L549.01 400.21 L549.16 392.16 L549.31 395.79 L549.46 375.94 L549.61 375.93 L549.75 380.49 L549.9 363.66 L550.05 375.21 L550.19 373.65 L550.34 359.93 L550.49 367.77 L550.63 360.96 L550.78 361.8 L550.92 376.39 L551.07 377.95 L551.22 375.93 L551.36 375.93 L551.5 382.44 L551.65 386.91 L551.79 387.86 L551.93 392.27 L552.08 384.53 L552.22 381.16 L552.36 379.16 L552.51 403.29 L552.67 408.19 L552.83 413.26 L552.99 411.51 L553.15 406.93 L553.31 429.04 L553.46 425.4 L553.6 430.96 L553.75 428.16 L553.9 433.64 L554.04 431.84 L554.19 436.38 L554.33 433.19 L554.48 431.71 L554.63 418.89 L554.77 434.24 L554.92 435.48 L555.07 421.14 L555.21 419.99 L555.36 417.22 L555.5 420.42 L555.65 418.94 L555.8 409.7 L555.94 409.49 L556.09 403.23 L556.24 402.87 L556.38 401.67 L556.53 397.66 L556.68 398.56 L556.82 402.48 L556.97 404.56 L557.11 404.75 L557.26 401.94 L557.41 403.92 L557.55 396.93 L557.7 403.48 L557.85 406 L557.99 401.86 L558.14 419.39 L558.29 419.1 L558.43 410.82 L558.58 414.08 L558.72 407.44 L558.87 410.45 L559.02 408.45 L559.16 406.29 L559.31 408.13 L559.46 406.34 L559.6 404.36 L559.75 408.12 L559.89 403.74 L560.04 409.28 L560.19 407.84 L560.33 409.11 L560.48 404.05 L560.63 407.5 L560.77 405.84 L560.92 405.44 L561.07 401.99 L561.21 404.56 L561.36 406.51 L561.5 407.75 L561.65 431 L561.8 430.65 L561.94 411.47 L562.09 409.25 L562.24 425 L562.38 433.39 L562.53 431.24 L562.68 439.4 L562.82 449.47 L562.97 432.26 L563.13 456.69 L563.29 468.14 L563.45 454.09 L563.61 449.6 L563.77 476.53 L563.92 477.54 L564.07 470.88 L564.22 471.84 L564.37 472.21 L564.52 475.47 L564.66 473.71 L564.81 477.27 L564.96 473.34 L565.11 471.55 L565.26 477.72 L565.41 476.51 L565.56 477.01 L565.7 467.68 L565.85 456.42 L566 446.12 L566.14 448.6 L566.29 451.24 L566.44 446.67 L566.58 444.15 L566.73 440.75 L566.87 446.08 L567.02 426.81 L567.17 442.49 L567.31 441.92 L567.46 436.88 L567.6 418.13 L567.74 428.88 L567.89 425.85 L568.03 417.06 L568.17 415.97 L568.32 422.17 L568.46 418.34 L568.6 416.17 L568.74 423.11 L568.89 417.58 L569.03 423.38 L569.17 422.59 L569.32 442.57 L569.46 439.31 L569.6 437.27 L569.75 437.02 L569.89 448.36 L570.04 425.81 L570.18 424.73 L570.33 424.46 L570.47 413.95 L570.62 405.79 L570.77 405.71 L570.91 415.85 L571.06 413.54 L571.21 418.26 L571.35 407.38 L571.5 395.24 L571.65 409.17 L571.79 407.97 L571.94 403.5 L572.08 406.26 L572.23 406.94 L572.38 405.69 L572.52 419.35 L572.67 424.39 L572.82 434.54 L572.96 408.49 L573.11 435.48 L573.25 421.75 L573.4 426.71 L573.55 436.33 L573.69 446.82 L573.84 436.67 L573.99 442.84 L574.13 445.82 L574.28 434.55 L574.43 442.45 L574.57 450.19 L574.72 466.07 L574.86 466.99 L575.01 466.92 L575.16 457.9 L575.3 465.91 L575.45 466.52 L575.6 459.16 L575.74 454.47 L575.89 443.24 L576.04 433 L576.18 452.46 L576.33 435.48 L576.47 436.4 L576.61 410.82 L576.75 408.37 L576.89 422.84 L577.03 422.22 L577.17 410.3 L577.31 412.2 L577.45 395.24 L577.6 385.97 L577.75 386.92 L577.89 392.25 L578.04 379.84 L578.19 379.91 L578.33 382.43 L578.48 374.15 L578.63 380.7 L578.77 373.94 L578.92 371.12 L579.06 371.1 L579.21 368.97 L579.36 375.46 L579.5 366.7 L579.65 371.35 L579.8 361.4 L579.94 364.75 L580.09 359.56 L580.24 360.59 L580.38 359.65 L580.53 372.12 L580.67 364.66 L580.82 365.99 L580.97 362.18 L581.11 362.33 L581.26 364.54 L581.41 362.48 L581.55 362.41 L581.7 362.02 L581.84 362.45 L581.99 360.57 L582.14 362.05 L582.28 360.31 L582.43 363.85 L582.58 364.78 L582.72 367.53 L582.87 362.11 L583.02 367.73 L583.16 361.62 L583.31 361.85 L583.45 359.61 L583.6 359.51 L583.75 363.07 L583.89 367.88 L584.04 368.41 L584.19 361.83 L584.33 371.26 L584.48 372.06 L584.63 363.57 L584.77 361.01 L584.92 364.46 L585.06 376.29 L585.21 369 L585.36 376.07 L585.5 377.54 L585.65 372.7 L585.8 374.54 L585.96 372.94 L586.11 378.28 L586.26 378.39 L586.41 376.36 L586.56 378.68 L586.71 377.16 L586.86 374.62 L587.01 377.54 L587.16 369.23 L587.31 373.79 L587.46 367.62 L587.62 371.16 L587.77 368.89 L587.92 372.71 L588.07 368.49 L588.21 372.56 L588.36 360.8 L588.51 362.33 L588.66 360.39 L588.81 359.88 L588.96 362.6 L589.11 363.95 L589.25 373.61 L589.4 360.56 L589.55 360.3 L589.7 368.55 L589.85 360.31 L590 379.14 L590.14 363.44 L590.28 378.56 L590.43 376 L590.57 371.04 L590.71 372.22 L590.85 366.66 L590.99 363.04 L591.14 371.1 L591.29 371.52 L591.45 369.24 L591.61 367.88 L591.75 375.42 L591.89 374.22 L592.04 380 L592.18 378.39 L592.32 371.91 L592.46 375.72 L592.6 377.67 L592.75 395.24 L592.9 394.74 L593.06 387.3 L593.22 387.19 L593.36 393.2 L593.51 396.46 L593.65 410.83 L593.79 389.89 L593.93 398.56 L594.08 421.79 L594.22 414.72 L594.36 403.97 L594.51 421.8 L594.65 412.02 L594.8 422.87 L594.95 418.75 L595.09 422.92 L595.24 422.09 L595.39 419.27 L595.53 422.44 L595.68 422.41 L595.82 420.58 L595.97 414.49 L596.12 400.07 L596.27 406.12 L596.41 406 L596.56 407.76 L596.71 400.52 L596.86 406.44 L597.01 399.97 L597.16 402.58 L597.31 401.77 L597.45 401.96 L597.6 400.24 L597.75 406.04 L597.9 401.58 L598.05 414.56 L598.19 414.95 L598.33 406.96 L598.48 410.8 L598.62 396.61 L598.76 397.56 L598.91 404.8 L599.05 396.52 L599.19 396.67 L599.34 396.85 L599.48 397.94 L599.63 385.8 L599.78 397.84 L599.92 389.69 L600.07 388.02 L600.21 390.47 L600.36 379.63 L600.51 382.66 L600.65 379.22 L600.8 383.05 L600.95 383.97 L601.09 379.33 L601.24 379.51 L601.39 379.98 L601.54 383.89 L601.69 384.19 L601.84 382.91 L601.99 383.37 L602.13 397.13 L602.28 388.13 L602.43 393.44 L602.58 394.61 L602.73 396.07 L602.88 396.85 L603.03 391.59 L603.18 395.87 L603.33 395.69 L603.48 391.73 L603.63 384.97 L603.78 386.37 L603.93 395.47 L604.08 392 L604.24 387.09 L604.39 387.21 L604.54 394.58 L604.69 395.79 L604.84 385.74 L604.99 384.58 L605.14 388.01 L605.29 385.58 L605.44 384.64 L605.58 388.51 L605.73 389.6 L605.88 398.33 L606.02 406.78 L606.17 390.71 L606.32 395.16 L606.46 394.67 L606.61 411.07 L606.76 404.7 L606.9 419.39 L607.05 420.76 L607.19 418.97 L607.34 426.25 L607.49 432.67 L607.63 427.34 L607.78 437.27 L607.93 437.23 L608.07 428.59 L608.22 431.61 L608.36 454.81 L608.51 455.6 L608.66 451.54 L608.8 452.4 L608.95 442.42 L609.1 438.51 L609.24 442.48 L609.39 450.12 L609.54 424.89 L609.68 437.09 L609.83 434.31 L609.97 401.89 L610.12 422.61 L610.26 422.12 L610.4 398.28 L610.54 410.3 L610.68 400.77 L610.82 388.33 L610.97 395.71 L611.11 392.56 L611.25 387.19 L611.39 387.43 L611.53 380.51 L611.68 371.25 L611.82 368.53 L611.96 373.06 L612.11 371.13 L612.25 363.67 L612.39 370.56 L612.54 361.44 L612.68 366.83 L612.83 360.95 L612.97 361.72 L613.12 366.48 L613.27 364.68 L613.41 366.76 L613.56 370.55 L613.71 370.33 L613.85 359.56 L614 362 L614.14 371.1 L614.29 360.07 L614.44 366.23 L614.59 359.91 L614.74 364.97 L614.89 365.49 L615.04 363.43 L615.18 366.03 L615.33 361.33 L615.48 384.34 L615.63 396.47 L615.78 393.39 L615.93 373.25 L616.08 397.66 L616.22 392.84 L616.37 398.07 L616.52 394.54 L616.66 394.36 L616.81 397.33 L616.95 392.03 L617.1 394.21 L617.25 378.27 L617.39 391.45 L617.54 394.68 L617.69 374.32 L617.84 373.06 L617.99 371.46 L618.13 369.93 L618.28 370.25 L618.43 370.66 L618.58 359.95 L618.73 359.7 L618.88 365.64 L619.03 370.13 L619.18 365.35 L619.33 362.83 L619.48 362.92 L619.63 367.15 L619.78 360.31 L619.93 360.18 L620.08 366.5 L620.23 359.96 L620.38 365.48 L620.53 361.02 L620.68 363.76 L620.84 359.81 L620.99 359.92 L621.14 360.2 L621.29 362.56 L621.44 359.51 L621.59 370 L621.74 369.87 L621.89 361.9 L622.04 371.61 L622.19 371.1 L622.34 371.38 L622.49 362.67 L622.63 370.49 L622.78 370.48 L622.92 363.52 L623.07 370.66 L623.22 362.13 L623.36 360.93 L623.51 360.18 L623.66 362.47 L623.8 364.66 L623.95 369.06 L624.1 364.43 L624.24 379.9 L624.39 382.06 L624.53 385.79 L624.68 392.03 L624.83 386.83 L624.97 389.08 L625.12 392.33 L625.27 388.91 L625.41 391.22 L625.56 391.66 L625.71 387.29 L625.86 391.17 L626.01 387.66 L626.16 389.75 L626.3 384.95 L626.45 385.2 L626.6 390.67 L626.75 392.31 L626.9 385.23 L627.05 376.68 L627.2 372.28 L627.34 371.1 L627.49 377.8 L627.63 377.59 L627.77 365.71 L627.92 360.02 L628.06 362.5 L628.2 359.85 L628.35 365.43 L628.49 359.56 L628.63 360.31 L628.78 363.77 L628.93 362.27 L629.08 362.57 L629.24 363.12 L629.39 361.97 L629.54 363.83 L629.69 360.02 L629.84 362.1 L629.99 365.74 L630.14 361.58 L630.29 363.51 L630.44 359.86 L630.59 365.7 L630.74 360.37 L630.9 363.23 L631.05 364.66 L631.19 362.37 L631.34 368.1 L631.49 374.2 L631.63 373.2 L631.78 360.91 L631.92 362.41 L632.07 362.09 L632.22 360.17 L632.36 364.24 L632.51 372.66 L632.66 375.93 L632.8 378.89 L632.95 375.42 L633.09 381.59 L633.24 375.11 L633.39 386.38 L633.53 377.67 L633.68 378.42 L633.83 381.14 L633.97 378.09 L634.12 383.94 L634.27 392.02 L634.41 393.07 L634.56 389.1 L634.7 387.79 L634.85 392.13 L635 390.83 L635.14 384.27 L635.29 367.9 L635.44 366.68 L635.58 372.12 L635.73 375.53 L635.88 367.88 L636.02 359.8 L636.17 365.17 L636.31 367.77 L636.46 360.67 L636.61 359.75 L636.75 360.64 L636.9 361.02 L637.05 361.47 L637.19 360.37 L637.34 368.82 L637.48 360.31 L637.65 363.22 L637.81 364.31 L637.97 360.97 L638.13 400.77 L638.29 387.19 L638.45 411.91 L638.61 415.03 L638.77 413.47 L638.93 420.37 L639.09 419.39 L639.23 411.37 L639.37 415.24 L639.51 476.57 L639.64 473.32 L639.78 489.14 L639.92 489.32 L640.07 453.27 L640.22 441.92 L640.39 506.24 L640.56 511.05 L640.71 456.47 L640.87 477.33 L641.03 504.01 L641.2 489.26 L641.36 482.32 L641.53 489.32 L641.69 481.13 L641.85 489.59 L642.01 482.21 L642.17 479.66 L642.32 482.76 L642.46 478.19 L642.6 479.54 L642.75 478.8 L642.89 476.78 L643.03 479.81 L643.17 476.02 L643.32 476.5 L643.46 478.05 L643.62 474.3 L643.77 477.38 L643.92 474.11 L644.08 474.88 L644.25 455.67 L644.41 434.82 L644.57 465.96 L644.73 435.48 L644.87 417.09 L645.01 418.08 L645.16 415.43 L645.3 424.2 L645.44 415.67 L645.59 405.67 L645.73 400.98 L645.87 398.64 L646.02 398.46 L646.16 400.72 L646.31 404.82 L646.46 399.55 L646.6 401.58 L646.75 399.2 L646.89 396.99 L647.04 398.67 L647.19 397.25 L647.33 400.15 L647.48 401.05 L647.63 401.68 L647.77 401.34 L647.92 400.9 L648.06 390.39 L648.21 388.66 L648.36 385.56 L648.5 387.75 L648.65 399.94 L648.8 390.22 L648.94 376.12 L649.09 386.91 L649.24 375.93 L649.38 393.08 L649.53 388.92 L649.68 369.54 L649.83 384.37 L649.98 387.16 L650.13 390.95 L650.28 380.93 L650.42 385.38 L650.57 375.88 L650.72 394.33 L650.87 401.67 L651.02 396.56 L651.17 401.68 L651.31 402.88 L651.46 398.99 L651.61 397.71 L651.75 402.37 L651.9 391.2 L652.04 387.07 L652.19 391.18 L652.34 400.29 L652.48 391.02 L652.63 384.31 L652.78 382.36 L652.92 382.98 L653.07 381.86 L653.22 382.44 L653.36 382.32 L653.51 377.76 L653.65 375.58 L653.8 379.28 L653.95 378.93 L654.09 375.3 L654.24 366.9 L654.39 364.66 L654.53 379.47 L654.68 361.84 L654.83 365.84 L654.97 365.69 L655.12 363.63 L655.26 362.85 L655.41 361.93 L655.56 361.66 L655.7 362.59 L655.85 363.92 L656 360.31 L656.14 372.29 L656.29 369.77 L656.43 368.51 L656.58 367.48 L656.73 365.54 L656.87 370.47 L657.02 360.53 L657.17 366.95 L657.31 367.34 L657.46 368.74 L657.61 371.1 L657.75 368.6 L657.89 377.03 L658.03 380.01 L658.18 381.93 L658.32 372.65 L658.46 384.96 L658.61 396.43 L658.75 405.48 L658.89 395.24 L659.03 386.22 L659.18 390.8 L659.32 407.64 L659.46 399.9 L659.6 414.99 L659.74 415.86 L659.88 414.3 L660.02 418.58 L660.17 415.85 L660.31 418.05 L660.46 417.69 L660.61 406.29 L660.75 417.57 L660.9 400.71 L661.04 403.15 L661.19 396.48 L661.34 408.68 L661.48 384.34 L661.63 387.19 L661.78 382.12 L661.92 383.09 L662.07 380.93 L662.22 388.38 L662.36 382.27 L662.51 361.29 L662.65 370.11 L662.8 363.24 L662.95 364.18 L663.09 359.69 L663.24 367.88 L663.39 361.19 L663.53 367.32 L663.68 365.43 L663.82 365.6 L663.97 365.76 L664.12 369.03 L664.26 364.13 L664.41 359.64 L664.56 365.58 L664.7 368.41 L664.85 360.31 L665 365.72 L665.14 366.61 L665.29 359.59 L665.43 362.27 L665.58 373.88 L665.73 382.13 L665.87 367.08 L666.02 360.07 L666.17 383.31 L666.31 393.65 L666.46 387.19 L666.6 399.27 L666.74 390.18 L666.88 403.02 L667.02 409.03 L667.16 396.38 L667.3 409.05 L667.44 409.93 L667.59 411.34 L667.73 411.64 L667.87 412.12 L668.01 418.52 L668.16 419.05 L668.3 421.07 L668.44 419.68 L668.59 414.32 L668.73 421.26 L668.87 421.8 L669.02 422.29 L669.17 409.35 L669.31 418.48 L669.46 409.75 L669.6 410.68 L669.75 421.39 L669.9 410.56 L670.04 396.69 L670.19 407.35 L670.34 379.4 L670.48 387.19 L670.63 400.5 L670.77 384.04 L670.91 370.17 L671.06 382.85 L671.2 375.14 L671.34 362.81 L671.48 361 L671.63 359.53 L671.77 367.88 L671.91 368.08 L672.05 373.37 L672.19 385.06 L672.33 392.83 L672.47 390.18 L672.62 382.16 L672.76 385.69 L672.9 392.02 L673.04 394.5 L673.18 415 L673.32 393.07 L673.46 407.36 L673.6 435.35 L673.74 441.43 L673.88 424.22 L674.02 442.73 L674.17 411.8 L674.32 428.99 L674.46 406.95 L674.61 414.14 L674.76 420.02 L674.9 402.07 L675.05 404.02 L675.19 411.47 L675.34 407.4 L675.49 402.22 L675.63 393.63 L675.78 401.04 L675.92 397.96 L676.06 401.62 L676.21 404.33 L676.35 398.61 L676.49 404.13 L676.64 404.73 L676.78 406.74 L676.92 403.29 L677.07 406.36 L677.21 409.9 L677.36 405.96 L677.51 428.47 L677.65 420.12 L677.8 419.39 L677.95 423.08 L678.09 435.48 L678.24 427.12 L678.38 436.96 L678.53 435.48 L678.68 431.7 L678.82 442.51 L678.97 436.78 L679.12 446.87 L679.26 445.29 L679.41 441.91 L679.56 435.57 L679.7 445.23 L679.85 434.46 L679.99 438.52 L680.14 448.36 L680.29 435.07 L680.43 440.28 L680.58 434.75 L680.73 448.65 L680.87 443.35 L681.02 437.4 L681.17 446.44 L681.31 438.68 L681.46 441.18 L681.6 441.85 L681.75 435.48 L681.89 441.49 L682.04 441.27 L682.18 444.72 L682.32 447.85 L682.47 438.28 L682.61 442.12 L682.75 451.3 L682.9 456.21 L683.04 459.63 L683.19 447.68 L683.34 452.08 L683.48 455.41 L683.63 439.88 L683.78 446.81 L683.93 457.67 L684.08 431.17 L684.23 436.33 L684.38 441.33 L684.52 439.56 L684.67 432.06 L684.82 432.09 L684.97 432.26 L685.12 432.61 L685.26 433.18 L685.41 432.8 L685.56 433.12 L685.7 430.55 L685.85 427.77 L685.99 425.04 L686.14 428.18 L686.29 418.13 L686.43 419.41 L686.58 419.39 L686.73 412.37 L686.88 424.45 L687.03 397.56 L687.17 396.15 L687.32 411.06 L687.47 408.62 L687.62 394.57 L687.77 394.75 L687.92 396.99 L688.07 393.35 L688.21 391.72 L688.36 399.24 L688.51 387.19 L688.66 398.71 L688.81 401.19 L688.96 378.43 L689.11 383.66 L689.26 372.48 L689.41 384.62 L689.56 383.43 L689.71 372.49 L689.86 372.1 L690.01 360.83 L690.16 360.17 L690.3 365.21 L690.45 359.62 L690.6 363.05 L690.74 362.49 L690.89 365.46 L691.03 364.59 L691.17 372.14 L691.31 389.98 L691.45 394.75 L691.59 382.98 L691.73 395.24 L691.87 406.35 L692.02 384.98 L692.16 420.78 L692.3 428.67 L692.45 432.11 L692.59 430.15 L692.73 456.2 L692.88 453.3 L693.02 460.43 L693.17 444.75 L693.32 455.01 L693.47 458.56 L693.62 451.89 L693.77 458.48 L693.92 446.2 L694.07 451.4 L694.23 446.41 L694.38 445.25 L694.53 450.35 L694.68 449.42 L694.83 447.14 L694.98 445.55 L695.13 447.39 L695.28 446.16 L695.43 448.36 L695.58 449.49 L695.73 448.35 L695.87 444.44 L696.02 445.79 L696.16 448.2 L696.31 445.05 L696.46 447.06 L696.6 437.47 L696.75 445.92 L696.9 443.67 L697.04 432.26 L697.19 440.34 L697.33 431.98 L697.48 429.51 L697.63 423.31 L697.77 424.18 L697.92 419.15 L698.07 415.93 L698.21 417.31 L698.36 408.31 L698.51 416.03 L698.65 419.39 L698.8 414.13 L698.94 418.08 L699.09 418.5 L699.24 416.02 L699.38 420.57 L699.53 416.61 L699.68 408.76 L699.82 402.01 L699.97 416.02 L700.12 419.21 L700.26 400.88 L700.41 405.24 L700.55 402.66 L700.7 407.11 L700.85 419.53 L700.99 413.39 L701.14 412.04 L701.29 416.11 L701.43 418.5 L701.58 413.27 L701.72 412.13 L701.87 419.39 L702.02 415.3 L702.16 418.42 L702.31 415.82 L702.46 414.41 L702.6 422.38 L702.75 427.33 L702.9 419.21 L703.04 419.66 L703.19 422.09 L703.33 437.76 L703.48 437.9 L703.62 429.97 L703.76 421.96 L703.9 417.49 L704.04 417.36 L704.19 425.02 L704.33 415.9 L704.47 397.84 L704.61 411.34 L704.75 411.16 L704.9 410.3 L705.05 399.9 L705.19 398.82 L705.34 393.34 L705.49 393.98 L705.63 393.98 L705.78 396.54 L705.92 394.37 L706.07 391.28 L706.22 394.44 L706.37 394.4 L706.52 389.53 L706.67 394.76 L706.82 390.32 L706.96 392.65 L707.11 392.68 L707.26 396.04 L707.41 394.27 L707.56 399.45 L707.71 394.89 L707.86 393.87 L708.01 403.85 L708.16 397.3 L708.31 401.68 L708.46 405.21 L708.6 401.88 L708.75 403.78 L708.9 405.04 L709.04 405.91 L709.19 406.9 L709.33 405.31 L709.48 404.78 L709.63 404.13 L709.77 406.54 L709.92 406.51 L710.07 407.79 L710.21 408.03 L710.36 405.74 L710.5 409.13 L710.65 412.05 L710.8 408.39 L710.94 407.41 L711.09 408.89 L711.24 410.68 L711.38 410.98 L711.53 414.56 L711.68 414.66 L711.82 415.15 L711.97 412.08 L712.11 414.77 L712.26 417.24 L712.41 414.05 L712.55 420.67 L712.7 419.19 L712.85 415.78 L712.99 419.73 L713.14 429.04 L713.28 444.38 L713.42 455.63 L713.56 433.34 L713.7 444.02 L713.84 443.19 L713.98 455.73 L714.12 449.37 L714.27 455.6 L714.41 446.02 L714.56 446.55 L714.7 437.33 L714.85 441.49 L715 449.85 L715.14 452.32 L715.29 437.15 L715.44 444.1 L715.58 425.33 L715.73 441.36 L715.88 432.26 L716.02 423.59 L716.17 424.3 L716.31 419.32 L716.46 422.15 L716.61 419.24 L716.75 417.22 L716.9 419.1 L717.05 422.02 L717.19 417.35 L717.34 415.58 L717.48 419.39 L717.63 407.24 L717.77 420.15 L717.91 403.29 L718.06 408.79 L718.2 405.51 L718.34 410.55 L718.49 409.86 L718.63 396.25 L718.77 396.85 L718.92 399.87 L719.07 393.74 L719.21 393.7 L719.36 395.7 L719.5 395.41 L719.65 393.63 L719.8 401.2 L719.94 408.06 L720.09 408.12 L720.24 403.81 L720.38 408.12 L720.53 399.4 L720.67 407.88 L720.82 401.32 L720.97 399.81 L721.11 403.31 L721.26 399.63 L721.41 390.91 L721.55 395.14 L721.7 391.92 L721.85 392.41 L721.99 392.02 L722.14 402.17 L722.29 405.35 L722.44 401.41 L722.59 404.4 L722.73 393.98 L722.88 393.88 L723.03 405.92 L723.18 399.47 L723.33 404.32 L723.48 407.68 L723.63 407.38 L723.77 412.17 L723.92 412.95 L724.07 409.66 L724.21 401.85 L724.35 405.51 L724.5 398.91 L724.64 408.34 L724.78 402.96 L724.93 399.05 L725.07 399.74 L725.21 400.07 L725.36 396.28 L725.5 396.19 L725.65 396.65 L725.8 394.65 L725.94 397.84 L726.09 396.62 L726.24 396.47 L726.38 390.05 L726.53 387.49 L726.67 389.63 L726.82 387.19 L726.97 377.42 L727.11 375.28 L727.26 386.7 L727.41 381.06 L727.55 378.86 L727.7 376.05 L727.85 375.37 L727.99 379.59 L728.14 382.71 L728.28 376.95 L728.43 375.93 L728.58 382.22 L728.72 381.83 L728.87 360.17 L729.02 375.43 L729.16 359.59 L729.31 362.61 L729.45 374.52 L729.6 361.78 L729.75 374.05 L729.89 372.15 L730.04 364.66 L730.18 363.03 L730.33 371.05 L730.47 365.81 L730.61 363.08 L730.76 362.64 L730.9 360.4 L731.04 360.46 L731.18 360.95 L731.33 360.31 L731.48 362.55 L731.63 359.69 L731.77 373.26 L731.92 376.35 L732.07 373.45 L732.22 374.49 L732.37 375.22 L732.52 378.29 L732.67 373.84 L732.81 384.87 L732.96 372.4 L733.11 382.42 L733.26 387.19 L733.41 376.8 L733.55 378.57 L733.7 380.76 L733.84 386.89 L733.99 384.09 L734.14 388.18 L734.28 381.69 L734.43 388.36 L734.58 368.98 L734.72 385.87 L734.87 367.88 L735.02 373.86 L735.17 368.07 L735.31 365.51 L735.46 367.39 L735.61 368.67 L735.76 361.45 L735.91 362.39 L736.06 366.17 L736.21 363.4 L736.36 362.11 L736.5 360.45 L736.65 359.78 L736.8 360.31 L736.95 380.23 L737.09 388.82 L737.24 391.45 L737.39 392.07 L737.53 396.09 L737.68 381.52 L737.83 387.84 L737.97 393.54 L738.12 395.99 L738.26 394.8 L738.41 395.24 L738.55 388.16 L738.7 395.7 L738.84 389 L738.99 391.87 L739.13 385.61 L739.28 380.17 L739.42 380.75 L739.57 380.62 L739.71 376.58 L739.86 379.62 L740 374.3 L740.14 400.31 L740.29 391.22 L740.43 379.39 L740.58 387 L740.72 388.1 L740.87 397.76 L741.01 400.61 L741.16 400.63 L741.3 416.2 L741.46 398.38 L741.61 396.71 L741.77 413.92 L741.93 403.91 L742.09 400.66 L742.24 395.88 L742.4 396.9 L742.55 395.53 L742.69 399.88 L742.84 399.59 L742.98 409.07 L743.13 409.71 L743.27 415.05 L743.42 415.93 L743.56 412.33 L743.71 410.2 L743.85 431.67 L744 419.4 L744.15 439.57 L744.3 412.11 L744.45 437.56 L744.6 426.78 L744.75 432.7 L744.9 430.69 L745.05 444.74 L745.2 451.6 L745.35 460.08 L745.5 453.03 L745.65 479.86 L745.8 456.62 L745.95 475.19 L746.1 481.42 L746.25 470.86 L746.4 483 L746.55 490.14 L746.7 484.76 L746.85 489.83 L747 485.34 L747.15 485.04 L747.3 494 L747.46 494.08 L747.61 492.99 L747.77 510.69 L747.93 512.1 L748.09 499.42 L748.24 505.73 L748.4 513.5 L748.55 496.77 L748.7 502.04 L748.85 510.1 L749 495.26 L749.15 495.68 L749.3 490 L749.45 470.1 L749.6 489.46 L749.75 487.69 L749.9 462.26 L750.05 454.26 L750.2 457.39 L750.35 455.9 L750.5 450 L750.66 455.51 L750.81 452.08 L750.97 449.59 L751.13 455.78 L751.29 468.63 L751.44 466.41 L751.6 469 L751.74 489.89 L751.89 479.55 L752.03 469.79 L752.18 482.5 L752.32 485.88 L752.47 485.48 L752.61 487.37 L752.76 488.51 L752.9 490.2 L753.04 494.6 L753.18 497.89 L753.32 502.92 L753.46 505.62 L753.6 502.3 L753.77 534.78 L753.93 500.36 L754.1 540 L754.23 540.95 L754.37 529.5 L754.5 565 L754.67 548.37 L754.83 541.33 L755 545 L755.13 545.52 L755.27 546.68 L755.4 518 L755.57 532.44 L755.73 520.92 L755.9 540 L756.03 529.71 L756.17 538.63 L756.3 515 L756.47 522.68 L756.63 524.66 L756.8 538 L756.97 526.61 L757.13 530.01 L757.3 512 L757.47 527.66 L757.63 513.35 L757.8 542 L757.97 533.85 L758.13 536.04 L758.3 515 L758.47 519.72 L758.63 530.57 L758.8 540 L758.97 540.7 L759.13 541.15 L759.3 518 L759.43 536.76 L759.57 526.38 L759.7 540 L759.85 539.73 L760 520.4 L760.2 500.2 L760.34 532 L760.49 489.41 L760.63 495.81 L760.77 492.59 L760.91 490.01 L761.06 484.18 L761.2 488.2 L761.34 478.82 L761.49 488.14 L761.63 466.99 L761.77 481.28 L761.91 476.42 L762.06 468.63 L762.2 465 L762.36 470.88 L762.51 473.75 L762.67 459.06 L762.83 457.96 L762.99 444.71 L763.14 447.18 L763.3 441.9 L763.45 459.5 L763.6 456 L763.75 446.8 L763.9 467.89 L764.05 457.52 L764.2 460 L764.34 466.87 L764.49 481.24 L764.63 463.53 L764.77 476.26 L764.91 480.87 L765.06 479.84 L765.2 480.1 L765.36 495.36 L765.52 495.55 L765.68 505.31 L765.84 506.12 L766 506.3 L766.15 487.58 L766.3 500.06 L766.45 496.49 L766.6 507.01 L766.75 484.73 L766.9 481.25 L767.05 505.09 L767.2 485.2 L767.37 469.17 L767.53 471.9 L767.7 468 L767.85 473.17 L768 471.31 L768.15 466.56 L768.3 464.21 L768.45 464.1 L768.6 465.88 L768.75 462.79 L768.9 465.64 L769.05 466.96 L769.2 463 L769.35 461.36 L769.5 458.98 L769.65 459.47 L769.8 464.87 L769.95 461.21 L770.1 464.73 L770.25 460.34 L770.4 459.43 L770.55 462.12 L770.7 464 L770.87 472.43 L771.03 482.6 L771.2 480 L771.36 470.44 L771.51 475.46 L771.67 493.06 L771.83 498.51 L771.99 492.13 L772.14 496.74 L772.3 500.2 L772.44 496.76 L772.59 500.67 L772.73 504.36 L772.87 504.43 L773.01 506.48 L773.16 517.5 L773.3 522.4 L773.45 510.1 L773.6 526.32 L773.75 530.79 L773.9 528.07 L774.05 533.33 L774.2 526.11 L774.35 527.26 L774.5 527.3 L774.65 527.88 L774.8 532.4 L774.96 543.54 L775.11 532.1 L775.27 542.69 L775.43 540.45 L775.59 542.2 L775.74 539.55 L775.9 542.4 L776.06 540.51 L776.21 542.29 L776.37 549.69 L776.53 548.74 L776.69 564.48 L776.84 563.11 L777 563.4 L777.14 563.89 L777.29 558.48 L777.43 570.44 L777.57 570.24 L777.71 571.58 L777.86 575.84 L778 574.6 L778.16 576.08 L778.31 577.83 L778.47 576.15 L778.62 579.69 L778.78 576.93 L778.93 582.88 L779.09 580.64 L779.24 578.68 L779.4 584.3 L779.54 577.42 L779.69 563.27 L779.83 574.59 L779.98 569.4 L780.12 567.83 L780.27 579.76 L780.41 574.73 L780.56 553.55 L780.7 563.4 L780.87 552.51 L781.03 532.45 L781.2 534.4 L781.35 529.53 L781.5 528.03 L781.65 529.82 L781.8 528 L781.97 505.89 L782.13 524.7 L782.3 505 L782.47 508.51 L782.63 498.5 L782.8 525 L782.97 521.85 L783.13 498.13 L783.3 498 L783.47 495.21 L783.63 490.02 L783.8 518 L783.95 512.06 L784.1 490 L784.23 510.21 L784.37 476.33 L784.5 500 L784.65 491.24 L784.8 474 L784.97 500 L785.13 486.79 L785.3 492 L785.43 483.38 L785.57 501.15 L785.7 480 L785.87 482.06 L786.03 497.01 L786.2 500 L786.37 497.09 L786.53 500.08 L786.7 486 L786.87 503.79 L787.03 486.13 L787.2 510 L787.37 507.28 L787.53 498.23 L787.7 495 L787.87 516.3 L788.03 501.89 L788.2 520 L788.33 506.37 L788.47 523.12 L788.6 505 L788.75 528.87 L788.9 530.36 L789.05 509.93 L789.2 532 L789.34 533.78 L789.48 532.78 L789.62 534.69 L789.76 542.33 L789.9 541.6 L790.05 542.5 L790.2 536.29 L790.35 541.59 L790.5 540.13 L790.65 534.33 L790.8 539.25 L790.95 531.73 L791.1 538.22 L791.25 531.73 L791.4 530.4 L791.57 509.99 L791.73 506.69 L791.9 500.2 L792.04 501.57 L792.19 503.33 L792.33 494.58 L792.47 495.28 L792.61 495.31 L792.76 487.85 L792.9 492.2 L793.04 494 L793.19 492.12 L793.33 491.12 L793.47 487.02 L793.61 486.45 L793.76 481.37 L793.9 475.1 L794.04 471.74 L794.18 469.64 L794.32 475.96 L794.46 460.57 L794.6 467 L794.75 462 L794.9 470.21 L795.05 461.59 L795.2 453.13 L795.35 435.08 L795.5 435.5 L795.66 424.42 L795.82 421.85 L795.98 424.66 L796.14 419.12 L796.3 403.3 L796.45 408.14 L796.59 398.99 L796.74 402.99 L796.89 400.16 L797.04 400.24 L797.18 400.37 L797.33 397.29 L797.48 399.16 L797.63 398.46 L797.77 404.53 L797.91 417.1 L798.05 405.67 L798.19 434.97 L798.33 426.44 L798.47 415.94 L798.61 426.6 L798.75 433.87 L798.89 424.39 L799.03 426.43 L799.18 425.02 L799.32 425.78 L799.46 415.51 L799.6 397.32 L799.74 404.61 L799.88 403.29 L800.02 391.59 L800.17 386.56 L800.31 387.47 L800.45 392.71 L800.59 399.15 L800.74 389.92 L800.88 379.61 L801.02 385.32 L801.17 380.75 L801.31 381.78 L801.45 392.17 L801.6 393.85 L801.74 384.83 L801.88 392.7 L802.03 390.7 L802.17 394.73 L802.31 388.62 L802.45 393.63 L802.6 393.6 L802.74 393.63 L802.88 386.01 L803.02 374.12 L803.16 378.4 L803.3 384.23 L803.44 384.67 L803.58 362.24 L803.73 369.23 L803.87 372.33 L804.02 360.76 L804.17 362.54 L804.31 363.05 L804.46 363.4 L804.61 360.16 L804.75 362.98 L804.9 359.52 L805.04 366.81 L805.19 360.31 L805.33 371.93 L805.47 368 L805.61 363.83 L805.75 364.21 L805.9 368.98 L806.04 375.71 L806.18 378.83 L806.32 380.75 L806.46 381.32 L806.6 393.1 L806.75 393.87 L806.89 388.19 L807.03 387.25 L807.18 395.13 L807.32 395.41 L807.46 398.89 L807.61 395.24 L807.75 395.95 L807.89 401.37 L808.03 397.87 L808.18 395.9 L808.32 407.41 L808.46 404.65 L808.61 397.99 L808.75 406.92 L808.89 415.36 L809.03 412.23 L809.18 389.51 L809.32 401.27 L809.46 380.18 L809.6 398.72 L809.74 400.82 L809.88 386.08 L810.02 379.14 L810.17 378.11 L810.31 392.44 L810.46 390.31 L810.61 393.51 L810.75 388.7 L810.9 391.51 L811.04 388.96 L811.19 395.43 L811.34 393.83 L811.48 398.9 L811.63 400.07 L811.78 389.73 L811.92 396.38 L812.07 399.06 L812.22 383.37 L812.36 387.13 L812.51 373.26 L812.65 382.23 L812.8 385.28 L812.95 375.83 L813.09 361.69 L813.24 371.1 L813.39 373.07 L813.53 366.79 L813.68 368.85 L813.82 361.91 L813.97 360.11 L814.12 360.34 L814.26 360.61 L814.41 360.43 L814.56 361.3 L814.7 361.54 L814.85 360.31 L815 359.88 L815.15 360.16 L815.3 362.53 L815.45 360.06 L815.6 360.46 L815.75 359.77 L815.9 362.97 L816.04 362.33 L816.19 360.41 L816.34 360.02 L816.49 360.21 L816.64 360.6 L816.79 360.12 L816.94 362.24 L817.08 368.45 L817.22 371.88 L817.36 363.85 L817.51 382.52 L817.65 369.07 L817.79 365.08 L817.93 379.87 L818.07 388.8 L818.21 391.01 L818.35 389.9 L818.49 389.17 L818.63 387.62 L818.77 404.85 L818.91 387.7 L819.05 391.39 L819.2 404.9 L819.34 396 L819.48 404.76 L819.62 379.01 L819.77 372.87 L819.91 375.88 L820.05 374.22 L820.2 372.15 L820.34 369.27 L820.48 372.71 L820.63 364.24 L820.78 375.46 L820.94 373 L821.09 371.6 L821.24 362.22 L821.39 367.08 L821.54 366.12 L821.69 362.81 L821.84 363.41 L821.99 369.2 L822.14 369.52 L822.29 360.32 L822.44 359.57 L822.6 372.86 L822.75 376.15 L822.9 372.71 L823.04 384.03 L823.19 373.8 L823.34 384.56 L823.48 384.75 L823.63 375.13 L823.78 381.48 L823.92 387.46 L824.07 374.91 L824.21 377.11 L824.36 378.87 L824.51 392.02 L824.65 392.35 L824.8 389.91 L824.95 390.53 L825.09 386.78 L825.24 396.61 L825.39 392.82 L825.53 400.45 L825.68 411.01 L825.82 399.28 L825.97 400.23 L826.12 414.56 L826.26 403.55 L826.41 401.43 L826.56 413.39 L826.7 388.91 L826.85 396.56 L826.99 387.82 L827.14 398.62 L827.29 392.31 L827.43 397.96 L827.58 391.99 L827.73 388.8 L827.87 393.7 L828.02 395.31 L828.17 394.19 L828.31 397.9 L828.46 408.74 L828.6 407.14 L828.75 402.96 L828.9 396.66 L829.04 414.74 L829.19 405.85 L829.34 419.39 L829.48 416.25 L829.62 418.52 L829.76 424.95 L829.9 419.53 L830.04 420.22 L830.18 435.12 L830.32 437.02 L830.46 437.09 L830.61 430.24 L830.76 437 L830.9 436.6 L831.05 436.18 L831.19 432.78 L831.34 429.27 L831.49 427.07 L831.63 427.19 L831.78 429.09 L831.93 431.22 L832.07 430.65 L832.22 431.02 L832.36 430.32 L832.5 424.67 L832.64 428.82 L832.79 428.59 L832.93 425.77 L833.07 427.77 L833.22 428.57 L833.36 421 L833.51 423.2 L833.65 423.5 L833.8 431.7 L833.95 427.36 L834.09 426.63 L834.24 433.5 L834.38 434.27 L834.53 434.24 L834.68 442.12 L834.82 437.49 L834.97 435.48 L835.13 441.7 L835.29 437.77 L835.45 434.82 L835.61 451.9 L835.77 454.8 L835.92 430.5 L836.07 420.83 L836.21 437.8 L836.36 436.47 L836.51 427.67 L836.65 428.37 L836.8 427.06 L836.95 417.75 L837.09 412.06 L837.24 411.81 L837.38 419.39 L837.53 416.03 L837.68 415.17 L837.82 412.44 L837.97 395.58 L838.12 406.85 L838.26 401.74 L838.41 407.62 L838.55 399.8 L838.7 396.79 L838.85 396.64 L838.99 393.63 L839.14 402.36 L839.29 395.59 L839.43 408.15 L839.58 405.08 L839.73 401.23 L839.87 418.61 L840.02 408.34 L840.16 406.11 L840.31 411.12 L840.46 408.77 L840.6 417.78 L840.75 415.93 L840.9 405.16 L841.04 385.6 L841.19 388.52 L841.34 394.22 L841.48 371.56 L841.63 394.09 L841.77 373.35 L841.92 380.78 L842.07 371.23 L842.21 368.68 L842.36 367.61 L842.51 369.32 L842.66 359.72 L842.81 359.77 L842.96 361.67 L843.11 360.73 L843.26 360.43 L843.41 361.35 L843.56 364.63 L843.71 364.33 L843.86 368.78 L844.01 364.11 L844.16 372.32 L844.31 369.49 L844.45 371.79 L844.59 374.82 L844.73 370.79 L844.87 381.54 L845.01 382.06 L845.15 375.73 L845.29 379.91 L845.43 385.58 L845.58 386.26 L845.73 394.01 L845.87 389.03 L846.02 387.41 L846.16 394.8 L846.31 394.39 L846.46 390.25 L846.6 390.78 L846.75 396.23 L846.9 394.25 L847.04 395.24 L847.19 392.33 L847.33 391.18 L847.48 391.38 L847.63 395.43 L847.77 396.32 L847.92 408.2 L848.07 414.24 L848.21 415.92 L848.36 396.79 L848.51 395.91 L848.65 421.8 L848.8 422.19 L848.94 417.52 L849.09 417.64 L849.24 420.24 L849.38 419.33 L849.53 417.11 L849.68 417.3 L849.82 416.36 L849.97 412.42 L850.12 411.47 L850.26 416.17 L850.4 412.81 L850.54 410.5 L850.68 400.21 L850.82 415.66 L850.97 415.85 L851.11 398.15 L851.25 393.94 L851.39 395.24 L851.53 396.6 L851.67 392.61 L851.82 389.27 L851.96 384.12 L852.1 386.59 L852.25 386.82 L852.39 379.96 L852.53 385.09 L852.68 375.93 L852.82 368.74 L852.97 368.04 L853.12 376.34 L853.26 365.59 L853.41 360.34 L853.55 375.56 L853.7 364.74 L853.85 360.92 L853.99 360.49 L854.14 361.05 L854.29 361.44 L854.43 360.52 L854.58 360.96 L854.72 361.58 L854.87 360 L855.02 361.69 L855.16 362.27 L855.31 359.58 L855.46 360.01 L855.6 362.16 L855.75 361.88 L855.9 360.31 L856.04 359.69 L856.19 359.92 L856.33 360.39 L856.48 360.21 L856.63 360.68 L856.77 359.95 L856.92 359.81 L857.07 359.53 L857.21 359.75 L857.36 360.19 L857.51 360.31 L857.65 360.22 L857.8 359.5 L857.94 360.03 L858.09 359.5 L858.24 360.8 L858.38 363.83 L858.53 366.87 L858.68 374.64 L858.82 382.32 L858.97 374.45 L859.11 375.93 L859.27 382.95 L859.42 379 L859.58 376.26 L859.73 381.07 L859.88 395.88 L860.04 385.87 L860.19 390.18 L860.35 390.6 L860.5 395 L860.65 392.35 L860.8 395.01 L860.95 399.22 L861.1 411.91 L861.25 416.48 L861.4 414.93 L861.55 411.33 L861.7 424.5 L861.86 409.11 L862.01 411.13 L862.17 410.92 L862.33 410.87 L862.49 401.89 L862.64 395.58 L862.8 405 L862.96 403.88 L863.12 397.02 L863.28 401.26 L863.44 390.56 L863.6 388.8 L863.76 402.4 L863.91 395.73 L864.07 389.48 L864.23 404.38 L864.39 399.97 L864.54 400.96 L864.7 403.3 L864.85 400.76 L865.01 390.22 L865.16 399.79 L865.32 384.44 L865.47 385.05 L865.63 401.51 L865.78 402.94 L865.94 392.46 L866.09 394.33 L866.25 385.89 L866.4 383.2 L866.55 422.16 L866.7 399.16 L866.85 429.13 L867 430.2 L867.14 452.66 L867.28 431.32 L867.42 438.03 L867.56 453.99 L867.7 455.3 L867.84 455.13 L867.98 443.33 L868.12 443.99 L868.26 444.29 L868.4 440.2 L868.56 434.14 L868.72 434.52 L868.88 434.2 L869.04 436.75 L869.2 429.2 L869.34 430 L869.49 430.17 L869.63 430.96 L869.77 430.11 L869.91 430.53 L870.06 436.32 L870.2 435.2 L870.34 437.4 L870.49 436 L870.63 434.54 L870.77 446.31 L870.91 434.26 L871.06 451.51 L871.2 448.3 L871.35 445.8 L871.5 447.49 L871.65 454.19 L871.8 451.56 L871.95 457.02 L872.1 451.55 L872.25 457 L872.4 452.12 L872.55 456.3 L872.7 456.3 L872.85 453.18 L873 456.36 L873.15 453.45 L873.3 451.14 L873.45 455.35 L873.6 448.98 L873.75 452.46 L873.9 455.08 L874.05 445.33 L874.2 446.3 L874.34 455.64 L874.49 455.06 L874.63 448.22 L874.77 455.1 L874.91 446.54 L875.06 458.46 L875.2 460.4 L875.35 456.69 L875.5 454.57 L875.65 449 L875.8 460.8 L875.95 460.19 L876.1 459.11 L876.25 441.32 L876.4 441.85 L876.55 447.21 L876.7 437.2 L876.84 439.39 L876.99 443.99 L877.13 437.01 L877.27 471.28 L877.41 451.63 L877.56 456.86 L877.7 471.4 L877.84 460.6 L877.99 451.76 L878.13 463.57 L878.27 461.69 L878.41 459.98 L878.56 455.22 L878.7 454.3 L878.84 453.24 L878.99 453.94 L879.13 454.22 L879.27 445.01 L879.41 446.38 L879.56 439.6 L879.7 438.2 L879.84 444.15 L879.99 438.09 L880.13 441.16 L880.27 440.16 L880.41 438.38 L880.56 443.33 L880.7 445.3 L880.86 441.35 L881.01 441.55 L881.17 445.1 L881.33 446.56 L881.49 451.19 L881.64 455.78 L881.8 450.3 L881.94 450.57 L882.09 453.19 L882.23 453.7 L882.37 453.95 L882.51 455.19 L882.66 455.75 L882.8 459.4 L882.94 453.27 L883.09 453.83 L883.23 458.7 L883.37 449.16 L883.51 453.58 L883.66 448.24 L883.8 448.3 L883.94 448.22 L884.09 450.17 L884.23 444.08 L884.37 432.29 L884.51 440.93 L884.66 422.27 L884.8 430.2 L884.93 422.14 L885.07 431.76 L885.2 405.3 L885.37 403.4 L885.53 395.03 L885.7 375.1 L885.84 359.78 L885.98 378.18 L886.12 366.38 L886.26 361.72 L886.4 360 L886.54 362.21 L886.69 359.51 L886.83 361.15 L886.98 362.48 L887.12 363.54 L887.27 362.32 L887.41 364.97 L887.56 373.16 L887.7 365.1 L887.84 368.17 L887.99 381.11 L888.13 383.24 L888.27 387.24 L888.41 383.66 L888.56 396.14 L888.7 396.2 L888.84 386.85 L888.99 396.09 L889.13 393.14 L889.27 391.92 L889.41 391.87 L889.56 383.72 L889.7 380.2 L889.84 381.83 L889.99 381.71 L890.13 380.19 L890.27 365.65 L890.41 365.6 L890.56 361.66 L890.7 361 L890.84 361.76 L890.99 362.13 L891.13 359.92 L891.28 361.92 L891.42 359.69 L891.57 360.37 L891.71 364.82 L891.86 367.41 L892 360 L892.15 366.04 L892.3 373.17 L892.45 395.75 L892.6 377.18 L892.75 387.85 L892.9 378.68 L893.05 396.49 L893.2 398.3 L893.34 389.98 L893.49 391.45 L893.63 389.47 L893.77 390.58 L893.91 382.18 L894.06 398.45 L894.2 375.1 L894.34 378.08 L894.49 367.9 L894.63 360.91 L894.77 369.09 L894.91 359.91 L895.06 359.66 L895.2 360.5 L895.35 360.07 L895.5 359.82 L895.65 360.98 L895.8 359.52 L895.95 360.38 L896.1 360.41 L896.25 362.67 L896.4 360.14 L896.55 367.99 L896.7 365.1 L896.84 383.77 L896.99 369.24 L897.13 384.58 L897.27 375.39 L897.41 385.31 L897.56 382.26 L897.7 385.2 L897.84 380.43 L897.99 383.92 L898.13 381.18 L898.27 384.94 L898.41 384.9 L898.56 382.22 L898.7 380.2 L898.84 386.77 L898.99 393.96 L899.13 384.75 L899.27 412.36 L899.41 382.64 L899.56 413.58 L899.7 415.4 L899.84 400.82 L899.99 427.71 L900.13 427.38 L900.27 425.14 L900.41 421.07 L900.56 426.82 L900.7 429.4 L900.86 421.8 L901.01 427.29 L901.17 421.77 L901.33 408.62 L901.49 414.34 L901.64 408.09 L901.8 405.3 L901.94 413.24 L902.09 409.21 L902.23 401.92 L902.37 387.98 L902.51 402.23 L902.66 385.37 L902.8 385.2 L902.95 376.24 L903.1 390.76 L903.25 374.37 L903.4 378.36 L903.55 374.86 L903.7 372.63 L903.85 366.03 L904 364.78 L904.15 359.63 L904.3 365.1 L904.45 365.09 L904.6 369.65 L904.75 359.66 L904.9 359.84 L905.05 362.51 L905.2 360.13 L905.35 362.82 L905.5 360 L905.64 360.03 L905.79 360.65 L905.93 360 L906.08 360.78 L906.22 360.64 L906.37 360.11 L906.51 364.72 L906.66 366.54 L906.8 361 L906.94 359.73 L907.09 360.94 L907.23 362.37 L907.37 359.51 L907.51 374.48 L907.66 364.64 L907.8 375.1 L907.95 362.63 L908.1 375.41 L908.25 385.21 L908.4 383.66 L908.55 374.73 L908.7 374.24 L908.85 395.78 L909 396.48 L909.15 392.12 L909.3 395.2 L909.47 396.21 L909.63 402.37 L909.8 415.4 L909.94 403.05 L910.09 407.49 L910.23 409.65 L910.37 400.49 L910.51 400.4 L910.66 408.46 L910.8 400.3 L910.94 400.5 L911.09 402.43 L911.23 400.54 L911.37 404.3 L911.51 420.11 L911.66 407.98 L911.8 415.4 L911.94 422.52 L912.09 421.2 L912.23 425.61 L912.37 424.85 L912.51 449.45 L912.66 434.93 L912.8 430.5 L912.96 426.95 L913.11 477.49 L913.27 434.15 L913.43 470.17 L913.59 484.6 L913.74 456.94 L913.9 487.1 L914.05 474.11 L914.2 462.46 L914.35 471.83 L914.5 480.25 L914.65 473.12 L914.8 462.2 L914.94 470.04 L915.08 456.96 L915.22 461.32 L915.36 455.69 L915.5 461.4 L915.67 460.39 L915.83 449.97 L916 449.3 L916 359.5 L132.95 359.5Z" fill="#ffa500" fill-opacity="0.3" stroke="none"/>
<g stroke="#b0b0b0" stroke-width="1" stroke-dasharray="1.11 1.83" fill="none">
<path d="M197.5 759.5V359.5"/>
<path d="M306.5 759.5V359.5"/>
<path d="M414.5 759.5V359.5"/>
<path d="M522.5 759.5V359.5"/>
<path d="M630.5 759.5V359.5"/>
<path d="M738.5 759.5V359.5"/>
<path d="M846.5 759.5V359.5"/>
<path d="M954.5 759.5V359.5"/>
<path d="M93.5 759.5H956.5"/>
<path d="M93.5 709.5H956.5"/>
<path d="M93.5 659.5H956.5"/>
<path d="M93.5 609.5H956.5"/>
<path d="M93.5 559.5H956.5"/>
<path d="M93.5 509.5H956.5"/>
<path d="M93.5 459.5H956.5"/>
<path d="M93.5 409.5H956.5"/>
<path d="M93.5 359.5H956.5"/>
</g>
<g clip-path="url(#c2)">
<path d="M132.95 359.5 L133.09 360.86 L133.23 364.05 L133.37 363.35 L133.51 363.96 L133.65 364.05 L133.79 363.68 L133.93 361.06 L134.07 360.37 L134.22 359.55 L134.36 359.83 L134.5 361.4 L134.64 362.35 L134.78 363.73 L134.92 359.69 L135.06 365.06 L135.21 359.56 L135.36 360.67 L135.51 363.95 L135.66 368.86 L135.81 368.22 L135.97 370.85 L136.12 370.34 L136.27 380.15 L136.4 384.52 L136.54 391.49 L136.67 393.73 L136.82 385.55 L136.97 392.54 L137.12 378.17 L137.27 390.65 L137.42 379.88 L137.58 374.11 L137.72 370.2 L137.86 372.62 L138.01 359.88 L138.15 362.09 L138.29 359.72 L138.44 360.14 L138.58 361.04 L138.73 359.89 L138.88 364.91 L139.03 362.36 L139.19 364.27 L139.34 362.59 L139.49 361.81 L139.64 365.86 L139.79 367.14 L139.94 359.52 L140.09 365.06 L140.23 364.91 L140.38 364.08 L140.52 361.17 L140.67 369.7 L140.81 366.08 L140.95 374.05 L141.1 375.12 L141.24 388.66 L141.38 388.7 L141.53 383.66 L141.67 382.85 L141.82 382.7 L141.96 392.48 L142.1 388.2 L142.26 390.16 L142.42 391.05 L142.59 399.16 L142.75 401.03 L142.91 405.3 L143.06 402.34 L143.21 406.33 L143.36 391.42 L143.51 388.64 L143.66 406.37 L143.81 402.47 L143.96 402.21 L144.11 388.2 L144.26 385.93 L144.4 387.4 L144.55 380.62 L144.69 376.72 L144.83 387.14 L144.98 376.81 L145.12 374.11 L145.27 373.24 L145.42 373.9 L145.57 390.01 L145.72 384.67 L145.88 373.91 L146.03 393.88 L146.18 396.67 L146.33 403.29 L146.49 417.15 L146.65 412.14 L146.81 417.58 L146.97 420.98 L147.13 426.93 L147.28 423.11 L147.43 421.57 L147.59 415.92 L147.74 406.01 L147.89 410.4 L148.04 404.12 L148.19 402.77 L148.34 411.34 L148.49 406.15 L148.63 401.99 L148.78 381.81 L148.92 397.74 L149.07 378.5 L149.21 397.16 L149.36 380.49 L149.5 376.79 L149.65 379.65 L149.79 383.8 L149.94 381.26 L150.08 386.14 L150.22 381.7 L150.37 384.11 L150.51 384.21 L150.65 388.2 L150.8 386.73 L150.94 389.37 L151.09 399.33 L151.23 387.32 L151.37 393.64 L151.52 395.81 L151.66 398.26 L151.8 397.15 L151.95 399.43 L152.09 398.33 L152.23 401.67 L152.38 401.06 L152.52 403.31 L152.67 405.3 L152.81 405.17 L152.95 396.52 L153.1 401.56 L153.24 399.43 L153.38 402.98 L153.53 400.42 L153.67 395.24 L153.82 405.31 L153.96 402.49 L154.1 403.44 L154.25 400.78 L154.39 411.12 L154.53 412.02 L154.68 417.37 L154.83 410.92 L154.98 418.03 L155.13 417.28 L155.28 401.83 L155.43 398.36 L155.58 399.39 L155.73 411.36 L155.89 410.66 L156.04 396.8 L156.19 398.26 L156.33 396.26 L156.47 399.55 L156.62 396.89 L156.76 390.17 L156.91 395.92 L157.05 391.32 L157.19 388.2 L157.34 390.62 L157.49 384.72 L157.65 383.69 L157.8 388.48 L157.95 380.23 L158.1 380.25 L158.25 380.05 L158.4 381.06 L158.55 374.34 L158.7 383.17 L158.85 373.71 L158.99 382.79 L159.13 380.44 L159.28 374.29 L159.42 378.05 L159.56 372.93 L159.71 370.59 L159.85 373.21 L160 389.39 L160.14 386.59 L160.28 385.62 L160.43 380.01 L160.57 387.05 L160.71 388.2 L160.86 395.92 L161 400.58 L161.15 391.27 L161.29 398.71 L161.43 392 L161.58 392.76 L161.72 400.27 L161.87 410.05 L162.02 398.47 L162.17 414.05 L162.32 399.07 L162.47 399.55 L162.63 413.76 L162.78 414.04 L162.93 412.21 L163.08 408.69 L163.23 412.85 L163.38 411.48 L163.53 408.05 L163.68 410.52 L163.83 406.93 L163.98 404.29 L164.13 412.04 L164.29 408.56 L164.44 404.13 L164.59 403.95 L164.74 395.24 L164.88 397.77 L165.03 399.96 L165.17 394.95 L165.31 394.37 L165.46 397.68 L165.6 405.78 L165.74 394.24 L165.89 406.39 L166.03 401.94 L166.18 397.99 L166.32 407.26 L166.46 412.8 L166.61 414.24 L166.75 411.34 L166.9 420.41 L167.05 417.36 L167.2 415.77 L167.35 414.01 L167.51 424.67 L167.66 423.52 L167.81 424.52 L167.96 425.75 L168.11 424.92 L168.26 425.42 L168.4 418.02 L168.55 418.54 L168.69 419.24 L168.83 420.01 L168.98 406.29 L169.12 426.04 L169.27 405.3 L169.41 402.75 L169.55 405.88 L169.7 401.44 L169.84 389.49 L169.98 374.13 L170.13 394.51 L170.27 385.18 L170.42 392.06 L170.56 363.37 L170.7 381.62 L170.85 372.8 L170.99 362.62 L171.13 372.86 L171.28 359.83 L171.42 361.12 L171.57 362.98 L171.71 359.52 L171.85 360.19 L172 359.67 L172.14 359.51 L172.28 359.5 L172.43 359.94 L172.57 359.57 L172.71 360.73 L172.86 359.66 L173 366.09 L173.15 361.73 L173.29 359.83 L173.43 366.97 L173.58 359.67 L173.72 362.28 L173.86 362.28 L174.01 371.99 L174.15 370.24 L174.3 375.12 L174.44 387.58 L174.58 370.05 L174.73 396.21 L174.87 395.22 L175.01 400.32 L175.16 384.27 L175.3 395.24 L175.45 438.51 L175.6 431.32 L175.74 419.89 L175.89 444.13 L176.04 429.58 L176.19 443.22 L176.31 425.42 L176.51 456.1 L176.65 445.58 L176.8 427.07 L176.94 458.53 L177.08 465.9 L177.22 459.14 L177.37 472.3 L177.51 469.07 L177.65 458.69 L177.8 473.8 L177.95 471.41 L178.09 463.35 L178.24 468.33 L178.39 460.34 L178.54 459.41 L178.69 461.76 L178.84 461.32 L178.99 462.39 L179.13 456.28 L179.28 454.9 L179.43 456.68 L179.58 456.75 L179.73 456.1 L179.87 455.44 L180 456.52 L180.14 451.24 L180.28 451.01 L180.42 449.85 L180.56 456.83 L180.69 449.66 L180.83 462.35 L180.97 451.51 L181.11 486.48 L181.25 487.39 L181.38 466.9 L181.52 469.11 L181.66 488.29 L181.81 486.87 L181.96 489.79 L182.11 486.88 L182.26 489.74 L182.41 489.16 L182.56 487.07 L182.71 487.87 L182.86 490.57 L183.01 487.62 L183.15 500.01 L183.3 497.03 L183.45 499.47 L183.6 491.93 L183.75 499.56 L183.9 495.46 L184.05 499.48 L184.19 495.81 L184.34 476.68 L184.48 489.47 L184.63 476.02 L184.78 471.46 L184.92 459.95 L185.07 471.99 L185.22 468.17 L185.36 456.1 L185.52 462.27 L185.68 452.29 L185.85 454.24 L186.01 450.09 L186.17 451.27 L186.31 452.29 L186.45 451.98 L186.6 452.42 L186.74 448.83 L186.88 443.96 L187.03 448.12 L187.17 444.9 L187.31 444.47 L187.45 443.22 L187.6 441.52 L187.74 439.39 L187.88 439.81 L188.02 429.43 L188.16 441.3 L188.3 428.36 L188.44 425.75 L188.58 423.9 L188.72 424.42 L188.86 423.01 L189 424.84 L189.14 418.98 L189.29 407.28 L189.43 422.43 L189.57 417.56 L189.71 406.36 L189.87 405.68 L190.03 419.36 L190.19 423.38 L190.35 447.46 L190.51 430.34 L190.67 476.59 L190.84 456.67 L191 477.02 L191.16 451.76 L191.32 466.42 L191.48 479.6 L191.64 477.5 L191.8 486.68 L191.96 480.95 L192.12 467.1 L192.28 460.33 L192.44 455.82 L192.61 456.1 L192.77 455.6 L192.93 455.5 L193.09 451.73 L193.25 465.42 L193.41 454.49 L193.55 459.84 L193.69 466.82 L193.83 477.59 L193.97 458.54 L194.11 473.84 L194.26 497.79 L194.4 476.62 L194.54 504.39 L194.68 510.79 L194.81 488.1 L194.95 518.87 L195.09 520.48 L195.23 508.6 L195.37 526.15 L195.5 523.7 L195.64 519.75 L195.78 527.78 L195.93 523.72 L196.07 527.74 L196.21 529.89 L196.35 526.67 L196.49 533.88 L196.63 530.14 L196.77 544.92 L196.91 540.42 L197.05 533.03 L197.19 541.74 L197.33 534.47 L197.47 540.72 L197.62 542.18 L197.76 544.63 L197.9 540.26 L198.05 545.54 L198.2 544.35 L198.34 539.84 L198.49 542.31 L198.63 544.97 L198.78 543.43 L198.93 543.9 L199.07 539.07 L199.22 534.92 L199.37 534.97 L199.5 520.09 L199.64 538.46 L199.78 523.3 L199.92 506.7 L200.06 507.72 L200.19 508.3 L200.33 507.61 L200.48 503.83 L200.62 508.09 L200.77 508.18 L200.92 504.18 L201.06 504.44 L201.21 508.64 L201.36 505.67 L201.5 504.41 L201.65 490.68 L201.8 503.01 L201.94 504.39 L202.08 493.02 L202.22 498.52 L202.36 503.88 L202.51 489.95 L202.65 494.2 L202.79 503.99 L202.93 477.14 L203.07 480.24 L203.23 500.06 L203.39 472.22 L203.55 462.44 L203.71 459.36 L203.87 464.14 L204.03 459.74 L204.2 457.5 L204.36 453.67 L204.52 456.07 L204.68 449.66 L204.84 438.83 L205 442.55 L205.16 443.82 L205.32 443.53 L205.48 440 L205.64 430.02 L205.8 430.03 L205.97 409.48 L206.13 413.78 L206.29 408.12 L206.43 400.8 L206.58 426.03 L206.73 408.11 L206.87 392.21 L207.02 394.39 L207.17 400.55 L207.31 398.2 L207.46 403.58 L207.6 401.91 L207.75 391.79 L207.9 389.61 L208.04 392.42 L208.18 398.99 L208.32 390.36 L208.46 395.88 L208.6 398.37 L208.74 399.54 L208.88 406.07 L209.02 403.29 L209.17 399.71 L209.31 399.75 L209.45 406.82 L209.6 407.8 L209.74 413.08 L209.88 408.95 L210.03 414.34 L210.17 411.65 L210.31 416.17 L210.46 395.38 L210.6 414.93 L210.75 409.23 L210.9 394.04 L211.04 397.48 L211.19 399.98 L211.34 392.59 L211.48 397.43 L211.63 397.19 L211.78 393.47 L211.92 393.63 L212.07 392.36 L212.21 389.12 L212.36 390.88 L212.51 393.92 L212.65 391.62 L212.8 386.07 L212.95 390.97 L213.09 391.27 L213.24 392.65 L213.38 387.29 L213.53 385.58 L213.68 384.25 L213.82 384.86 L213.97 384.4 L214.12 383.26 L214.26 386.47 L214.41 378.69 L214.56 381.78 L214.7 386.95 L214.85 404.87 L214.99 401.13 L215.14 398.46 L215.28 389.39 L215.43 394.6 L215.57 400.33 L215.71 398.95 L215.86 414.81 L216 416.02 L216.14 412.02 L216.29 416.17 L216.43 419.39 L216.57 419.72 L216.71 435.21 L216.85 424.22 L216.99 446.34 L217.13 430.81 L217.27 441.65 L217.41 444.53 L217.56 445.14 L217.7 445.52 L217.85 445 L217.99 442.48 L218.14 437.98 L218.29 431.03 L218.43 421.03 L218.58 430.65 L218.73 435.91 L218.87 426.32 L219.02 433.47 L219.16 412.95 L219.33 422.21 L219.49 438.61 L219.65 433.42 L219.81 442.26 L219.97 441.92 L220.12 440.43 L220.26 438.6 L220.41 441.32 L220.56 441.75 L220.7 443.06 L220.85 438.25 L220.99 442.66 L221.14 439.74 L221.29 436.4 L221.43 434.73 L221.58 438.7 L221.73 436.79 L221.87 439.76 L222.02 437.67 L222.16 432.04 L222.31 427.34 L222.46 428.23 L222.6 423.51 L222.75 426.23 L222.9 419.58 L223.04 422.91 L223.19 419.39 L223.34 424.37 L223.48 420.16 L223.63 419.99 L223.77 426.6 L223.92 426.05 L224.07 426.52 L224.21 427.63 L224.36 433.1 L224.51 427.49 L224.65 438.65 L224.8 432.26 L224.95 429.26 L225.1 439.24 L225.25 442.21 L225.4 442.23 L225.55 449.48 L225.7 440.15 L225.86 454.37 L226.01 455.44 L226.16 450.18 L226.31 445.68 L226.46 445.69 L226.61 444.11 L226.76 454.34 L226.91 451.98 L227.06 454.57 L227.21 457.21 L227.36 457.51 L227.51 452.73 L227.66 448.72 L227.81 455.17 L227.96 458.38 L228.11 441.33 L228.26 446.69 L228.41 441.17 L228.56 443.76 L228.71 452.91 L228.86 448.72 L229.01 440.63 L229.16 430.9 L229.31 435.48 L229.45 415.49 L229.59 434.1 L229.73 435.27 L229.87 424.53 L230.01 411.6 L230.15 408.93 L230.29 407.03 L230.43 408.12 L230.58 407.19 L230.73 403.14 L230.87 408.14 L231.02 409.3 L231.16 397.62 L231.31 398.84 L231.46 402.42 L231.6 388.52 L231.75 409.05 L231.9 391.65 L232.04 388 L232.19 400.24 L232.33 399.5 L232.48 389.85 L232.63 410.92 L232.77 409.22 L232.92 412.4 L233.07 409.34 L233.21 410.52 L233.36 412.41 L233.51 405.77 L233.65 411.34 L233.8 407.72 L233.95 409.06 L234.1 400.98 L234.25 398.95 L234.4 391.62 L234.55 398.68 L234.7 394.44 L234.85 392.43 L235 378.53 L235.15 378.2 L235.3 380.73 L235.45 379.32 L235.59 377.03 L235.74 371.9 L235.89 372.54 L236.04 371.05 L236.19 376.02 L236.34 371.39 L236.49 377.33 L236.64 382.34 L236.78 371.2 L236.93 376.52 L237.08 381.28 L237.23 378.21 L237.38 393.28 L237.53 378.67 L237.68 393.63 L237.83 392.67 L237.98 390.88 L238.13 393.17 L238.28 390.56 L238.43 392.51 L238.58 389.83 L238.73 388.89 L238.88 389.87 L239.03 390.86 L239.19 388.22 L239.34 381.53 L239.49 378.97 L239.64 388.89 L239.79 384.23 L239.94 377.71 L240.09 378.34 L240.24 381.94 L240.38 375.9 L240.53 377.75 L240.68 378.42 L240.82 379.02 L240.97 377.54 L241.11 390.26 L241.26 389.42 L241.41 388.81 L241.55 379.59 L241.7 392.02 L241.85 391.12 L241.99 389.61 L242.14 391.1 L242.29 391.75 L242.43 393.11 L242.58 402.86 L242.72 395.02 L242.87 392.89 L243.02 396.45 L243.16 401.44 L243.31 401.68 L243.46 405.77 L243.6 405.54 L243.75 401.34 L243.9 403.51 L244.04 400.61 L244.19 405.04 L244.33 418.75 L244.48 409.88 L244.63 414.66 L244.77 415.38 L244.92 423.41 L245.07 418.19 L245.21 415.1 L245.36 405 L245.5 408.4 L245.65 417.05 L245.8 396.89 L245.94 412.69 L246.09 396.15 L246.24 401.14 L246.38 388.73 L246.53 396.85 L246.68 383.2 L246.82 389.47 L246.97 394.35 L247.11 384.71 L247.26 386.46 L247.41 388.25 L247.55 380.35 L247.7 389.98 L247.85 389.32 L247.99 386.26 L248.14 379.14 L248.29 378.75 L248.43 384.16 L248.58 380.15 L248.72 379.44 L248.87 371.11 L249.02 372.96 L249.16 378.45 L249.31 364.93 L249.46 371.97 L249.6 362.87 L249.75 362.24 L249.9 366.07 L250.05 360.97 L250.2 361.77 L250.35 360.2 L250.5 359.58 L250.65 360.42 L250.8 362.56 L250.96 361.45 L251.11 362.21 L251.26 360.64 L251.41 364.29 L251.56 362.82 L251.71 360.62 L251.86 363.71 L252.01 362.96 L252.16 364.66 L252.31 360.58 L252.46 363 L252.6 361.05 L252.75 361.31 L252.89 361.72 L253.04 362.21 L253.19 360.26 L253.33 360.81 L253.48 361.37 L253.63 361.12 L253.77 360.31 L253.92 360.89 L254.07 362.18 L254.23 361.04 L254.38 359.92 L254.53 366.38 L254.68 360.15 L254.83 363.93 L254.98 365.45 L255.13 359.53 L255.28 366.95 L255.43 368.17 L255.58 369.88 L255.73 362.89 L255.89 359.59 L256.04 364.85 L256.19 369.49 L256.34 362.73 L256.49 366.92 L256.64 367.03 L256.79 363.42 L256.94 361.45 L257.09 371.49 L257.24 369.43 L257.39 370.33 L257.55 373.48 L257.7 369.33 L257.85 367.08 L258 374.66 L258.15 365.17 L258.3 361.43 L258.45 361.52 L258.6 374.32 L258.75 374.67 L258.9 370.75 L259.05 373.51 L259.21 373.24 L259.36 380.55 L259.51 378.05 L259.66 382.21 L259.81 384.43 L259.96 380.25 L260.11 383.31 L260.26 380.75 L260.41 379.43 L260.56 385.05 L260.71 382.27 L260.87 385 L261.02 383.97 L261.17 382 L261.32 385.99 L261.46 398.36 L261.61 387.94 L261.76 400.48 L261.91 397.29 L262.06 399.22 L262.21 394.6 L262.36 396.16 L262.51 395.54 L262.66 400.1 L262.81 396.7 L262.96 393.98 L263.11 400.07 L263.26 393.61 L263.41 394.56 L263.55 399.24 L263.7 393.99 L263.85 391.81 L264 384.33 L264.15 389.2 L264.3 386.51 L264.45 386 L264.59 382.27 L264.74 382.43 L264.89 388.29 L265.04 387.19 L265.19 389.63 L265.33 394.12 L265.48 389.04 L265.63 388.3 L265.77 393.41 L265.92 396.91 L266.06 397.33 L266.21 392.52 L266.36 393.3 L266.5 389.29 L266.65 397.66 L266.8 398.73 L266.94 397.47 L267.09 397.65 L267.24 384.66 L267.38 385.21 L267.53 387.95 L267.67 385.52 L267.82 386.87 L267.97 383.79 L268.11 377.65 L268.26 382.36 L268.41 381.91 L268.55 375.67 L268.7 376.01 L268.84 375.93 L268.99 375.64 L269.14 377.12 L269.28 383.28 L269.43 381.84 L269.58 380.56 L269.72 373.4 L269.87 371.1 L270.02 362.29 L270.16 369.87 L270.31 362.59 L270.45 363.32 L270.6 359.6 L270.75 359.51 L270.89 359.5 L271.04 360.15 L271.19 359.79 L271.33 364.07 L271.48 360.31 L271.63 367.61 L271.77 365.84 L271.92 362.09 L272.06 359.79 L272.21 366.29 L272.36 360.24 L272.5 362.1 L272.65 359.66 L272.8 372.51 L272.94 363.72 L273.09 371.1 L273.24 388.29 L273.39 369.89 L273.54 372.81 L273.69 381.37 L273.84 383.13 L273.99 387.77 L274.14 386.48 L274.3 382.43 L274.45 387.6 L274.6 384.71 L274.75 382.47 L274.9 384.46 L275.05 381.36 L275.2 385.83 L275.35 382.41 L275.5 387.19 L275.65 405.47 L275.8 390.03 L275.95 418.45 L276.1 409.87 L276.25 408.9 L276.4 416.88 L276.55 411.61 L276.7 417.79 L276.85 424.1 L277 423.11 L277.15 425.38 L277.3 421.6 L277.45 423.7 L277.6 424.22 L277.74 417.46 L277.89 418.03 L278.03 403.89 L278.18 416.03 L278.33 418.98 L278.47 395.95 L278.62 415.02 L278.77 387.97 L278.91 398.9 L279.06 383.66 L279.21 387.19 L279.35 393.97 L279.49 369.05 L279.63 369.19 L279.77 371.69 L279.91 369.86 L280.05 361.78 L280.19 366.21 L280.33 360.31 L280.47 359.52 L280.62 364.47 L280.76 372.92 L280.9 367.08 L281.04 359.99 L281.18 365.67 L281.33 375.52 L281.47 379.66 L281.61 379.14 L281.76 368.37 L281.91 379.29 L282.06 376.76 L282.21 378.63 L282.36 379.92 L282.52 377.79 L282.67 375.51 L282.82 374.92 L282.97 379.18 L283.12 380.31 L283.27 372.06 L283.42 377.22 L283.57 373.85 L283.72 368.56 L283.87 372.77 L284.02 371.1 L284.17 374.13 L284.32 362.04 L284.46 367.01 L284.61 368.35 L284.76 370.29 L284.9 359.54 L285.05 363.54 L285.19 359.5 L285.34 360.05 L285.49 360.25 L285.63 365.7 L285.78 369.68 L285.93 363.76 L286.07 365.18 L286.22 361.95 L286.37 362.1 L286.51 361.14 L286.66 369.5 L286.8 369.59 L286.95 363.15 L287.1 360.38 L287.24 367.07 L287.39 363.2 L287.55 367.82 L287.7 367.19 L287.85 366.29 L288 362.87 L288.15 367.71 L288.3 366.38 L288.45 362.94 L288.6 370.68 L288.75 367.67 L288.9 369.05 L289.05 366.31 L289.21 359.83 L289.36 364.54 L289.51 369.93 L289.66 369.49 L289.8 359.69 L289.95 360.02 L290.1 359.51 L290.24 363.45 L290.39 366.38 L290.54 361.34 L290.68 361.04 L290.83 369.87 L290.97 363.36 L291.12 369.17 L291.27 366.27 L291.41 368.42 L291.56 361.55 L291.71 363.93 L291.85 364.86 L292 362.79 L292.15 359.5 L292.29 361.95 L292.44 365.99 L292.58 365.32 L292.73 364.28 L292.88 364.66 L293.02 359.56 L293.17 360.11 L293.32 363.16 L293.46 363.32 L293.61 365.13 L293.76 360.95 L293.9 369.42 L294.05 369.81 L294.19 372.69 L294.34 366.03 L294.49 372.71 L294.63 366.87 L294.78 378.34 L294.93 390.72 L295.07 385.68 L295.22 396.68 L295.36 388.46 L295.51 397.22 L295.66 387.2 L295.8 399.06 L295.95 391.13 L296.1 398.46 L296.25 394.74 L296.4 392.92 L296.55 396.59 L296.7 384 L296.85 398.09 L297 383.13 L297.15 395.28 L297.3 389.49 L297.45 382.11 L297.61 379.56 L297.76 382.04 L297.91 382.43 L298.06 379.72 L298.21 379.74 L298.36 378.04 L298.51 383.97 L298.66 388.11 L298.8 399.07 L298.95 395.55 L299.1 384.55 L299.24 389.56 L299.39 390.52 L299.54 398.04 L299.68 400.43 L299.83 405.69 L299.97 404.18 L300.12 403.29 L300.28 401.33 L300.44 410.6 L300.6 404.23 L300.76 413.73 L300.93 412.95 L301.07 414.1 L301.22 411.21 L301.36 412.11 L301.51 410.28 L301.66 412.07 L301.8 409.15 L301.95 408.61 L302.1 405.11 L302.24 403.17 L302.39 410.89 L302.54 401.68 L302.68 399.8 L302.83 405.15 L302.97 398.94 L303.12 389.23 L303.27 394.49 L303.41 400.1 L303.56 384.03 L303.71 392.72 L303.85 378.2 L304 376.79 L304.14 379.14 L304.29 384.44 L304.44 377.91 L304.58 374.22 L304.73 374.24 L304.88 367.55 L305.02 369.34 L305.17 362.86 L305.32 363.35 L305.46 361.66 L305.61 366.17 L305.75 363.05 L305.9 359.58 L306.05 359.67 L306.19 360.07 L306.34 360.15 L306.49 359.95 L306.63 362.29 L306.78 361.33 L306.93 362.66 L307.07 361.08 L307.22 361.2 L307.36 360.31 L307.51 360.24 L307.66 360.26 L307.8 359.76 L307.95 360.01 L308.1 362.61 L308.24 361.8 L308.39 360.18 L308.53 370.99 L308.68 363.98 L308.83 367.9 L308.97 372.71 L309.12 361.65 L309.28 359.94 L309.43 369.02 L309.58 370.66 L309.73 369.46 L309.88 359.66 L310.03 364.58 L310.18 368 L310.33 371.15 L310.48 362.71 L310.63 371.07 L310.78 369.26 L310.94 359.5 L311.09 359.87 L311.24 359.69 L311.39 363.05 L311.54 363.89 L311.69 363.66 L311.84 363.51 L311.99 363.99 L312.14 359.97 L312.29 363.1 L312.44 360.23 L312.6 359.86 L312.75 364.17 L312.9 363.71 L313.05 362.61 L313.2 359.65 L313.35 360.66 L313.5 360.12 L313.65 360.4 L313.8 360.31 L313.96 367.41 L314.12 361.1 L314.29 371.65 L314.45 366.56 L314.61 367.88 L314.75 363.11 L314.9 368.62 L315.05 369.66 L315.19 381.76 L315.34 375.15 L315.49 375.26 L315.63 387.61 L315.78 383.37 L315.92 387.62 L316.07 375.61 L316.22 387.19 L316.36 390.36 L316.51 388.06 L316.66 388.09 L316.8 392.25 L316.95 390.16 L317.1 392.69 L317.24 400.88 L317.39 399.05 L317.53 404.21 L317.68 404.82 L317.83 403.29 L317.99 409.33 L318.15 405.73 L318.31 409.77 L318.47 406.58 L318.63 424.22 L318.78 409.4 L318.92 413.6 L319.07 406.69 L319.22 415.34 L319.36 397.81 L319.51 397.35 L319.66 395.98 L319.8 399.63 L319.95 405.62 L320.1 395.87 L320.24 396.85 L320.39 397.8 L320.54 397.28 L320.69 397.2 L320.84 397.15 L320.98 396.96 L321.13 405.17 L321.28 413.72 L321.43 397.35 L321.58 421.93 L321.73 435.22 L321.88 396.26 L322.02 409.94 L322.17 435.48 L322.32 435.34 L322.47 436.11 L322.62 439.02 L322.77 439.05 L322.92 445.04 L323.07 442.02 L323.22 439.88 L323.37 442.56 L323.52 442.98 L323.67 443.83 L323.82 444.64 L323.97 450.07 L324.12 447.78 L324.27 449.16 L324.41 448.2 L324.56 444.49 L324.7 448.02 L324.85 448.69 L325 450 L325.14 444.96 L325.29 444.37 L325.44 444.16 L325.58 446.22 L325.73 429.7 L325.88 435.48 L326.04 421.41 L326.2 423.88 L326.36 422.24 L326.52 423.8 L326.68 396.85 L326.83 395.9 L326.97 400.04 L327.12 396.99 L327.27 410.76 L327.41 408.83 L327.56 406.03 L327.7 396.79 L327.85 405.92 L328 415.57 L328.14 420.12 L328.29 421 L328.44 419.93 L328.58 415.34 L328.73 406.61 L328.88 407.8 L329.02 411.87 L329.17 411.36 L329.31 418.47 L329.46 405.42 L329.61 393.19 L329.75 404.8 L329.9 395.24 L330.04 380.88 L330.19 393.69 L330.33 385.5 L330.47 385.31 L330.61 383.72 L330.76 380.64 L330.9 375.32 L331.04 380.77 L331.19 379.14 L331.34 378.6 L331.48 374.77 L331.63 375.84 L331.78 374.43 L331.93 375.25 L332.08 379.12 L332.23 376.53 L332.38 374.82 L332.52 374.49 L332.67 374.42 L332.82 377.19 L332.97 375.48 L333.12 371.1 L333.28 391.83 L333.44 377.16 L333.6 372.33 L333.76 377.64 L333.92 395.24 L334.07 386.84 L334.22 387.31 L334.36 393.45 L334.51 391.99 L334.66 386.4 L334.8 386.85 L334.95 388.49 L335.09 386.54 L335.24 379.39 L335.39 385.5 L335.53 387.19 L335.68 384.6 L335.83 369.92 L335.97 370.41 L336.12 375.54 L336.26 373.02 L336.41 360.63 L336.56 363.26 L336.7 370.47 L336.85 362.41 L337 367.95 L337.14 371.1 L337.29 362.4 L337.44 362.37 L337.58 368.81 L337.73 359.59 L337.87 359.93 L338.02 362.63 L338.17 361.34 L338.31 362.64 L338.46 361.22 L338.61 360.74 L338.75 360.31 L338.9 362.17 L339.05 359.53 L339.19 359.94 L339.34 360.21 L339.48 359.68 L339.63 359.5 L339.78 360.59 L339.92 360.69 L340.07 361.58 L340.22 366.51 L340.36 360.31 L340.51 365.47 L340.65 363.23 L340.8 364.48 L340.95 372.08 L341.09 363.15 L341.24 359.77 L341.39 359.83 L341.53 362.97 L341.68 365.74 L341.83 367.22 L341.97 371.1 L342.12 375.5 L342.26 364.91 L342.41 380.31 L342.56 384.85 L342.7 384.64 L342.85 372.93 L343 380.7 L343.14 373.79 L343.29 384.08 L343.44 376.83 L343.58 383.97 L343.73 383.51 L343.88 378.59 L344.03 382.69 L344.19 377.17 L344.34 381.91 L344.49 381.77 L344.64 378.22 L344.79 381.3 L344.94 383.46 L345.09 383.38 L345.24 386.82 L345.39 387.55 L345.54 388.52 L345.69 386.19 L345.85 388.15 L346 389.61 L346.14 391.88 L346.29 396.19 L346.43 394.22 L346.58 400.6 L346.73 400.57 L346.87 414.3 L347.02 403.15 L347.17 406.3 L347.31 404.15 L347.46 404.49 L347.61 416.97 L347.75 401.53 L347.9 401.21 L348.05 403.25 L348.2 409.24 L348.35 407.89 L348.5 397.49 L348.65 409.48 L348.79 395.87 L348.94 394.35 L349.09 398.29 L349.24 391.19 L349.39 385.91 L349.54 387.19 L349.69 388.21 L349.84 385.99 L349.99 384.57 L350.14 387.25 L350.28 388.35 L350.43 382.59 L350.58 385.11 L350.73 381.82 L350.88 383.61 L351.03 385.5 L351.18 372.47 L351.33 382.15 L351.48 369.79 L351.63 371.1 L351.78 376.97 L351.92 359.66 L352.07 362.23 L352.22 360.2 L352.36 363.66 L352.51 361.65 L352.65 360.39 L352.8 362.32 L352.95 364.02 L353.09 361.24 L353.24 360.31 L353.39 359.5 L353.54 360.64 L353.69 360.43 L353.84 360.15 L353.99 360.14 L354.14 359.76 L354.3 360.52 L354.45 360.15 L354.6 360.2 L354.75 360.86 L354.9 359.5 L355.05 361.08 L355.2 359.6 L355.35 363.2 L355.5 376.27 L355.65 360.31 L355.81 374.88 L355.98 386.87 L356.14 390.64 L356.3 395.26 L356.46 387.19 L356.61 381.83 L356.75 397.1 L356.9 401.3 L357.04 399.16 L357.19 397.29 L357.34 398.27 L357.48 397.95 L357.63 413.84 L357.78 403.74 L357.92 402 L358.07 414.56 L358.21 415.36 L358.36 405.72 L358.51 418.56 L358.65 412.92 L358.8 415.26 L358.95 413.99 L359.09 412.67 L359.24 416.64 L359.39 418.32 L359.53 414.66 L359.68 418.58 L359.84 416.47 L360 405.89 L360.16 391.89 L360.32 406.45 L360.48 387.19 L360.63 390.23 L360.78 394.44 L360.92 387.08 L361.07 382.38 L361.21 373.72 L361.36 383.81 L361.51 375.93 L361.65 383.37 L361.8 370.67 L361.95 376.88 L362.09 371.1 L362.24 370.32 L362.39 362.68 L362.53 367.9 L362.68 369.91 L362.82 365.26 L362.97 370.15 L363.12 365.19 L363.26 369.36 L363.41 361.11 L363.56 360.16 L363.7 360.31 L363.85 360.19 L364 359.78 L364.15 359.92 L364.31 359.8 L364.46 359.83 L364.61 359.83 L364.76 359.52 L364.91 360.24 L365.06 359.87 L365.21 360.1 L365.36 360.43 L365.51 359.79 L365.66 359.95 L365.81 359.82 L365.97 359.9 L366.12 360.31 L366.26 360.71 L366.41 360.96 L366.56 359.5 L366.7 361.5 L366.85 360.11 L366.99 372.04 L367.14 359.85 L367.29 363.93 L367.43 367.89 L367.58 370.79 L367.73 371.1 L367.87 375.55 L368.02 373.25 L368.17 377.23 L368.31 377.68 L368.46 377.6 L368.6 375.66 L368.75 378.41 L368.9 373.98 L369.04 380.98 L369.19 375.11 L369.34 382.36 L369.48 379.97 L369.63 373.85 L369.78 373.82 L369.92 374.47 L370.07 378.69 L370.21 366.89 L370.36 378.54 L370.51 363.36 L370.65 365.28 L370.8 364.15 L370.95 367.88 L371.09 366.75 L371.24 362.23 L371.38 363.73 L371.53 359.58 L371.68 367.62 L371.82 366.23 L371.97 359.96 L372.12 362.98 L372.26 368.04 L372.41 360.02 L372.56 360.31 L372.71 361.64 L372.86 371.39 L373.01 369.73 L373.16 371.64 L373.31 373.03 L373.46 373.56 L373.61 384.53 L373.76 388.64 L373.91 372.11 L374.06 383.54 L374.22 388.63 L374.37 395.63 L374.52 381.52 L374.67 401.54 L374.82 394.51 L374.97 403.29 L375.12 392.7 L375.26 399.05 L375.41 391.82 L375.56 400.09 L375.7 400.41 L375.85 382.61 L375.99 394.31 L376.14 390.25 L376.29 384.62 L376.43 376.29 L376.58 379.14 L376.73 369.01 L376.87 375.38 L377.02 378.97 L377.16 361.79 L377.31 362.9 L377.46 365.69 L377.6 365.15 L377.75 359.62 L377.9 359.78 L378.04 360.17 L378.19 360.31 L378.34 361.07 L378.49 359.62 L378.64 359.58 L378.79 359.51 L378.94 359.55 L379.09 359.71 L379.25 359.53 L379.4 359.5 L379.55 359.77 L379.7 360.09 L379.85 359.68 L380 360.24 L380.15 359.94 L380.3 362.88 L380.45 360.73 L380.6 360.31 L380.76 360.51 L380.93 372.66 L381.09 372.72 L381.25 375.13 L381.41 382.36 L381.55 363.11 L381.7 367.44 L381.85 381.02 L381.99 365.08 L382.14 363.08 L382.29 359.53 L382.43 359.54 L382.58 359.8 L382.73 361.06 L382.87 362.08 L383.02 360.31 L383.16 360.54 L383.3 363.66 L383.45 365.63 L383.59 360.8 L383.73 361 L383.88 364.36 L384.02 377.86 L384.16 368.49 L384.31 379.14 L384.45 374.45 L384.59 387.74 L384.73 394.32 L384.87 387.25 L385.01 403.17 L385.15 401.61 L385.29 399.7 L385.43 403.29 L385.59 402.73 L385.74 434.07 L385.89 433.13 L386.05 451.16 L386.2 440 L386.35 450.34 L386.5 489.03 L386.65 477.05 L386.8 480 L386.97 515.56 L387.13 500.27 L387.3 520.1 L387.45 519.75 L387.6 521.07 L387.75 480.83 L387.9 498.3 L388.05 483.7 L388.2 480 L388.34 480.43 L388.49 441.47 L388.63 435.33 L388.78 465.1 L388.92 439.03 L389.07 431.96 L389.21 436.13 L389.36 431.3 L389.5 430.7 L389.66 435.41 L389.82 445.06 L389.98 441.98 L390.14 456.01 L390.3 458 L390.44 468.06 L390.58 456.34 L390.72 460.58 L390.86 460.13 L391 475 L391.15 492.16 L391.3 478.82 L391.45 480.41 L391.6 494.35 L391.75 487.74 L391.9 508.83 L392.05 507.88 L392.2 499.1 L392.35 510.54 L392.5 525.06 L392.65 533.91 L392.8 534.21 L392.95 547.77 L393.1 539.4 L393.23 546.95 L393.37 573.79 L393.5 565.1 L393.65 569.52 L393.8 579.6 L393.95 563.22 L394.1 569.85 L394.25 572.7 L394.4 552.3 L394.57 569.97 L394.73 552.9 L394.9 590.9 L395.07 569.54 L395.23 582.43 L395.4 597.7 L395.57 581.92 L395.73 589.27 L395.9 553.9 L396.07 574.25 L396.23 559.55 L396.4 592.5 L396.53 583.76 L396.67 577.49 L396.8 555.5 L396.97 564.28 L397.13 587.19 L397.3 589.3 L397.47 572.03 L397.63 576.27 L397.8 550.7 L397.97 585.91 L398.13 574.61 L398.3 586.1 L398.47 586.01 L398.63 559.92 L398.8 549.8 L398.97 566.08 L399.13 557.95 L399.3 566.8 L399.43 565.27 L399.57 551.13 L399.7 549 L399.87 565.37 L400.03 549.69 L400.2 564.3 L400.34 554.65 L400.48 549.83 L400.62 548.41 L400.76 524.45 L400.9 547.4 L401.05 551.72 L401.2 541.13 L401.35 544.66 L401.5 523.3 L401.67 524.46 L401.83 491.5 L402 491.1 L402.15 510.02 L402.3 451.6 L402.45 483.28 L402.59 479.65 L402.74 436.73 L402.88 435.57 L403.03 433.42 L403.17 434.42 L403.32 443.44 L403.46 435.81 L403.61 416.95 L403.75 415.92 L403.9 430.7 L404.04 425.24 L404.19 427.42 L404.33 423.41 L404.48 413.94 L404.62 409.72 L404.77 409.74 L404.91 412.5 L405.06 413.6 L405.2 403.3 L405.34 400.31 L405.49 406.02 L405.63 399.93 L405.77 397.17 L405.91 396.28 L406.06 399.12 L406.2 395.38 L406.34 396.89 L406.49 396.52 L406.63 398.31 L406.77 397.12 L406.91 389.2 L407.06 392.93 L407.2 396.9 L407.36 382.78 L407.51 391.19 L407.67 387.67 L407.83 381.43 L407.99 385.36 L408.14 385.59 L408.3 380 L408.44 388.64 L408.59 384.71 L408.73 394.58 L408.88 394.08 L409.02 401.01 L409.17 393.99 L409.31 399.37 L409.46 401.34 L409.6 403.3 L409.75 394.98 L409.89 401.23 L410.04 399.09 L410.18 395.06 L410.33 394.93 L410.47 403.12 L410.62 398.25 L410.76 398.65 L410.91 391.78 L411.05 391.63 L411.2 393.6 L411.35 392.32 L411.49 392.85 L411.64 393.64 L411.78 412.49 L411.93 392.47 L412.07 397.16 L412.22 397.67 L412.36 402.47 L412.51 406.3 L412.65 417.35 L412.8 411.3 L412.96 413.73 L413.12 431.66 L413.28 439.86 L413.44 417.65 L413.6 435.5 L413.73 436.61 L413.87 440.45 L414 475.7 L414.13 445.15 L414.27 484.78 L414.4 491.1 L414.56 483.59 L414.72 484.97 L414.88 502.76 L415.04 510.98 L415.2 507.2 L415.35 524.93 L415.49 516.03 L415.64 509.11 L415.78 515.5 L415.93 525.88 L416.07 526.09 L416.22 525.6 L416.36 522.81 L416.51 512.06 L416.65 514.8 L416.8 524.9 L416.94 515.86 L417.08 517.67 L417.22 523.99 L417.36 507.2 L417.5 500 L417.65 512.78 L417.8 508.16 L417.95 510.45 L418.1 500.26 L418.25 506.57 L418.4 516.9 L418.56 514.1 L418.72 511.11 L418.88 512.51 L419.04 499.85 L419.2 485 L419.36 501.84 L419.52 506.19 L419.68 509.78 L419.84 503.48 L420 513.6 L420.16 513.39 L420.32 493.57 L420.48 480.05 L420.64 495.09 L420.8 481 L420.96 483.44 L421.12 489.65 L421.28 511.22 L421.44 500.15 L421.6 512 L421.76 506.39 L421.92 500.56 L422.08 499.63 L422.24 502.7 L422.4 490 L422.56 504.04 L422.72 507.72 L422.88 501.84 L423.04 493.59 L423.2 507.2 L423.36 497.06 L423.52 505.33 L423.68 495.21 L423.84 495.88 L424 491.1 L424.16 483.26 L424.32 483.25 L424.48 481.06 L424.64 482.31 L424.8 483 L424.95 484.67 L425.1 462.99 L425.25 453.37 L425.4 428.96 L425.55 461.88 L425.7 435.5 L425.85 419.29 L425.99 426.24 L426.14 428.55 L426.28 414.45 L426.43 413.68 L426.57 412.18 L426.72 412.84 L426.86 414.43 L427.01 414.37 L427.15 412.2 L427.3 414.6 L427.45 413.64 L427.59 407.89 L427.74 407.85 L427.88 414.45 L428.03 408.86 L428.17 409.61 L428.32 412.73 L428.46 412.2 L428.61 405.78 L428.75 401.78 L428.9 401.7 L429.05 409.75 L429.19 420.46 L429.34 418.29 L429.48 405.56 L429.63 404.81 L429.77 408.79 L429.92 416.41 L430.07 414.97 L430.21 419.79 L430.36 415.25 L430.5 419.39 L430.65 420.88 L430.8 417.89 L430.94 419.41 L431.09 420.78 L431.23 418.61 L431.38 428.36 L431.53 428.39 L431.67 423.58 L431.82 425.57 L431.97 434.74 L432.11 427.43 L432.25 439.89 L432.39 433.56 L432.54 434.76 L432.68 441.1 L432.82 440.85 L432.96 436.15 L433.1 441.2 L433.24 440.31 L433.39 430.63 L433.53 431.51 L433.68 439.94 L433.82 427.36 L433.97 434.41 L434.12 421.42 L434.26 429.49 L434.41 427.74 L434.56 429.63 L434.7 430.55 L434.85 422.61 L435 432.26 L435.14 424.62 L435.29 425.53 L435.43 421.65 L435.57 428.43 L435.72 415.87 L435.86 403.81 L436 406.77 L436.14 399.67 L436.29 400.07 L436.46 400.07 L436.62 406.34 L436.78 405.57 L436.94 399.28 L437.1 400.32 L437.26 412.07 L437.41 419.39 L437.56 411.48 L437.7 415.28 L437.84 415.01 L437.98 419.33 L438.12 414.87 L438.27 420.66 L438.41 419.39 L438.55 419.39 L438.71 425.21 L438.87 422.69 L439.02 432.26 L439.17 432 L439.32 425.24 L439.46 431.61 L439.61 419.55 L439.76 408.92 L439.9 417.7 L440.05 416.85 L440.19 415.43 L440.34 404.07 L440.49 408.34 L440.63 403.29 L440.78 411.6 L440.93 403.81 L441.07 419.71 L441.22 416.7 L441.37 417.96 L441.51 416.35 L441.66 418.8 L441.8 415.23 L441.95 419.02 L442.1 420.38 L442.24 419.39 L442.39 415.72 L442.54 419.8 L442.68 415.33 L442.83 419.29 L442.98 422.6 L443.12 418.96 L443.27 419.58 L443.41 419.69 L443.56 422.71 L443.71 421.97 L443.85 422.61 L443.99 435.99 L444.13 425.95 L444.28 433.16 L444.42 436.05 L444.56 435.5 L444.7 426.9 L444.84 426.44 L444.98 436.29 L445.13 428.49 L445.27 429.45 L445.42 432.75 L445.57 428.63 L445.71 429.9 L445.86 425.86 L446 428.34 L446.15 431.07 L446.3 430.23 L446.44 426.61 L446.59 419.39 L446.74 418.44 L446.89 415.42 L447.04 414.73 L447.19 414.53 L447.34 411.7 L447.49 410.27 L447.64 412.33 L447.79 410.45 L447.93 415.61 L448.08 411.89 L448.23 410.49 L448.38 419.04 L448.53 414.37 L448.68 414.56 L448.83 419.91 L448.97 415 L449.12 425.13 L449.27 422.22 L449.41 427.06 L449.56 424.57 L449.71 424.45 L449.85 429.02 L450 426.68 L450.15 433.99 L450.29 430.65 L450.45 422.63 L450.61 447.19 L450.77 431.7 L450.94 433.36 L451.1 447.56 L451.24 443.25 L451.39 447.86 L451.54 441.06 L451.68 443.36 L451.83 445.39 L451.97 443.52 L452.12 434.47 L452.27 438.94 L452.41 430.53 L452.56 440.74 L452.71 432.26 L452.85 424.16 L453 431.44 L453.15 431.19 L453.29 425.77 L453.44 424.27 L453.58 426.95 L453.73 419.47 L453.88 422.62 L454.02 419.84 L454.17 423.92 L454.32 419.39 L454.46 425.11 L454.61 420.14 L454.75 419.31 L454.9 420.66 L455.05 424.58 L455.19 423.03 L455.34 423.61 L455.49 420.37 L455.63 425.28 L455.78 424.38 L455.93 429.04 L456.07 428.95 L456.22 429.53 L456.36 420.18 L456.51 425.63 L456.66 425.56 L456.8 413.5 L456.95 419.97 L457.1 418.1 L457.24 419.46 L457.39 417.91 L457.54 411.34 L457.68 420.22 L457.83 411.21 L457.97 413.09 L458.12 416.57 L458.27 417.56 L458.41 416.25 L458.56 411.24 L458.71 418.55 L458.85 417.36 L459 420.42 L459.14 419.39 L459.29 415.05 L459.44 414.81 L459.58 418.12 L459.73 417.95 L459.88 419.44 L460.02 420.06 L460.17 417.62 L460.32 420.58 L460.46 420.1 L460.61 412.04 L460.75 409.73 L460.9 410.47 L461.05 415.58 L461.19 412.66 L461.34 416.77 L461.49 415.35 L461.63 411.39 L461.78 415 L461.93 413.22 L462.07 421.22 L462.22 423.34 L462.36 416.17 L462.51 425.07 L462.65 425.09 L462.79 423.55 L462.94 425.74 L463.08 428.89 L463.22 436.2 L463.37 432.03 L463.51 439.67 L463.65 435.48 L463.79 438.3 L463.93 445.24 L464.07 438.34 L464.22 444.7 L464.36 446.67 L464.5 441.57 L464.64 448.14 L464.78 448.36 L464.93 452.37 L465.07 445.82 L465.22 452.67 L465.36 451.93 L465.51 456.96 L465.66 452.91 L465.8 455.14 L465.95 451.93 L466.1 454.64 L466.24 453.59 L466.39 456.41 L466.53 452.39 L466.68 452.29 L466.83 457.47 L466.97 457.52 L467.12 450.21 L467.27 450.03 L467.41 447.45 L467.56 446.51 L467.71 449.81 L467.85 445.54 L468 443.53 L468.14 440.93 L468.28 445.01 L468.42 427.7 L468.56 423.05 L468.7 424.43 L468.84 418.97 L468.98 421.84 L469.12 419.39 L469.27 418.53 L469.41 420.63 L469.55 418.4 L469.7 418.24 L469.84 425.99 L469.98 426.7 L470.13 427.73 L470.27 423.83 L470.41 429.04 L470.56 428.91 L470.71 417.22 L470.85 422.55 L471 415.39 L471.14 418.01 L471.29 421.05 L471.44 419.99 L471.58 415.03 L471.73 415.52 L471.88 419.81 L472.02 414.56 L472.17 411.85 L472.31 411.8 L472.46 414.34 L472.61 408.65 L472.75 410.78 L472.9 410.98 L473.05 403.3 L473.19 405.71 L473.34 402.99 L473.49 398.74 L473.63 400.07 L473.78 405.99 L473.93 403.33 L474.08 399.2 L474.24 395.05 L474.39 400.59 L474.54 394.98 L474.69 394.66 L474.84 396.76 L474.99 395.21 L475.14 400.24 L475.29 400.21 L475.44 394.64 L475.59 399.64 L475.74 394.88 L475.9 396.08 L476.05 398.46 L476.19 398.53 L476.34 396.04 L476.49 398.6 L476.63 394.2 L476.78 397.02 L476.92 399.44 L477.07 399.12 L477.22 395.96 L477.36 394.62 L477.51 398.33 L477.66 392.02 L477.8 396.99 L477.95 391.79 L478.09 388.58 L478.24 389.53 L478.39 392.34 L478.53 391.79 L478.68 382.98 L478.83 388.04 L478.97 383.03 L479.12 383.97 L479.27 383.97 L479.42 379.78 L479.57 379.73 L479.72 382.11 L479.87 383.47 L480.02 384.37 L480.17 380.92 L480.32 378.41 L480.47 377.82 L480.62 378.04 L480.77 380.34 L480.93 377.89 L481.08 378.3 L481.23 376.45 L481.38 378.24 L481.53 386.49 L481.68 376.73 L481.83 379.35 L481.97 382.54 L482.12 390.74 L482.27 404.01 L482.41 400.26 L482.56 401.97 L482.7 397.87 L482.85 398 L483 401.2 L483.14 401.13 L483.29 403.29 L483.44 398.24 L483.58 398.41 L483.73 400.74 L483.88 395.66 L484.02 392.65 L484.17 400.07 L484.31 399 L484.46 394.4 L484.61 390.13 L484.75 392.68 L484.9 393.63 L485.05 392.02 L485.2 393.58 L485.35 393.63 L485.5 389.39 L485.65 382.89 L485.8 392.06 L485.96 389.06 L486.11 382.86 L486.26 386.47 L486.41 389.65 L486.56 391.71 L486.71 385.95 L486.86 383.45 L487.01 382.43 L487.16 390.53 L487.31 382.36 L487.46 383.65 L487.61 380.68 L487.75 381.78 L487.9 377.65 L488.05 379.62 L488.19 379.12 L488.34 377.44 L488.48 380.15 L488.63 382.55 L488.78 382.43 L488.92 380.29 L489.07 379.3 L489.22 376.99 L489.36 379.12 L489.51 380.91 L489.66 382.81 L489.8 379 L489.95 382.72 L490.09 383.11 L490.24 380.15 L490.39 380.11 L490.53 379.95 L490.67 393.33 L490.81 383.69 L490.96 384.75 L491.1 401.56 L491.24 390.11 L491.38 396.99 L491.52 396.98 L491.66 401.68 L491.81 394.02 L491.95 388.44 L492.1 402.09 L492.25 391.88 L492.39 394.63 L492.54 392.84 L492.68 392.51 L492.83 389.34 L492.98 386.43 L493.12 390.51 L493.27 387.19 L493.42 396.13 L493.57 391.09 L493.72 385.12 L493.87 387.86 L494.02 383.9 L494.17 383.44 L494.32 388.29 L494.47 386.65 L494.61 389.22 L494.76 388.77 L494.91 390.24 L495.06 387.79 L495.21 395.02 L495.36 392.02 L495.51 393.55 L495.65 390.88 L495.8 393.08 L495.95 405.77 L496.09 407.49 L496.24 408.73 L496.39 399.27 L496.53 406.97 L496.68 411.01 L496.83 409 L496.97 411.34 L497.12 407.49 L497.26 406.99 L497.41 397.4 L497.56 394.87 L497.7 392.46 L497.85 398.43 L498 412.03 L498.14 403.06 L498.29 393.11 L498.44 399.13 L498.58 393.63 L498.73 406.08 L498.87 396.96 L499.02 396.99 L499.17 405.71 L499.31 403 L499.46 405 L499.61 402.14 L499.75 405.87 L499.9 404.16 L500.04 404.27 L500.19 404.9 L500.34 387.42 L500.48 385.98 L500.63 390.87 L500.78 387.87 L500.92 389.79 L501.07 385.59 L501.22 382.15 L501.36 383.02 L501.51 380.44 L501.65 381 L501.8 379.14 L501.95 380.95 L502.09 379.35 L502.24 382.72 L502.39 381.54 L502.53 381.67 L502.68 379.44 L502.83 380.77 L502.97 379.89 L503.12 380.47 L503.26 380.83 L503.41 382.36 L503.56 376.33 L503.7 375.86 L503.85 378.01 L504 371.96 L504.14 367.19 L504.29 381.7 L504.43 371.95 L504.58 361.12 L504.73 370.69 L504.87 361.48 L505.02 362.24 L505.17 363.25 L505.31 360.2 L505.46 364.61 L505.61 365.42 L505.75 359.95 L505.9 361.36 L506.04 364.58 L506.19 365.08 L506.34 363.43 L506.48 364.25 L506.63 375.93 L506.78 369.14 L506.93 366.9 L507.08 373.95 L507.23 368.65 L507.38 372.5 L507.54 368.1 L507.69 372.94 L507.84 370.52 L507.99 368.64 L508.14 377.12 L508.29 363.46 L508.44 376.11 L508.59 376.81 L508.74 374.19 L508.89 375.54 L509.04 364.66 L509.2 375.89 L509.35 368.62 L509.5 364.68 L509.65 360.58 L509.8 365.61 L509.95 362.15 L510.1 363.93 L510.25 363.99 L510.4 363.69 L510.55 364.51 L510.7 359.74 L510.86 360.03 L511.01 363.05 L511.16 362.48 L511.31 360.29 L511.46 360.31 L511.61 359.62 L511.76 360.57 L511.91 361 L512.06 359.7 L512.21 364.5 L512.36 364.68 L512.52 362.5 L512.67 362.52 L512.82 365.19 L512.97 361.29 L513.12 363.73 L513.27 364.57 L513.42 363.87 L513.57 361.38 L513.72 362.71 L513.87 364.66 L514.02 366.26 L514.18 361.3 L514.33 365.08 L514.48 367.77 L514.63 362.34 L514.78 360.33 L514.93 372.2 L515.08 366.17 L515.23 370.04 L515.38 361 L515.53 364.22 L515.68 359.51 L515.84 369.88 L515.99 363.56 L516.14 373.25 L516.29 371.1 L516.43 376.66 L516.58 380.57 L516.73 377.18 L516.87 373.75 L517.02 373.38 L517.17 373.97 L517.31 376.07 L517.46 379.8 L517.6 386.96 L517.75 383.19 L517.9 388 L518.04 384.54 L518.19 387.09 L518.34 384.51 L518.48 379.78 L518.63 386.67 L518.78 375.26 L518.92 386.84 L519.07 386.33 L519.21 380.92 L519.36 377.41 L519.51 364.66 L519.65 362.73 L519.8 365.88 L519.95 363.21 L520.09 361.51 L520.24 361.57 L520.39 360.02 L520.53 359.96 L520.68 360.81 L520.82 360.9 L520.97 359.54 L521.12 360.31 L521.26 359.63 L521.41 364.76 L521.56 370.25 L521.7 361.11 L521.85 372.15 L521.99 362.86 L522.14 366.18 L522.29 359.5 L522.43 366.74 L522.58 369.51 L522.73 375.93 L522.87 373.01 L523.02 367.16 L523.17 376.12 L523.31 366.74 L523.46 362.74 L523.6 370.44 L523.75 359.94 L523.9 368.67 L524.04 359.61 L524.19 369.3 L524.34 360.31 L524.48 364.65 L524.63 367.72 L524.78 367.56 L524.92 363.44 L525.07 360.84 L525.21 365.33 L525.36 379.06 L525.51 367.31 L525.65 380.14 L525.8 394.76 L525.95 379.14 L526.09 372.9 L526.23 381.74 L526.37 381.57 L526.51 409.86 L526.65 415.95 L526.79 402.53 L526.93 425.87 L527.07 428.24 L527.22 415.14 L527.37 416.47 L527.51 419.14 L527.66 428.18 L527.8 420.77 L527.95 421.67 L528.1 402.06 L528.24 395.46 L528.39 409.78 L528.54 394.15 L528.68 395.24 L528.83 392.76 L528.97 381.06 L529.11 394.84 L529.25 376.22 L529.4 390.71 L529.54 379.38 L529.68 370.81 L529.83 373.84 L529.97 360.31 L530.12 369.66 L530.26 360.68 L530.41 360.26 L530.56 360.49 L530.7 360.67 L530.85 359.76 L530.99 359.92 L531.14 359.83 L531.29 360.58 L531.43 362.35 L531.58 360.31 L531.73 362.35 L531.87 362.39 L532.02 369.42 L532.16 371.38 L532.31 381.11 L532.46 388.6 L532.6 400.03 L532.75 374.57 L532.9 401.74 L533.04 396.59 L533.19 400.88 L533.34 396.88 L533.48 397.46 L533.63 392.39 L533.77 395.9 L533.92 395.19 L534.07 388.25 L534.21 386.97 L534.36 381.16 L534.51 377.88 L534.65 383.82 L534.8 382.36 L534.95 379.69 L535.1 382.31 L535.25 383.05 L535.4 383.4 L535.55 377.21 L535.7 380.65 L535.86 378.22 L536.01 381.27 L536.16 381.2 L536.31 373.39 L536.46 369.94 L536.61 363.38 L536.76 363.02 L536.91 364.92 L537.06 361.3 L537.21 367.07 L537.36 369.07 L537.51 375.2 L537.65 373.18 L537.8 375.16 L537.94 371.32 L538.09 369.24 L538.24 372.45 L538.38 368.67 L538.53 386.53 L538.68 371.58 L538.82 385.58 L538.97 383.91 L539.12 380.74 L539.26 386.52 L539.41 381.35 L539.55 384.59 L539.7 379.75 L539.85 360.13 L539.99 368.01 L540.14 366.13 L540.29 367.49 L540.43 360.31 L540.58 361.65 L540.73 364.6 L540.87 366.09 L541.02 364.17 L541.16 363.2 L541.31 378.04 L541.46 375.64 L541.6 382.26 L541.75 376.67 L541.9 380.47 L542.04 383.97 L542.19 379.49 L542.34 384.22 L542.49 381.68 L542.65 380.02 L542.8 385.13 L542.95 376.88 L543.1 376.06 L543.25 379.54 L543.4 383.25 L543.55 376.91 L543.7 370.1 L543.85 366.09 L544 359.58 L544.15 364.79 L544.31 367.36 L544.46 361.44 L544.6 363.95 L544.75 360.04 L544.9 360.14 L545.04 365.08 L545.19 363.98 L545.33 365.8 L545.48 376.12 L545.63 374.98 L545.77 379.6 L545.92 379.94 L546.07 377.54 L546.21 390.07 L546.36 386.43 L546.51 378.28 L546.65 388.58 L546.8 394.15 L546.94 387.86 L547.09 389.67 L547.24 401.38 L547.38 401.39 L547.53 394.87 L547.68 401.68 L547.82 398.99 L547.97 400.09 L548.12 398.23 L548.27 392.04 L548.42 396.66 L548.57 392.69 L548.72 394.69 L548.86 400.1 L549.01 400.21 L549.16 392.16 L549.31 395.79 L549.46 375.94 L549.61 375.93 L549.75 380.49 L549.9 363.66 L550.05 375.21 L550.19 373.65 L550.34 359.93 L550.49 367.77 L550.63 360.96 L550.78 361.8 L550.92 376.39 L551.07 377.95 L551.22 375.93 L551.36 375.93 L551.5 382.44 L551.65 386.91 L551.79 387.86 L551.93 392.27 L552.08 384.53 L552.22 381.16 L552.36 379.16 L552.51 403.29 L552.67 408.19 L552.83 413.26 L552.99 411.51 L553.15 406.93 L553.31 429.04 L553.46 425.4 L553.6 430.96 L553.75 428.16 L553.9 433.64 L554.04 431.84 L554.19 436.38 L554.33 433.19 L554.48 431.71 L554.63 418.89 L554.77 434.24 L554.92 435.48 L555.07 421.14 L555.21 419.99 L555.36 417.22 L555.5 420.42 L555.65 418.94 L555.8 409.7 L555.94 409.49 L556.09 403.23 L556.24 402.87 L556.38 401.67 L556.53 397.66 L556.68 398.56 L556.82 402.48 L556.97 404.56 L557.11 404.75 L557.26 401.94 L557.41 403.92 L557.55 396.93 L557.7 403.48 L557.85 406 L557.99 401.86 L558.14 419.39 L558.29 419.1 L558.43 410.82 L558.58 414.08 L558.72 407.44 L558.87 410.45 L559.02 408.45 L559.16 406.29 L559.31 408.13 L559.46 406.34 L559.6 404.36 L559.75 408.12 L559.89 403.74 L560.04 409.28 L560.19 407.84 L560.33 409.11 L560.48 404.05 L560.63 407.5 L560.77 405.84 L560.92 405.44 L561.07 401.99 L561.21 404.56 L561.36 406.51 L561.5 407.75 L561.65 431 L561.8 430.65 L561.94 411.47 L562.09 409.25 L562.24 425 L562.38 433.39 L562.53 431.24 L562.68 439.4 L562.82 449.47 L562.97 432.26 L563.13 456.69 L563.29 468.14 L563.45 454.09 L563.61 449.6 L563.77 476.53 L563.92 477.54 L564.07 470.88 L564.22 471.84 L564.37 472.21 L564.52 475.47 L564.66 473.71 L564.81 477.27 L564.96 473.34 L565.11 471.55 L565.26 477.72 L565.41 476.51 L565.56 477.01 L565.7 467.68 L565.85 456.42 L566 446.12 L566.14 448.6 L566.29 451.24 L566.44 446.67 L566.58 444.15 L566.73 440.75 L566.87 446.08 L567.02 426.81 L567.17 442.49 L567.31 441.92 L567.46 436.88 L567.6 418.13 L567.74 428.88 L567.89 425.85 L568.03 417.06 L568.17 415.97 L568.32 422.17 L568.46 418.34 L568.6 416.17 L568.74 423.11 L568.89 417.58 L569.03 423.38 L569.17 422.59 L569.32 442.57 L569.46 439.31 L569.6 437.27 L569.75 437.02 L569.89 448.36 L570.04 425.81 L570.18 424.73 L570.33 424.46 L570.47 413.95 L570.62 405.79 L570.77 405.71 L570.91 415.85 L571.06 413.54 L571.21 418.26 L571.35 407.38 L571.5 395.24 L571.65 409.17 L571.79 407.97 L571.94 403.5 L572.08 406.26 L572.23 406.94 L572.38 405.69 L572.52 419.35 L572.67 424.39 L572.82 434.54 L572.96 408.49 L573.11 435.48 L573.25 421.75 L573.4 426.71 L573.55 436.33 L573.69 446.82 L573.84 436.67 L573.99 442.84 L574.13 445.82 L574.28 434.55 L574.43 442.45 L574.57 450.19 L574.72 466.07 L574.86 466.99 L575.01 466.92 L575.16 457.9 L575.3 465.91 L575.45 466.52 L575.6 459.16 L575.74 454.47 L575.89 443.24 L576.04 433 L576.18 452.46 L576.33 435.48 L576.47 436.4 L576.61 410.82 L576.75 408.37 L576.89 422.84 L577.03 422.22 L577.17 410.3 L577.31 412.2 L577.45 395.24 L577.6 385.97 L577.75 386.92 L577.89 392.25 L578.04 379.84 L578.19 379.91 L578.33 382.43 L578.48 374.15 L578.63 380.7 L578.77 373.94 L578.92 371.12 L579.06 371.1 L579.21 368.97 L579.36 375.46 L579.5 366.7 L579.65 371.35 L579.8 361.4 L579.94 364.75 L580.09 359.56 L580.24 360.59 L580.38 359.65 L580.53 372.12 L580.67 364.66 L580.82 365.99 L580.97 362.18 L581.11 362.33 L581.26 364.54 L581.41 362.48 L581.55 362.41 L581.7 362.02 L581.84 362.45 L581.99 360.57 L582.14 362.05 L582.28 360.31 L582.43 363.85 L582.58 364.78 L582.72 367.53 L582.87 362.11 L583.02 367.73 L583.16 361.62 L583.31 361.85 L583.45 359.61 L583.6 359.51 L583.75 363.07 L583.89 367.88 L584.04 368.41 L584.19 361.83 L584.33 371.26 L584.48 372.06 L584.63 363.57 L584.77 361.01 L584.92 364.46 L585.06 376.29 L585.21 369 L585.36 376.07 L585.5 377.54 L585.65 372.7 L585.8 374.54 L585.96 372.94 L586.11 378.28 L586.26 378.39 L586.41 376.36 L586.56 378.68 L586.71 377.16 L586.86 374.62 L587.01 377.54 L587.16 369.23 L587.31 373.79 L587.46 367.62 L587.62 371.16 L587.77 368.89 L587.92 372.71 L588.07 368.49 L588.21 372.56 L588.36 360.8 L588.51 362.33 L588.66 360.39 L588.81 359.88 L588.96 362.6 L589.11 363.95 L589.25 373.61 L589.4 360.56 L589.55 360.3 L589.7 368.55 L589.85 360.31 L590 379.14 L590.14 363.44 L590.28 378.56 L590.43 376 L590.57 371.04 L590.71 372.22 L590.85 366.66 L590.99 363.04 L591.14 371.1 L591.29 371.52 L591.45 369.24 L591.61 367.88 L591.75 375.42 L591.89 374.22 L592.04 380 L592.18 378.39 L592.32 371.91 L592.46 375.72 L592.6 377.67 L592.75 395.24 L592.9 394.74 L593.06 387.3 L593.22 387.19 L593.36 393.2 L593.51 396.46 L593.65 410.83 L593.79 389.89 L593.93 398.56 L594.08 421.79 L594.22 414.72 L594.36 403.97 L594.51 421.8 L594.65 412.02 L594.8 422.87 L594.95 418.75 L595.09 422.92 L595.24 422.09 L595.39 419.27 L595.53 422.44 L595.68 422.41 L595.82 420.58 L595.97 414.49 L596.12 400.07 L596.27 406.12 L596.41 406 L596.56 407.76 L596.71 400.52 L596.86 406.44 L597.01 399.97 L597.16 402.58 L597.31 401.77 L597.45 401.96 L597.6 400.24 L597.75 406.04 L597.9 401.58 L598.05 414.56 L598.19 414.95 L598.33 406.96 L598.48 410.8 L598.62 396.61 L598.76 397.56 L598.91 404.8 L599.05 396.52 L599.19 396.67 L599.34 396.85 L599.48 397.94 L599.63 385.8 L599.78 397.84 L599.92 389.69 L600.07 388.02 L600.21 390.47 L600.36 379.63 L600.51 382.66 L600.65 379.22 L600.8 383.05 L600.95 383.97 L601.09 379.33 L601.24 379.51 L601.39 379.98 L601.54 383.89 L601.69 384.19 L601.84 382.91 L601.99 383.37 L602.13 397.13 L602.28 388.13 L602.43 393.44 L602.58 394.61 L602.73 396.07 L602.88 396.85 L603.03 391.59 L603.18 395.87 L603.33 395.69 L603.48 391.73 L603.63 384.97 L603.78 386.37 L603.93 395.47 L604.08 392 L604.24 387.09 L604.39 387.21 L604.54 394.58 L604.69 395.79 L604.84 385.74 L604.99 384.58 L605.14 388.01 L605.29 385.58 L605.44 384.64 L605.58 388.51 L605.73 389.6 L605.88 398.33 L606.02 406.78 L606.17 390.71 L606.32 395.16 L606.46 394.67 L606.61 411.07 L606.76 404.7 L606.9 419.39 L607.05 420.76 L607.19 418.97 L607.34 426.25 L607.49 432.67 L607.63 427.34 L607.78 437.27 L607.93 437.23 L608.07 428.59 L608.22 431.61 L608.36 454.81 L608.51 455.6 L608.66 451.54 L608.8 452.4 L608.95 442.42 L609.1 438.51 L609.24 442.48 L609.39 450.12 L609.54 424.89 L609.68 437.09 L609.83 434.31 L609.97 401.89 L610.12 422.61 L610.26 422.12 L610.4 398.28 L610.54 410.3 L610.68 400.77 L610.82 388.33 L610.97 395.71 L611.11 392.56 L611.25 387.19 L611.39 387.43 L611.53 380.51 L611.68 371.25 L611.82 368.53 L611.96 373.06 L612.11 371.13 L612.25 363.67 L612.39 370.56 L612.54 361.44 L612.68 366.83 L612.83 360.95 L612.97 361.72 L613.12 366.48 L613.27 364.68 L613.41 366.76 L613.56 370.55 L613.71 370.33 L613.85 359.56 L614 362 L614.14 371.1 L614.29 360.07 L614.44 366.23 L614.59 359.91 L614.74 364.97 L614.89 365.49 L615.04 363.43 L615.18 366.03 L615.33 361.33 L615.48 384.34 L615.63 396.47 L615.78 393.39 L615.93 373.25 L616.08 397.66 L616.22 392.84 L616.37 398.07 L616.52 394.54 L616.66 394.36 L616.81 397.33 L616.95 392.03 L617.1 394.21 L617.25 378.27 L617.39 391.45 L617.54 394.68 L617.69 374.32 L617.84 373.06 L617.99 371.46 L618.13 369.93 L618.28 370.25 L618.43 370.66 L618.58 359.95 L618.73 359.7 L618.88 365.64 L619.03 370.13 L619.18 365.35 L619.33 362.83 L619.48 362.92 L619.63 367.15 L619.78 360.31 L619.93 360.18 L620.08 366.5 L620.23 359.96 L620.38 365.48 L620.53 361.02 L620.68 363.76 L620.84 359.81 L620.99 359.92 L621.14 360.2 L621.29 362.56 L621.44 359.51 L621.59 370 L621.74 369.87 L621.89 361.9 L622.04 371.61 L622.19 371.1 L622.34 371.38 L622.49 362.67 L622.63 370.49 L622.78 370.48 L622.92 363.52 L623.07 370.66 L623.22 362.13 L623.36 360.93 L623.51 360.18 L623.66 362.47 L623.8 364.66 L623.95 369.06 L624.1 364.43 L624.24 379.9 L624.39 382.06 L624.53 385.79 L624.68 392.03 L624.83 386.83 L624.97 389.08 L625.12 392.33 L625.27 388.91 L625.41 391.22 L625.56 391.66 L625.71 387.29 L625.86 391.17 L626.01 387.66 L626.16 389.75 L626.3 384.95 L626.45 385.2 L626.6 390.67 L626.75 392.31 L626.9 385.23 L627.05 376.68 L627.2 372.28 L627.34 371.1 L627.49 377.8 L627.63 377.59 L627.77 365.71 L627.92 360.02 L628.06 362.5 L628.2 359.85 L628.35 365.43 L628.49 359.56 L628.63 360.31 L628.78 363.77 L628.93 362.27 L629.08 362.57 L629.24 363.12 L629.39 361.97 L629.54 363.83 L629.69 360.02 L629.84 362.1 L629.99 365.74 L630.14 361.58 L630.29 363.51 L630.44 359.86 L630.59 365.7 L630.74 360.37 L630.9 363.23 L631.05 364.66 L631.19 362.37 L631.34 368.1 L631.49 374.2 L631.63 373.2 L631.78 360.91 L631.92 362.41 L632.07 362.09 L632.22 360.17 L632.36 364.24 L632.51 372.66 L632.66 375.93 L632.8 378.89 L632.95 375.42 L633.09 381.59 L633.24 375.11 L633.39 386.38 L633.53 377.67 L633.68 378.42 L633.83 381.14 L633.97 378.09 L634.12 383.94 L634.27 392.02 L634.41 393.07 L634.56 389.1 L634.7 387.79 L634.85 392.13 L635 390.83 L635.14 384.27 L635.29 367.9 L635.44 366.68 L635.58 372.12 L635.73 375.53 L635.88 367.88 L636.02 359.8 L636.17 365.17 L636.31 367.77 L636.46 360.67 L636.61 359.75 L636.75 360.64 L636.9 361.02 L637.05 361.47 L637.19 360.37 L637.34 368.82 L637.48 360.31 L637.65 363.22 L637.81 364.31 L637.97 360.97 L638.13 400.77 L638.29 387.19 L638.45 411.91 L638.61 415.03 L638.77 413.47 L638.93 420.37 L639.09 419.39 L639.23 411.37 L639.37 415.24 L639.51 476.57 L639.64 473.32 L639.78 489.14 L639.92 489.32 L640.07 453.27 L640.22 441.92 L640.39 506.24 L640.56 511.05 L640.71 456.47 L640.87 477.33 L641.03 504.01 L641.2 489.26 L641.36 482.32 L641.53 489.32 L641.69 481.13 L641.85 489.59 L642.01 482.21 L642.17 479.66 L642.32 482.76 L642.46 478.19 L642.6 479.54 L642.75 478.8 L642.89 476.78 L643.03 479.81 L643.17 476.02 L643.32 476.5 L643.46 478.05 L643.62 474.3 L643.77 477.38 L643.92 474.11 L644.08 474.88 L644.25 455.67 L644.41 434.82 L644.57 465.96 L644.73 435.48 L644.87 417.09 L645.01 418.08 L645.16 415.43 L645.3 424.2 L645.44 415.67 L645.59 405.67 L645.73 400.98 L645.87 398.64 L646.02 398.46 L646.16 400.72 L646.31 404.82 L646.46 399.55 L646.6 401.58 L646.75 399.2 L646.89 396.99 L647.04 398.67 L647.19 397.25 L647.33 400.15 L647.48 401.05 L647.63 401.68 L647.77 401.34 L647.92 400.9 L648.06 390.39 L648.21 388.66 L648.36 385.56 L648.5 387.75 L648.65 399.94 L648.8 390.22 L648.94 376.12 L649.09 386.91 L649.24 375.93 L649.38 393.08 L649.53 388.92 L649.68 369.54 L649.83 384.37 L649.98 387.16 L650.13 390.95 L650.28 380.93 L650.42 385.38 L650.57 375.88 L650.72 394.33 L650.87 401.67 L651.02 396.56 L651.17 401.68 L651.31 402.88 L651.46 398.99 L651.61 397.71 L651.75 402.37 L651.9 391.2 L652.04 387.07 L652.19 391.18 L652.34 400.29 L652.48 391.02 L652.63 384.31 L652.78 382.36 L652.92 382.98 L653.07 381.86 L653.22 382.44 L653.36 382.32 L653.51 377.76 L653.65 375.58 L653.8 379.28 L653.95 378.93 L654.09 375.3 L654.24 366.9 L654.39 364.66 L654.53 379.47 L654.68 361.84 L654.83 365.84 L654.97 365.69 L655.12 363.63 L655.26 362.85 L655.41 361.93 L655.56 361.66 L655.7 362.59 L655.85 363.92 L656 360.31 L656.14 372.29 L656.29 369.77 L656.43 368.51 L656.58 367.48 L656.73 365.54 L656.87 370.47 L657.02 360.53 L657.17 366.95 L657.31 367.34 L657.46 368.74 L657.61 371.1 L657.75 368.6 L657.89 377.03 L658.03 380.01 L658.18 381.93 L658.32 372.65 L658.46 384.96 L658.61 396.43 L658.75 405.48 L658.89 395.24 L659.03 386.22 L659.18 390.8 L659.32 407.64 L659.46 399.9 L659.6 414.99 L659.74 415.86 L659.88 414.3 L660.02 418.58 L660.17 415.85 L660.31 418.05 L660.46 417.69 L660.61 406.29 L660.75 417.57 L660.9 400.71 L661.04 403.15 L661.19 396.48 L661.34 408.68 L661.48 384.34 L661.63 387.19 L661.78 382.12 L661.92 383.09 L662.07 380.93 L662.22 388.38 L662.36 382.27 L662.51 361.29 L662.65 370.11 L662.8 363.24 L662.95 364.18 L663.09 359.69 L663.24 367.88 L663.39 361.19 L663.53 367.32 L663.68 365.43 L663.82 365.6 L663.97 365.76 L664.12 369.03 L664.26 364.13 L664.41 359.64 L664.56 365.58 L664.7 368.41 L664.85 360.31 L665 365.72 L665.14 366.61 L665.29 359.59 L665.43 362.27 L665.58 373.88 L665.73 382.13 L665.87 367.08 L666.02 360.07 L666.17 383.31 L666.31 393.65 L666.46 387.19 L666.6 399.27 L666.74 390.18 L666.88 403.02 L667.02 409.03 L667.16 396.38 L667.3 409.05 L667.44 409.93 L667.59 411.34 L667.73 411.64 L667.87 412.12 L668.01 418.52 L668.16 419.05 L668.3 421.07 L668.44 419.68 L668.59 414.32 L668.73 421.26 L668.87 421.8 L669.02 422.29 L669.17 409.35 L669.31 418.48 L669.46 409.75 L669.6 410.68 L669.75 421.39 L669.9 410.56 L670.04 396.69 L670.19 407.35 L670.34 379.4 L670.48 387.19 L670.63 400.5 L670.77 384.04 L670.91 370.17 L671.06 382.85 L671.2 375.14 L671.34 362.81 L671.48 361 L671.63 359.53 L671.77 367.88 L671.91 368.08 L672.05 373.37 L672.19 385.06 L672.33 392.83 L672.47 390.18 L672.62 382.16 L672.76 385.69 L672.9 392.02 L673.04 394.5 L673.18 415 L673.32 393.07 L673.46 407.36 L673.6 435.35 L673.74 441.43 L673.88 424.22 L674.02 442.73 L674.17 411.8 L674.32 428.99 L674.46 406.95 L674.61 414.14 L674.76 420.02 L674.9 402.07 L675.05 404.02 L675.19 411.47 L675.34 407.4 L675.49 402.22 L675.63 393.63 L675.78 401.04 L675.92 397.96 L676.06 401.62 L676.21 404.33 L676.35 398.61 L676.49 404.13 L676.64 404.73 L676.78 406.74 L676.92 403.29 L677.07 406.36 L677.21 409.9 L677.36 405.96 L677.51 428.47 L677.65 420.12 L677.8 419.39 L677.95 423.08 L678.09 435.48 L678.24 427.12 L678.38 436.96 L678.53 435.48 L678.68 431.7 L678.82 442.51 L678.97 436.78 L679.12 446.87 L679.26 445.29 L679.41 441.91 L679.56 435.57 L679.7 445.23 L679.85 434.46 L679.99 438.52 L680.14 448.36 L680.29 435.07 L680.43 440.28 L680.58 434.75 L680.73 448.65 L680.87 443.35 L681.02 437.4 L681.17 446.44 L681.31 438.68 L681.46 441.18 L681.6 441.85 L681.75 435.48 L681.89 441.49 L682.04 441.27 L682.18 444.72 L682.32 447.85 L682.47 438.28 L682.61 442.12 L682.75 451.3 L682.9 456.21 L683.04 459.63 L683.19 447.68 L683.34 452.08 L683.48 455.41 L683.63 439.88 L683.78 446.81 L683.93 457.67 L684.08 431.17 L684.23 436.33 L684.38 441.33 L684.52 439.56 L684.67 432.06 L684.82 432.09 L684.97 432.26 L685.12 432.61 L685.26 433.18 L685.41 432.8 L685.56 433.12 L685.7 430.55 L685.85 427.77 L685.99 425.04 L686.14 428.18 L686.29 418.13 L686.43 419.41 L686.58 419.39 L686.73 412.37 L686.88 424.45 L687.03 397.56 L687.17 396.15 L687.32 411.06 L687.47 408.62 L687.62 394.57 L687.77 394.75 L687.92 396.99 L688.07 393.35 L688.21 391.72 L688.36 399.24 L688.51 387.19 L688.66 398.71 L688.81 401.19 L688.96 378.43 L689.11 383.66 L689.26 372.48 L689.41 384.62 L689.56 383.43 L689.71 372.49 L689.86 372.1 L690.01 360.83 L690.16 360.17 L690.3 365.21 L690.45 359.62 L690.6 363.05 L690.74 362.49 L690.89 365.46 L691.03 364.59 L691.17 372.14 L691.31 389.98 L691.45 394.75 L691.59 382.98 L691.73 395.24 L691.87 406.35 L692.02 384.98 L692.16 420.78 L692.3 428.67 L692.45 432.11 L692.59 430.15 L692.73 456.2 L692.88 453.3 L693.02 460.43 L693.17 444.75 L693.32 455.01 L693.47 458.56 L693.62 451.89 L693.77 458.48 L693.92 446.2 L694.07 451.4 L694.23 446.41 L694.38 445.25 L694.53 450.35 L694.68 449.42 L694.83 447.14 L694.98 445.55 L695.13 447.39 L695.28 446.16 L695.43 448.36 L695.58 449.49 L695.73 448.35 L695.87 444.44 L696.02 445.79 L696.16 448.2 L696.31 445.05 L696.46 447.06 L696.6 437.47 L696.75 445.92 L696.9 443.67 L697.04 432.26 L697.19 440.34 L697.33 431.98 L697.48 429.51 L697.63 423.31 L697.77 424.18 L697.92 419.15 L698.07 415.93 L698.21 417.31 L698.36 408.31 L698.51 416.03 L698.65 419.39 L698.8 414.13 L698.94 418.08 L699.09 418.5 L699.24 416.02 L699.38 420.57 L699.53 416.61 L699.68 408.76 L699.82 402.01 L699.97 416.02 L700.12 419.21 L700.26 400.88 L700.41 405.24 L700.55 402.66 L700.7 407.11 L700.85 419.53 L700.99 413.39 L701.14 412.04 L701.29 416.11 L701.43 418.5 L701.58 413.27 L701.72 412.13 L701.87 419.39 L702.02 415.3 L702.16 418.42 L702.31 415.82 L702.46 414.41 L702.6 422.38 L702.75 427.33 L702.9 419.21 L703.04 419.66 L703.19 422.09 L703.33 437.76 L703.48 437.9 L703.62 429.97 L703.76 421.96 L703.9 417.49 L704.04 417.36 L704.19 425.02 L704.33 415.9 L704.47 397.84 L704.61 411.34 L704.75 411.16 L704.9 410.3 L705.05 399.9 L705.19 398.82 L705.34 393.34 L705.49 393.98 L705.63 393.98 L705.78 396.54 L705.92 394.37 L706.07 391.28 L706.22 394.44 L706.37 394.4 L706.52 389.53 L706.67 394.76 L706.82 390.32 L706.96 392.65 L707.11 392.68 L707.26 396.04 L707.41 394.27 L707.56 399.45 L707.71 394.89 L707.86 393.87 L708.01 403.85 L708.16 397.3 L708.31 401.68 L708.46 405.21 L708.6 401.88 L708.75 403.78 L708.9 405.04 L709.04 405.91 L709.19 406.9 L709.33 405.31 L709.48 404.78 L709.63 404.13 L709.77 406.54 L709.92 406.51 L710.07 407.79 L710.21 408.03 L710.36 405.74 L710.5 409.13 L710.65 412.05 L710.8 408.39 L710.94 407.41 L711.09 408.89 L711.24 410.68 L711.38 410.98 L711.53 414.56 L711.68 414.66 L711.82 415.15 L711.97 412.08 L712.11 414.77 L712.26 417.24 L712.41 414.05 L712.55 420.67 L712.7 419.19 L712.85 415.78 L712.99 419.73 L713.14 429.04 L713.28 444.38 L713.42 455.63 L713.56 433.34 L713.7 444.02 L713.84 443.19 L713.98 455.73 L714.12 449.37 L714.27 455.6 L714.41 446.02 L714.56 446.55 L714.7 437.33 L714.85 441.49 L715 449.85 L715.14 452.32 L715.29 437.15 L715.44 444.1 L715.58 425.33 L715.73 441.36 L715.88 432.26 L716.02 423.59 L716.17 424.3 L716.31 419.32 L716.46 422.15 L716.61 419.24 L716.75 417.22 L716.9 419.1 L717.05 422.02 L717.19 417.35 L717.34 415.58 L717.48 419.39 L717.63 407.24 L717.77 420.15 L717.91 403.29 L718.06 408.79 L718.2 405.51 L718.34 410.55 L718.49 409.86 L718.63 396.25 L718.77 396.85 L718.92 399.87 L719.07 393.74 L719.21 393.7 L719.36 395.7 L719.5 395.41 L719.65 393.63 L719.8 401.2 L719.94 408.06 L720.09 408.12 L720.24 403.81 L720.38 408.12 L720.53 399.4 L720.67 407.88 L720.82 401.32 L720.97 399.81 L721.11 403.31 L721.26 399.63 L721.41 390.91 L721.55 395.14 L721.7 391.92 L721.85 392.41 L721.99 392.02 L722.14 402.17 L722.29 405.35 L722.44 401.41 L722.59 404.4 L722.73 393.98 L722.88 393.88 L723.03 405.92 L723.18 399.47 L723.33 404.32 L723.48 407.68 L723.63 407.38 L723.77 412.17 L723.92 412.95 L724.07 409.66 L724.21 401.85 L724.35 405.51 L724.5 398.91 L724.64 408.34 L724.78 402.96 L724.93 399.05 L725.07 399.74 L725.21 400.07 L725.36 396.28 L725.5 396.19 L725.65 396.65 L725.8 394.65 L725.94 397.84 L726.09 396.62 L726.24 396.47 L726.38 390.05 L726.53 387.49 L726.67 389.63 L726.82 387.19 L726.97 377.42 L727.11 375.28 L727.26 386.7 L727.41 381.06 L727.55 378.86 L727.7 376.05 L727.85 375.37 L727.99 379.59 L728.14 382.71 L728.28 376.95 L728.43 375.93 L728.58 382.22 L728.72 381.83 L728.87 360.17 L729.02 375.43 L729.16 359.59 L729.31 362.61 L729.45 374.52 L729.6 361.78 L729.75 374.05 L729.89 372.15 L730.04 364.66 L730.18 363.03 L730.33 371.05 L730.47 365.81 L730.61 363.08 L730.76 362.64 L730.9 360.4 L731.04 360.46 L731.18 360.95 L731.33 360.31 L731.48 362.55 L731.63 359.69 L731.77 373.26 L731.92 376.35 L732.07 373.45 L732.22 374.49 L732.37 375.22 L732.52 378.29 L732.67 373.84 L732.81 384.87 L732.96 372.4 L733.11 382.42 L733.26 387.19 L733.41 376.8 L733.55 378.57 L733.7 380.76 L733.84 386.89 L733.99 384.09 L734.14 388.18 L734.28 381.69 L734.43 388.36 L734.58 368.98 L734.72 385.87 L734.87 367.88 L735.02 373.86 L735.17 368.07 L735.31 365.51 L735.46 367.39 L735.61 368.67 L735.76 361.45 L735.91 362.39 L736.06 366.17 L736.21 363.4 L736.36 362.11 L736.5 360.45 L736.65 359.78 L736.8 360.31 L736.95 380.23 L737.09 388.82 L737.24 391.45 L737.39 392.07 L737.53 396.09 L737.68 381.52 L737.83 387.84 L737.97 393.54 L738.12 395.99 L738.26 394.8 L738.41 395.24 L738.55 388.16 L738.7 395.7 L738.84 389 L738.99 391.87 L739.13 385.61 L739.28 380.17 L739.42 380.75 L739.57 380.62 L739.71 376.58 L739.86 379.62 L740 374.3 L740.14 400.31 L740.29 391.22 L740.43 379.39 L740.58 387 L740.72 388.1 L740.87 397.76 L741.01 400.61 L741.16 400.63 L741.3 416.2 L741.46 398.38 L741.61 396.71 L741.77 413.92 L741.93 403.91 L742.09 400.66 L742.24 395.88 L742.4 396.9 L742.55 395.53 L742.69 399.88 L742.84 399.59 L742.98 409.07 L743.13 409.71 L743.27 415.05 L743.42 415.93 L743.56 412.33 L743.71 410.2 L743.85 431.67 L744 419.4 L744.15 439.57 L744.3 412.11 L744.45 437.56 L744.6 426.78 L744.75 432.7 L744.9 430.69 L745.05 444.74 L745.2 451.6 L745.35 460.08 L745.5 453.03 L745.65 479.86 L745.8 456.62 L745.95 475.19 L746.1 481.42 L746.25 470.86 L746.4 483 L746.55 490.14 L746.7 484.76 L746.85 489.83 L747 485.34 L747.15 485.04 L747.3 494 L747.46 494.08 L747.61 492.99 L747.77 510.69 L747.93 512.1 L748.09 499.42 L748.24 505.73 L748.4 513.5 L748.55 496.77 L748.7 502.04 L748.85 510.1 L749 495.26 L749.15 495.68 L749.3 490 L749.45 470.1 L749.6 489.46 L749.75 487.69 L749.9 462.26 L750.05 454.26 L750.2 457.39 L750.35 455.9 L750.5 450 L750.66 455.51 L750.81 452.08 L750.97 449.59 L751.13 455.78 L751.29 468.63 L751.44 466.41 L751.6 469 L751.74 489.89 L751.89 479.55 L752.03 469.79 L752.18 482.5 L752.32 485.88 L752.47 485.48 L752.61 487.37 L752.76 488.51 L752.9 490.2 L753.04 494.6 L753.18 497.89 L753.32 502.92 L753.46 505.62 L753.6 502.3 L753.77 534.78 L753.93 500.36 L754.1 540 L754.23 540.95 L754.37 529.5 L754.5 565 L754.67 548.37 L754.83 541.33 L755 545 L755.13 545.52 L755.27 546.68 L755.4 518 L755.57 532.44 L755.73 520.92 L755.9 540 L756.03 529.71 L756.17 538.63 L756.3 515 L756.47 522.68 L756.63 524.66 L756.8 538 L756.97 526.61 L757.13 530.01 L757.3 512 L757.47 527.66 L757.63 513.35 L757.8 542 L757.97 533.85 L758.13 536.04 L758.3 515 L758.47 519.72 L758.63 530.57 L758.8 540 L758.97 540.7 L759.13 541.15 L759.3 518 L759.43 536.76 L759.57 526.38 L759.7 540 L759.85 539.73 L760 520.4 L760.2 500.2 L760.34 532 L760.49 489.41 L760.63 495.81 L760.77 492.59 L760.91 490.01 L761.06 484.18 L761.2 488.2 L761.34 478.82 L761.49 488.14 L761.63 466.99 L761.77 481.28 L761.91 476.42 L762.06 468.63 L762.2 465 L762.36 470.88 L762.51 473.75 L762.67 459.06 L762.83 457.96 L762.99 444.71 L763.14 447.18 L763.3 441.9 L763.45 459.5 L763.6 456 L763.75 446.8 L763.9 467.89 L764.05 457.52 L764.2 460 L764.34 466.87 L764.49 481.24 L764.63 463.53 L764.77 476.26 L764.91 480.87 L765.06 479.84 L765.2 480.1 L765.36 495.36 L765.52 495.55 L765.68 505.31 L765.84 506.12 L766 506.3 L766.15 487.58 L766.3 500.06 L766.45 496.49 L766.6 507.01 L766.75 484.73 L766.9 481.25 L767.05 505.09 L767.2 485.2 L767.37 469.17 L767.53 471.9 L767.7 468 L767.85 473.17 L768 471.31 L768.15 466.56 L768.3 464.21 L768.45 464.1 L768.6 465.88 L768.75 462.79 L768.9 465.64 L769.05 466.96 L769.2 463 L769.35 461.36 L769.5 458.98 L769.65 459.47 L769.8 464.87 L769.95 461.21 L770.1 464.73 L770.25 460.34 L770.4 459.43 L770.55 462.12 L770.7 464 L770.87 472.43 L771.03 482.6 L771.2 480 L771.36 470.44 L771.51 475.46 L771.67 493.06 L771.83 498.51 L771.99 492.13 L772.14 496.74 L772.3 500.2 L772.44 496.76 L772.59 500.67 L772.73 504.36 L772.87 504.43 L773.01 506.48 L773.16 517.5 L773.3 522.4 L773.45 510.1 L773.6 526.32 L773.75 530.79 L773.9 528.07 L774.05 533.33 L774.2 526.11 L774.35 527.26 L774.5 527.3 L774.65 527.88 L774.8 532.4 L774.96 543.54 L775.11 532.1 L775.27 542.69 L775.43 540.45 L775.59 542.2 L775.74 539.55 L775.9 542.4 L776.06 540.51 L776.21 542.29 L776.37 549.69 L776.53 548.74 L776.69 564.48 L776.84 563.11 L777 563.4 L777.14 563.89 L777.29 558.48 L777.43 570.44 L777.57 570.24 L777.71 571.58 L777.86 575.84 L778 574.6 L778.16 576.08 L778.31 577.83 L778.47 576.15 L778.62 579.69 L778.78 576.93 L778.93 582.88 L779.09 580.64 L779.24 578.68 L779.4 584.3 L779.54 577.42 L779.69 563.27 L779.83 574.59 L779.98 569.4 L780.12 567.83 L780.27 579.76 L780.41 574.73 L780.56 553.55 L780.7 563.4 L780.87 552.51 L781.03 532.45 L781.2 534.4 L781.35 529.53 L781.5 528.03 L781.65 529.82 L781.8 528 L781.97 505.89 L782.13 524.7 L782.3 505 L782.47 508.51 L782.63 498.5 L782.8 525 L782.97 521.85 L783.13 498.13 L783.3 498 L783.47 495.21 L783.63 490.02 L783.8 518 L783.95 512.06 L784.1 490 L784.23 510.21 L784.37 476.33 L784.5 500 L784.65 491.24 L784.8 474 L784.97 500 L785.13 486.79 L785.3 492 L785.43 483.38 L785.57 501.15 L785.7 480 L785.87 482.06 L786.03 497.01 L786.2 500 L786.37 497.09 L786.53 500.08 L786.7 486 L786.87 503.79 L787.03 486.13 L787.2 510 L787.37 507.28 L787.53 498.23 L787.7 495 L787.87 516.3 L788.03 501.89 L788.2 520 L788.33 506.37 L788.47 523.12 L788.6 505 L788.75 528.87 L788.9 530.36 L789.05 509.93 L789.2 532 L789.34 533.78 L789.48 532.78 L789.62 534.69 L789.76 542.33 L789.9 541.6 L790.05 542.5 L790.2 536.29 L790.35 541.59 L790.5 540.13 L790.65 534.33 L790.8 539.25 L790.95 531.73 L791.1 538.22 L791.25 531.73 L791.4 530.4 L791.57 509.99 L791.73 506.69 L791.9 500.2 L792.04 501.57 L792.19 503.33 L792.33 494.58 L792.47 495.28 L792.61 495.31 L792.76 487.85 L792.9 492.2 L793.04 494 L793.19 492.12 L793.33 491.12 L793.47 487.02 L793.61 486.45 L793.76 481.37 L793.9 475.1 L794.04 471.74 L794.18 469.64 L794.32 475.96 L794.46 460.57 L794.6 467 L794.75 462 L794.9 470.21 L795.05 461.59 L795.2 453.13 L795.35 435.08 L795.5 435.5 L795.66 424.42 L795.82 421.85 L795.98 424.66 L796.14 419.12 L796.3 403.3 L796.45 408.14 L796.59 398.99 L796.74 402.99 L796.89 400.16 L797.04 400.24 L797.18 400.37 L797.33 397.29 L797.48 399.16 L797.63 398.46 L797.77 404.53 L797.91 417.1 L798.05 405.67 L798.19 434.97 L798.33 426.44 L798.47 415.94 L798.61 426.6 L798.75 433.87 L798.89 424.39 L799.03 426.43 L799.18 425.02 L799.32 425.78 L799.46 415.51 L799.6 397.32 L799.74 404.61 L799.88 403.29 L800.02 391.59 L800.17 386.56 L800.31 387.47 L800.45 392.71 L800.59 399.15 L800.74 389.92 L800.88 379.61 L801.02 385.32 L801.17 380.75 L801.31 381.78 L801.45 392.17 L801.6 393.85 L801.74 384.83 L801.88 392.7 L802.03 390.7 L802.17 394.73 L802.31 388.62 L802.45 393.63 L802.6 393.6 L802.74 393.63 L802.88 386.01 L803.02 374.12 L803.16 378.4 L803.3 384.23 L803.44 384.67 L803.58 362.24 L803.73 369.23 L803.87 372.33 L804.02 360.76 L804.17 362.54 L804.31 363.05 L804.46 363.4 L804.61 360.16 L804.75 362.98 L804.9 359.52 L805.04 366.81 L805.19 360.31 L805.33 371.93 L805.47 368 L805.61 363.83 L805.75 364.21 L805.9 368.98 L806.04 375.71 L806.18 378.83 L806.32 380.75 L806.46 381.32 L806.6 393.1 L806.75 393.87 L806.89 388.19 L807.03 387.25 L807.18 395.13 L807.32 395.41 L807.46 398.89 L807.61 395.24 L807.75 395.95 L807.89 401.37 L808.03 397.87 L808.18 395.9 L808.32 407.41 L808.46 404.65 L808.61 397.99 L808.75 406.92 L808.89 415.36 L809.03 412.23 L809.18 389.51 L809.32 401.27 L809.46 380.18 L809.6 398.72 L809.74 400.82 L809.88 386.08 L810.02 379.14 L810.17 378.11 L810.31 392.44 L810.46 390.31 L810.61 393.51 L810.75 388.7 L810.9 391.51 L811.04 388.96 L811.19 395.43 L811.34 393.83 L811.48 398.9 L811.63 400.07 L811.78 389.73 L811.92 396.38 L812.07 399.06 L812.22 383.37 L812.36 387.13 L812.51 373.26 L812.65 382.23 L812.8 385.28 L812.95 375.83 L813.09 361.69 L813.24 371.1 L813.39 373.07 L813.53 366.79 L813.68 368.85 L813.82 361.91 L813.97 360.11 L814.12 360.34 L814.26 360.61 L814.41 360.43 L814.56 361.3 L814.7 361.54 L814.85 360.31 L815 359.88 L815.15 360.16 L815.3 362.53 L815.45 360.06 L815.6 360.46 L815.75 359.77 L815.9 362.97 L816.04 362.33 L816.19 360.41 L816.34 360.02 L816.49 360.21 L816.64 360.6 L816.79 360.12 L816.94 362.24 L817.08 368.45 L817.22 371.88 L817.36 363.85 L817.51 382.52 L817.65 369.07 L817.79 365.08 L817.93 379.87 L818.07 388.8 L818.21 391.01 L818.35 389.9 L818.49 389.17 L818.63 387.62 L818.77 404.85 L818.91 387.7 L819.05 391.39 L819.2 404.9 L819.34 396 L819.48 404.76 L819.62 379.01 L819.77 372.87 L819.91 375.88 L820.05 374.22 L820.2 372.15 L820.34 369.27 L820.48 372.71 L820.63 364.24 L820.78 375.46 L820.94 373 L821.09 371.6 L821.24 362.22 L821.39 367.08 L821.54 366.12 L821.69 362.81 L821.84 363.41 L821.99 369.2 L822.14 369.52 L822.29 360.32 L822.44 359.57 L822.6 372.86 L822.75 376.15 L822.9 372.71 L823.04 384.03 L823.19 373.8 L823.34 384.56 L823.48 384.75 L823.63 375.13 L823.78 381.48 L823.92 387.46 L824.07 374.91 L824.21 377.11 L824.36 378.87 L824.51 392.02 L824.65 392.35 L824.8 389.91 L824.95 390.53 L825.09 386.78 L825.24 396.61 L825.39 392.82 L825.53 400.45 L825.68 411.01 L825.82 399.28 L825.97 400.23 L826.12 414.56 L826.26 403.55 L826.41 401.43 L826.56 413.39 L826.7 388.91 L826.85 396.56 L826.99 387.82 L827.14 398.62 L827.29 392.31 L827.43 397.96 L827.58 391.99 L827.73 388.8 L827.87 393.7 L828.02 395.31 L828.17 394.19 L828.31 397.9 L828.46 408.74 L828.6 407.14 L828.75 402.96 L828.9 396.66 L829.04 414.74 L829.19 405.85 L829.34 419.39 L829.48 416.25 L829.62 418.52 L829.76 424.95 L829.9 419.53 L830.04 420.22 L830.18 435.12 L830.32 437.02 L830.46 437.09 L830.61 430.24 L830.76 437 L830.9 436.6 L831.05 436.18 L831.19 432.78 L831.34 429.27 L831.49 427.07 L831.63 427.19 L831.78 429.09 L831.93 431.22 L832.07 430.65 L832.22 431.02 L832.36 430.32 L832.5 424.67 L832.64 428.82 L832.79 428.59 L832.93 425.77 L833.07 427.77 L833.22 428.57 L833.36 421 L833.51 423.2 L833.65 423.5 L833.8 431.7 L833.95 427.36 L834.09 426.63 L834.24 433.5 L834.38 434.27 L834.53 434.24 L834.68 442.12 L834.82 437.49 L834.97 435.48 L835.13 441.7 L835.29 437.77 L835.45 434.82 L835.61 451.9 L835.77 454.8 L835.92 430.5 L836.07 420.83 L836.21 437.8 L836.36 436.47 L836.51 427.67 L836.65 428.37 L836.8 427.06 L836.95 417.75 L837.09 412.06 L837.24 411.81 L837.38 419.39 L837.53 416.03 L837.68 415.17 L837.82 412.44 L837.97 395.58 L838.12 406.85 L838.26 401.74 L838.41 407.62 L838.55 399.8 L838.7 396.79 L838.85 396.64 L838.99 393.63 L839.14 402.36 L839.29 395.59 L839.43 408.15 L839.58 405.08 L839.73 401.23 L839.87 418.61 L840.02 408.34 L840.16 406.11 L840.31 411.12 L840.46 408.77 L840.6 417.78 L840.75 415.93 L840.9 405.16 L841.04 385.6 L841.19 388.52 L841.34 394.22 L841.48 371.56 L841.63 394.09 L841.77 373.35 L841.92 380.78 L842.07 371.23 L842.21 368.68 L842.36 367.61 L842.51 369.32 L842.66 359.72 L842.81 359.77 L842.96 361.67 L843.11 360.73 L843.26 360.43 L843.41 361.35 L843.56 364.63 L843.71 364.33 L843.86 368.78 L844.01 364.11 L844.16 372.32 L844.31 369.49 L844.45 371.79 L844.59 374.82 L844.73 370.79 L844.87 381.54 L845.01 382.06 L845.15 375.73 L845.29 379.91 L845.43 385.58 L845.58 386.26 L845.73 394.01 L845.87 389.03 L846.02 387.41 L846.16 394.8 L846.31 394.39 L846.46 390.25 L846.6 390.78 L846.75 396.23 L846.9 394.25 L847.04 395.24 L847.19 392.33 L847.33 391.18 L847.48 391.38 L847.63 395.43 L847.77 396.32 L847.92 408.2 L848.07 414.24 L848.21 415.92 L848.36 396.79 L848.51 395.91 L848.65 421.8 L848.8 422.19 L848.94 417.52 L849.09 417.64 L849.24 420.24 L849.38 419.33 L849.53 417.11 L849.68 417.3 L849.82 416.36 L849.97 412.42 L850.12 411.47 L850.26 416.17 L850.4 412.81 L850.54 410.5 L850.68 400.21 L850.82 415.66 L850.97 415.85 L851.11 398.15 L851.25 393.94 L851.39 395.24 L851.53 396.6 L851.67 392.61 L851.82 389.27 L851.96 384.12 L852.1 386.59 L852.25 386.82 L852.39 379.96 L852.53 385.09 L852.68 375.93 L852.82 368.74 L852.97 368.04 L853.12 376.34 L853.26 365.59 L853.41 360.34 L853.55 375.56 L853.7 364.74 L853.85 360.92 L853.99 360.49 L854.14 361.05 L854.29 361.44 L854.43 360.52 L854.58 360.96 L854.72 361.58 L854.87 360 L855.02 361.69 L855.16 362.27 L855.31 359.58 L855.46 360.01 L855.6 362.16 L855.75 361.88 L855.9 360.31 L856.04 359.69 L856.19 359.92 L856.33 360.39 L856.48 360.21 L856.63 360.68 L856.77 359.95 L856.92 359.81 L857.07 359.53 L857.21 359.75 L857.36 360.19 L857.51 360.31 L857.65 360.22 L857.8 359.5 L857.94 360.03 L858.09 359.5 L858.24 360.8 L858.38 363.83 L858.53 366.87 L858.68 374.64 L858.82 382.32 L858.97 374.45 L859.11 375.93 L859.27 382.95 L859.42 379 L859.58 376.26 L859.73 381.07 L859.88 395.88 L860.04 385.87 L860.19 390.18 L860.35 390.6 L860.5 395 L860.65 392.35 L860.8 395.01 L860.95 399.22 L861.1 411.91 L861.25 416.48 L861.4 414.93 L861.55 411.33 L861.7 424.5 L861.86 409.11 L862.01 411.13 L862.17 410.92 L862.33 410.87 L862.49 401.89 L862.64 395.58 L862.8 405 L862.96 403.88 L863.12 397.02 L863.28 401.26 L863.44 390.56 L863.6 388.8 L863.76 402.4 L863.91 395.73 L864.07 389.48 L864.23 404.38 L864.39 399.97 L864.54 400.96 L864.7 403.3 L864.85 400.76 L865.01 390.22 L865.16 399.79 L865.32 384.44 L865.47 385.05 L865.63 401.51 L865.78 402.94 L865.94 392.46 L866.09 394.33 L866.25 385.89 L866.4 383.2 L866.55 422.16 L866.7 399.16 L866.85 429.13 L867 430.2 L867.14 452.66 L867.28 431.32 L867.42 438.03 L867.56 453.99 L867.7 455.3 L867.84 455.13 L867.98 443.33 L868.12 443.99 L868.26 444.29 L868.4 440.2 L868.56 434.14 L868.72 434.52 L868.88 434.2 L869.04 436.75 L869.2 429.2 L869.34 430 L869.49 430.17 L869.63 430.96 L869.77 430.11 L869.91 430.53 L870.06 436.32 L870.2 435.2 L870.34 437.4 L870.49 436 L870.63 434.54 L870.77 446.31 L870.91 434.26 L871.06 451.51 L871.2 448.3 L871.35 445.8 L871.5 447.49 L871.65 454.19 L871.8 451.56 L871.95 457.02 L872.1 451.55 L872.25 457 L872.4 452.12 L872.55 456.3 L872.7 456.3 L872.85 453.18 L873 456.36 L873.15 453.45 L873.3 451.14 L873.45 455.35 L873.6 448.98 L873.75 452.46 L873.9 455.08 L874.05 445.33 L874.2 446.3 L874.34 455.64 L874.49 455.06 L874.63 448.22 L874.77 455.1 L874.91 446.54 L875.06 458.46 L875.2 460.4 L875.35 456.69 L875.5 454.57 L875.65 449 L875.8 460.8 L875.95 460.19 L876.1 459.11 L876.25 441.32 L876.4 441.85 L876.55 447.21 L876.7 437.2 L876.84 439.39 L876.99 443.99 L877.13 437.01 L877.27 471.28 L877.41 451.63 L877.56 456.86 L877.7 471.4 L877.84 460.6 L877.99 451.76 L878.13 463.57 L878.27 461.69 L878.41 459.98 L878.56 455.22 L878.7 454.3 L878.84 453.24 L878.99 453.94 L879.13 454.22 L879.27 445.01 L879.41 446.38 L879.56 439.6 L879.7 438.2 L879.84 444.15 L879.99 438.09 L880.13 441.16 L880.27 440.16 L880.41 438.38 L880.56 443.33 L880.7 445.3 L880.86 441.35 L881.01 441.55 L881.17 445.1 L881.33 446.56 L881.49 451.19 L881.64 455.78 L881.8 450.3 L881.94 450.57 L882.09 453.19 L882.23 453.7 L882.37 453.95 L882.51 455.19 L882.66 455.75 L882.8 459.4 L882.94 453.27 L883.09 453.83 L883.23 458.7 L883.37 449.16 L883.51 453.58 L883.66 448.24 L883.8 448.3 L883.94 448.22 L884.09 450.17 L884.23 444.08 L884.37 432.29 L884.51 440.93 L884.66 422.27 L884.8 430.2 L884.93 422.14 L885.07 431.76 L885.2 405.3 L885.37 403.4 L885.53 395.03 L885.7 375.1 L885.84 359.78 L885.98 378.18 L886.12 366.38 L886.26 361.72 L886.4 360 L886.54 362.21 L886.69 359.51 L886.83 361.15 L886.98 362.48 L887.12 363.54 L887.27 362.32 L887.41 364.97 L887.56 373.16 L887.7 365.1 L887.84 368.17 L887.99 381.11 L888.13 383.24 L888.27 387.24 L888.41 383.66 L888.56 396.14 L888.7 396.2 L888.84 386.85 L888.99 396.09 L889.13 393.14 L889.27 391.92 L889.41 391.87 L889.56 383.72 L889.7 380.2 L889.84 381.83 L889.99 381.71 L890.13 380.19 L890.27 365.65 L890.41 365.6 L890.56 361.66 L890.7 361 L890.84 361.76 L890.99 362.13 L891.13 359.92 L891.28 361.92 L891.42 359.69 L891.57 360.37 L891.71 364.82 L891.86 367.41 L892 360 L892.15 366.04 L892.3 373.17 L892.45 395.75 L892.6 377.18 L892.75 387.85 L892.9 378.68 L893.05 396.49 L893.2 398.3 L893.34 389.98 L893.49 391.45 L893.63 389.47 L893.77 390.58 L893.91 382.18 L894.06 398.45 L894.2 375.1 L894.34 378.08 L894.49 367.9 L894.63 360.91 L894.77 369.09 L894.91 359.91 L895.06 359.66 L895.2 360.5 L895.35 360.07 L895.5 359.82 L895.65 360.98 L895.8 359.52 L895.95 360.38 L896.1 360.41 L896.25 362.67 L896.4 360.14 L896.55 367.99 L896.7 365.1 L896.84 383.77 L896.99 369.24 L897.13 384.58 L897.27 375.39 L897.41 385.31 L897.56 382.26 L897.7 385.2 L897.84 380.43 L897.99 383.92 L898.13 381.18 L898.27 384.94 L898.41 384.9 L898.56 382.22 L898.7 380.2 L898.84 386.77 L898.99 393.96 L899.13 384.75 L899.27 412.36 L899.41 382.64 L899.56 413.58 L899.7 415.4 L899.84 400.82 L899.99 427.71 L900.13 427.38 L900.27 425.14 L900.41 421.07 L900.56 426.82 L900.7 429.4 L900.86 421.8 L901.01 427.29 L901.17 421.77 L901.33 408.62 L901.49 414.34 L901.64 408.09 L901.8 405.3 L901.94 413.24 L902.09 409.21 L902.23 401.92 L902.37 387.98 L902.51 402.23 L902.66 385.37 L902.8 385.2 L902.95 376.24 L903.1 390.76 L903.25 374.37 L903.4 378.36 L903.55 374.86 L903.7 372.63 L903.85 366.03 L904 364.78 L904.15 359.63 L904.3 365.1 L904.45 365.09 L904.6 369.65 L904.75 359.66 L904.9 359.84 L905.05 362.51 L905.2 360.13 L905.35 362.82 L905.5 360 L905.64 360.03 L905.79 360.65 L905.93 360 L906.08 360.78 L906.22 360.64 L906.37 360.11 L906.51 364.72 L906.66 366.54 L906.8 361 L906.94 359.73 L907.09 360.94 L907.23 362.37 L907.37 359.51 L907.51 374.48 L907.66 364.64 L907.8 375.1 L907.95 362.63 L908.1 375.41 L908.25 385.21 L908.4 383.66 L908.55 374.73 L908.7 374.24 L908.85 395.78 L909 396.48 L909.15 392.12 L909.3 395.2 L909.47 396.21 L909.63 402.37 L909.8 415.4 L909.94 403.05 L910.09 407.49 L910.23 409.65 L910.37 400.49 L910.51 400.4 L910.66 408.46 L910.8 400.3 L910.94 400.5 L911.09 402.43 L911.23 400.54 L911.37 404.3 L911.51 420.11 L911.66 407.98 L911.8 415.4 L911.94 422.52 L912.09 421.2 L912.23 425.61 L912.37 424.85 L912.51 449.45 L912.66 434.93 L912.8 430.5 L912.96 426.95 L913.11 477.49 L913.27 434.15 L913.43 470.17 L913.59 484.6 L913.74 456.94 L913.9 487.1 L914.05 474.11 L914.2 462.46 L914.35 471.83 L914.5 480.25 L914.65 473.12 L914.8 462.2 L914.94 470.04 L915.08 456.96 L915.22 461.32 L915.36 455.69 L915.5 461.4 L915.67 460.39 L915.83 449.97 L916 449.3" fill="none" stroke="#ffa500" stroke-width="2.08" stroke-linejoin="round" stroke-linecap="square"/>
<path d="M93.5 426H956.5" stroke="#0000ff" stroke-width="2" fill="none"/>
<path d="M93.5 409H956.5" stroke="#ff0000" stroke-width="2" fill="none"/>
<path d="M93.5 502H956.5" stroke="#ff00ff" stroke-width="2" fill="none"/>
<path d="M93.5 533H956.5" stroke="#32cd32" stroke-width="2" fill="none"/>
<path d="M93.5 549H956.5" stroke="#1e90ff" stroke-width="2" fill="none"/>
<path d="M93.5 567H956.5" stroke="#6a5acd" stroke-width="2" fill="none"/>
<path d="M93.5 598H956.5" stroke="#a9a9a9" stroke-width="2" fill="none"/>
</g>
<rect x="608.5" y="602.4" width="340.7" height="149.8" rx="2.8" fill="#fff" fill-opacity="0.8" stroke="#cccccc" stroke-opacity="0.8" stroke-width="1.1"/>
<path d="M612.5 613H641.9" stroke="#0000ff" stroke-width="2" fill="none"/>
<text x="652.3" y="617.9">Ulcer Index: -13.32%</text>
<path d="M612.5 634H641.9" stroke="#ff0000" stroke-width="2" fill="none"/>
<text x="652.3" y="638.9">Average Drawdown: -10.02%</text>
<path d="M612.5 655H641.9" stroke="#ff00ff" stroke-width="2" fill="none"/>
<text x="652.3" y="659.9">95.00% Confidence DaR: -28.56%</text>
<path d="M612.5 676H641.9" stroke="#32cd32" stroke-width="2" fill="none"/>
<text x="652.3" y="680.9">95.00% Confidence CDaR: -34.76%</text>
<path d="M612.5 697H641.9" stroke="#1e90ff" stroke-width="2" fill="none"/>
<text x="652.3" y="701.9">95.00% Confidence EDaR: -37.98%</text>
<path d="M612.5 718H641.9" stroke="#6a5acd" stroke-width="2" fill="none"/>
<text x="652.3" y="722.9">95.00% Confidence RLDaR (0.3): -41.62%</text>
<path d="M612.5 739H641.9" stroke="#a9a9a9" stroke-width="2" fill="none"/>
<text x="652.3" y="743.9">Maximum Drawdown: -47.69%</text>
<g stroke="#000" stroke-width="1" fill="none">
<path d="M197.5 759.5v5.3"/>
<path d="M306.5 759.5v5.3"/>
<path d="M414.5 759.5v5.3"/>
<path d="M522.5 759.5v5.3"/>
<path d="M630.5 759.5v5.3"/>
<path d="M738.5 759.5v5.3"/>
<path d="M846.5 759.5v5.3"/>
<path d="M954.5 759.5v5.3"/>
<path d="M93.5 759.5h-5.3"/>
<path d="M93.5 709.5h-5.3"/>
<path d="M93.5 659.5h-5.3"/>
<path d="M93.5 609.5h-5.3"/>
<path d="M93.5 559.5h-5.3"/>
<path d="M93.5 509.5h-5.3"/>
<path d="M93.5 459.5h-5.3"/>
<path d="M93.5 409.5h-5.3"/>
<path d="M93.5 359.5h-5.3"/>
</g>
<g text-anchor="middle">
<text x="197.5" y="779.7">2012-01</text>
<text x="306.5" y="779.7">2014-01</text>
<text x="414.5" y="779.7">2016-01</text>
<text x="522.5" y="779.7">2018-01</text>
<text x="630.5" y="779.7">2020-01</text>
<text x="738.5" y="779.7">2022-01</text>
<text x="846.5" y="779.7">2024-01</text>
<text x="954.5" y="779.7">2026-01</text>
</g>
<g text-anchor="end">
<text x="84" y="764.65">-80.00%</text>
<text x="84" y="714.65">-70.00%</text>
<text x="84" y="664.65">-60.00%</text>
<text x="84" y="614.65">-50.00%</text>
<text x="84" y="564.65">-40.00%</text>
<text x="84" y="514.65">-30.00%</text>
<text x="84" y="464.65">-20.00%</text>
<text x="84" y="414.65">-10.00%</text>
<text x="84" y="364.65">0.00%</text>
</g>
<rect x="93.5" y="359.5" width="863" height="400" fill="none" stroke="#000" stroke-width="1.1"/>
<text x="524.2" y="351.3" font-size="16.67" text-anchor="middle">Historical Uncompounded Drawdown</text>
</svg>
</body></html>
